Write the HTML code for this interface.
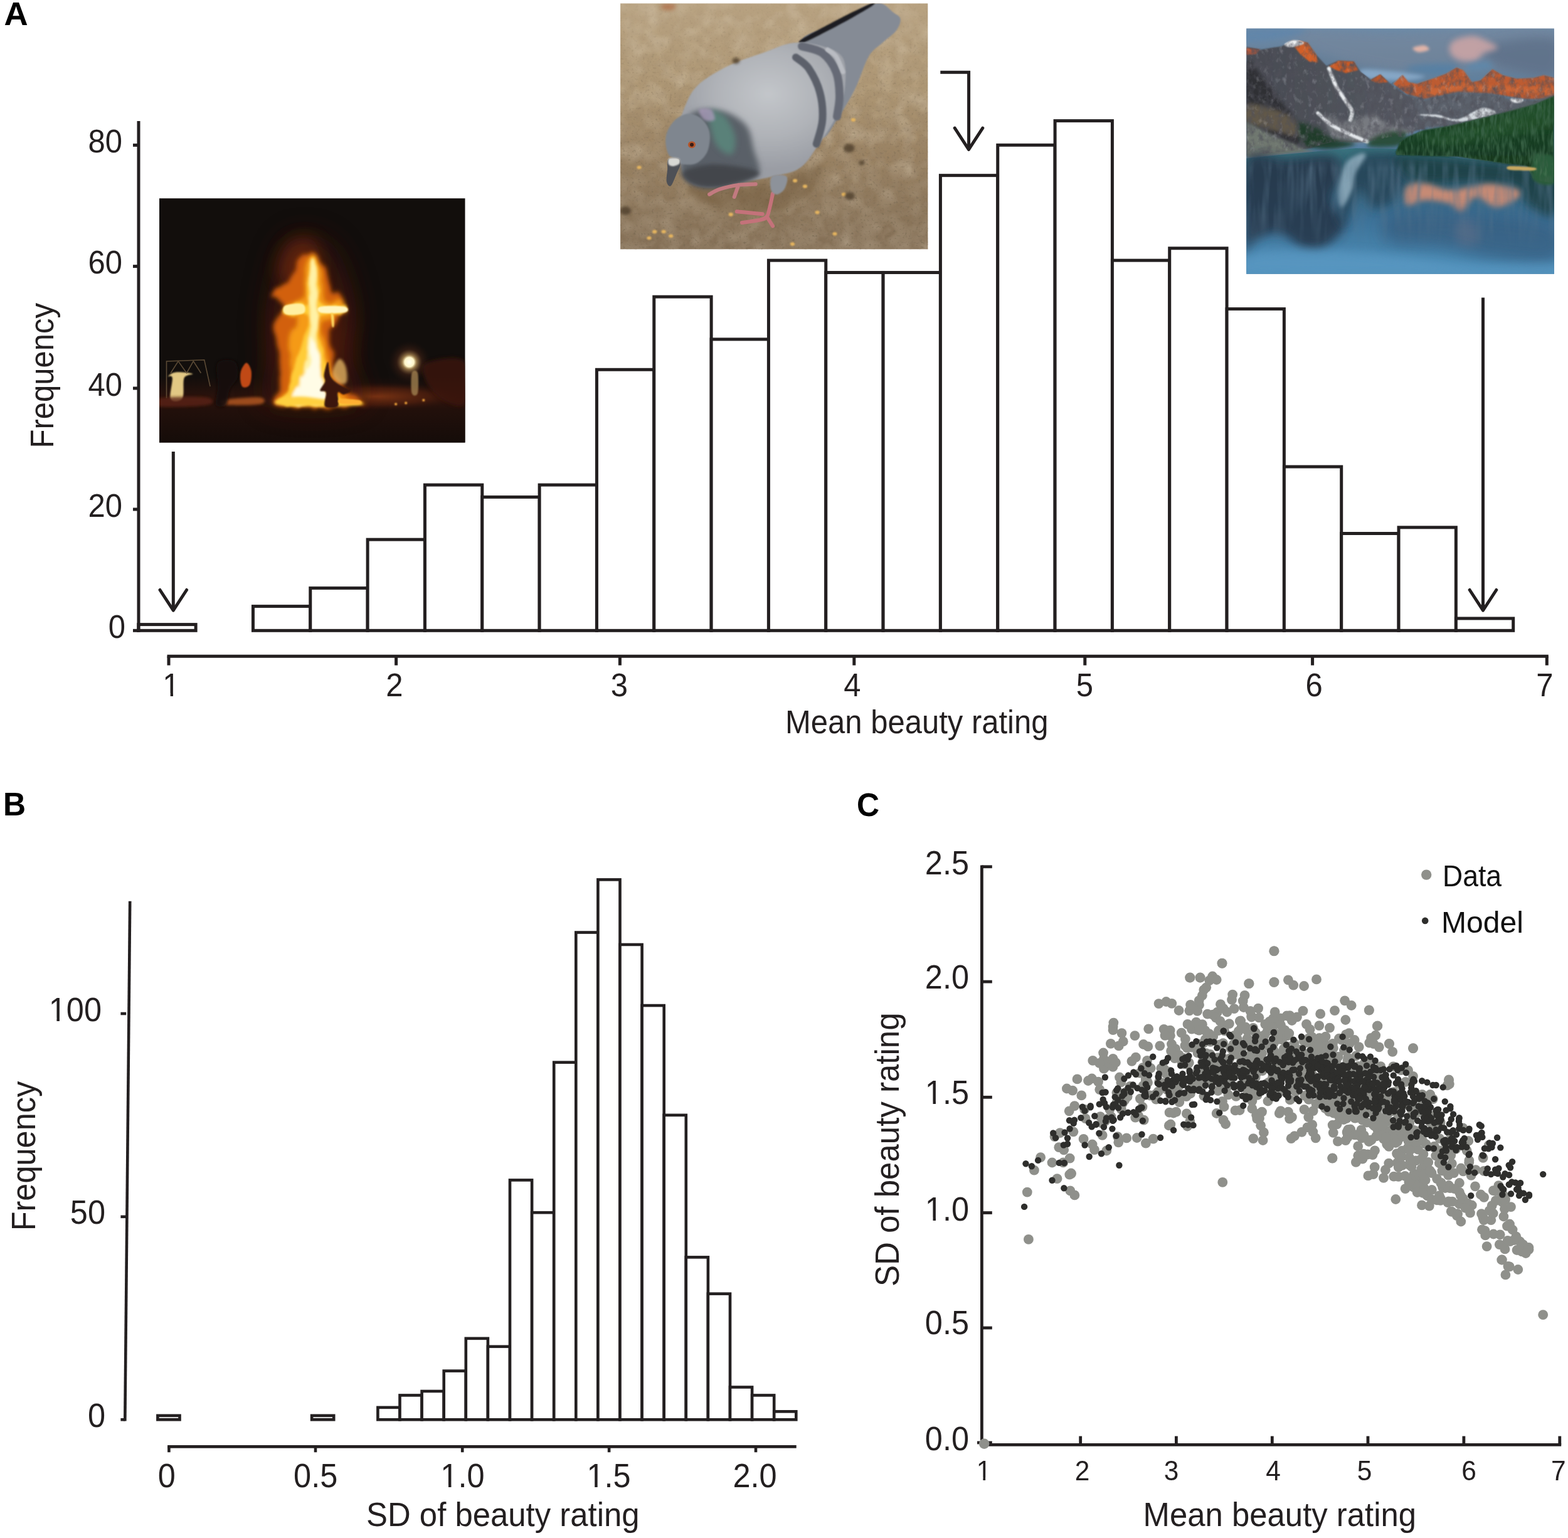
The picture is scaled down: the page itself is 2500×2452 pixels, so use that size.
<!DOCTYPE html>
<html lang="en"><head><meta charset="utf-8"><title>Figure</title>
<style>html,body{margin:0;padding:0;background:#fff}svg{display:block}</style></head><body>
<svg width="2500" height="2452" viewBox="0 0 2500 2452" role="img" aria-label="Distributions of mean beauty ratings and their standard deviations">
<rect width="2500" height="2452" fill="#fff"/>
<g id="panelA">
<text font-size="50" font-family='"Liberation Sans", Arial, Helvetica, sans-serif' fill="#000" font-weight="bold" transform="translate(6.6 40) scale(1 1.045)" textLength="38.2" lengthAdjust="spacingAndGlyphs">A</text>
<rect x="220.80" y="995.62" width="91.33" height="9.68" fill="#fff" stroke="#231f20" stroke-width="5"/>
<rect x="403.46" y="966.60" width="91.33" height="38.70" fill="#fff" stroke="#231f20" stroke-width="5"/>
<rect x="494.79" y="937.57" width="91.33" height="67.73" fill="#fff" stroke="#231f20" stroke-width="5"/>
<rect x="586.12" y="860.17" width="91.33" height="145.12" fill="#fff" stroke="#231f20" stroke-width="5"/>
<rect x="677.45" y="773.10" width="91.33" height="232.20" fill="#fff" stroke="#231f20" stroke-width="5"/>
<rect x="768.78" y="792.45" width="91.33" height="212.85" fill="#fff" stroke="#231f20" stroke-width="5"/>
<rect x="860.11" y="773.10" width="91.33" height="232.20" fill="#fff" stroke="#231f20" stroke-width="5"/>
<rect x="951.44" y="589.27" width="91.33" height="416.03" fill="#fff" stroke="#231f20" stroke-width="5"/>
<rect x="1042.77" y="473.17" width="91.33" height="532.12" fill="#fff" stroke="#231f20" stroke-width="5"/>
<rect x="1134.10" y="540.90" width="91.33" height="464.40" fill="#fff" stroke="#231f20" stroke-width="5"/>
<rect x="1225.43" y="415.12" width="91.33" height="590.18" fill="#fff" stroke="#231f20" stroke-width="5"/>
<rect x="1316.76" y="434.47" width="91.33" height="570.83" fill="#fff" stroke="#231f20" stroke-width="5"/>
<rect x="1408.09" y="434.47" width="91.33" height="570.83" fill="#fff" stroke="#231f20" stroke-width="5"/>
<rect x="1499.42" y="279.67" width="91.33" height="725.62" fill="#fff" stroke="#231f20" stroke-width="5"/>
<rect x="1590.75" y="231.30" width="91.33" height="774.00" fill="#fff" stroke="#231f20" stroke-width="5"/>
<rect x="1682.08" y="192.60" width="91.33" height="812.70" fill="#fff" stroke="#231f20" stroke-width="5"/>
<rect x="1773.41" y="415.12" width="91.33" height="590.18" fill="#fff" stroke="#231f20" stroke-width="5"/>
<rect x="1864.74" y="395.77" width="91.33" height="609.53" fill="#fff" stroke="#231f20" stroke-width="5"/>
<rect x="1956.07" y="492.52" width="91.33" height="512.78" fill="#fff" stroke="#231f20" stroke-width="5"/>
<rect x="2047.40" y="744.07" width="91.33" height="261.23" fill="#fff" stroke="#231f20" stroke-width="5"/>
<rect x="2138.73" y="850.50" width="91.33" height="154.80" fill="#fff" stroke="#231f20" stroke-width="5"/>
<rect x="2230.06" y="840.82" width="91.33" height="164.48" fill="#fff" stroke="#231f20" stroke-width="5"/>
<rect x="2321.39" y="985.95" width="91.33" height="19.35" fill="#fff" stroke="#231f20" stroke-width="5"/>
<line x1="221.0" y1="193" x2="221.0" y2="1007.8" stroke="#231f20" stroke-width="5" stroke-linecap="butt"/>
<line x1="212" y1="231.4" x2="221.0" y2="231.4" stroke="#231f20" stroke-width="5" stroke-linecap="butt"/>
<text font-size="49" font-family='"Liberation Sans", Arial, Helvetica, sans-serif' fill="#231f20" text-anchor="end" transform="translate(195 243.0) scale(1 1.045)">80</text>
<line x1="212" y1="424.6" x2="221.0" y2="424.6" stroke="#231f20" stroke-width="5" stroke-linecap="butt"/>
<text font-size="49" font-family='"Liberation Sans", Arial, Helvetica, sans-serif' fill="#231f20" text-anchor="end" transform="translate(195 436.20000000000005) scale(1 1.045)">60</text>
<line x1="212" y1="619" x2="221.0" y2="619" stroke="#231f20" stroke-width="5" stroke-linecap="butt"/>
<text font-size="49" font-family='"Liberation Sans", Arial, Helvetica, sans-serif' fill="#231f20" text-anchor="end" transform="translate(195 630.6) scale(1 1.045)">40</text>
<line x1="212" y1="812" x2="221.0" y2="812" stroke="#231f20" stroke-width="5" stroke-linecap="butt"/>
<text font-size="49" font-family='"Liberation Sans", Arial, Helvetica, sans-serif' fill="#231f20" text-anchor="end" transform="translate(195 823.6) scale(1 1.045)">20</text>
<line x1="212" y1="1005.3" x2="221.0" y2="1005.3" stroke="#231f20" stroke-width="5" stroke-linecap="butt"/>
<text font-size="49" font-family='"Liberation Sans", Arial, Helvetica, sans-serif' fill="#231f20" text-anchor="end" transform="translate(200 1016.9) scale(1 1.045)">0</text>
<text font-size="49" font-family='"Liberation Sans", Arial, Helvetica, sans-serif' fill="#231f20" transform="translate(84.8 714.5) rotate(-90) scale(1 1.045)">Frequency</text>
<line x1="266.5" y1="1046.3" x2="2468.8" y2="1046.3" stroke="#231f20" stroke-width="5" stroke-linecap="butt"/>
<line x1="269" y1="1046.3" x2="269" y2="1060.7" stroke="#231f20" stroke-width="5" stroke-linecap="butt"/>
<clipPath id="one1"><path d="M-33.63 -58.80H33.63V19.60H-33.63Z M-11.23 -4.06H-1.30V3H-11.23Z M3.03 -4.06H12.69V3H3.03Z" clip-rule="evenodd"/></clipPath>
<text font-size="49" font-family='"Liberation Sans", Arial, Helvetica, sans-serif' fill="#231f20" text-anchor="middle" transform="translate(273 1109.6) scale(1 1.045)" clip-path="url(#one1)">1</text>
<line x1="631.6" y1="1046.3" x2="631.6" y2="1060.7" stroke="#231f20" stroke-width="5" stroke-linecap="butt"/>
<text font-size="49" font-family='"Liberation Sans", Arial, Helvetica, sans-serif' fill="#231f20" text-anchor="middle" transform="translate(628.9 1109.6) scale(1 1.045)">2</text>
<line x1="988.4" y1="1046.3" x2="988.4" y2="1060.7" stroke="#231f20" stroke-width="5" stroke-linecap="butt"/>
<text font-size="49" font-family='"Liberation Sans", Arial, Helvetica, sans-serif' fill="#231f20" text-anchor="middle" transform="translate(987.5 1109.6) scale(1 1.045)">3</text>
<line x1="1361.8" y1="1046.3" x2="1361.8" y2="1060.7" stroke="#231f20" stroke-width="5" stroke-linecap="butt"/>
<text font-size="49" font-family='"Liberation Sans", Arial, Helvetica, sans-serif' fill="#231f20" text-anchor="middle" transform="translate(1359 1109.6) scale(1 1.045)">4</text>
<line x1="1729.8" y1="1046.3" x2="1729.8" y2="1060.7" stroke="#231f20" stroke-width="5" stroke-linecap="butt"/>
<text font-size="49" font-family='"Liberation Sans", Arial, Helvetica, sans-serif' fill="#231f20" text-anchor="middle" transform="translate(1729.4 1109.6) scale(1 1.045)">5</text>
<line x1="2092.6" y1="1046.3" x2="2092.6" y2="1060.7" stroke="#231f20" stroke-width="5" stroke-linecap="butt"/>
<text font-size="49" font-family='"Liberation Sans", Arial, Helvetica, sans-serif' fill="#231f20" text-anchor="middle" transform="translate(2095.2 1109.6) scale(1 1.045)">6</text>
<line x1="2466.3" y1="1046.3" x2="2466.3" y2="1060.7" stroke="#231f20" stroke-width="5" stroke-linecap="butt"/>
<text font-size="49" font-family='"Liberation Sans", Arial, Helvetica, sans-serif' fill="#231f20" text-anchor="middle" transform="translate(2462.9 1109.6) scale(1 1.045)">7</text>
<text font-size="49" font-family='"Liberation Sans", Arial, Helvetica, sans-serif' fill="#231f20" transform="translate(1252 1168.7) scale(1 1.045)">Mean beauty rating</text>
<path d="M276.3 720 L276.3 972.7" fill="none" stroke="#231f20" stroke-width="5" stroke-linecap="butt" stroke-linejoin="miter"/>
<path d="M255.0 940.5 L276.3 973.1 L297.6 940.5" fill="none" stroke="#231f20" stroke-width="5" stroke-linecap="round" stroke-linejoin="round"/>
<path d="M2364.5 474.6 L2364.5 972.7" fill="none" stroke="#231f20" stroke-width="5" stroke-linecap="butt" stroke-linejoin="miter"/>
<path d="M2343.2 940.5 L2364.5 973.1 L2385.8 940.5" fill="none" stroke="#231f20" stroke-width="5" stroke-linecap="round" stroke-linejoin="round"/>
<path d="M1499.3 115.3 L1544.6 115.3 L1544.6 237" fill="none" stroke="#231f20" stroke-width="5" stroke-linecap="butt" stroke-linejoin="miter"/>
<path d="M1522.2 204.1 L1544.5 238.3 L1566.8 204.1" fill="none" stroke="#231f20" stroke-width="5" stroke-linecap="round" stroke-linejoin="round"/>
</g>
<defs>
<clipPath id="cp1"><rect x="254" y="316.2" width="487.5" height="389.2"/></clipPath>
<clipPath id="cp2"><rect x="989.1" y="5.5" width="490.2" height="391.8"/></clipPath>
<clipPath id="cp3"><rect x="1987.2" y="45.6" width="490.7" height="391.2"/></clipPath>
<filter id="b1" x="-50%" y="-50%" width="200%" height="200%"><feGaussianBlur stdDeviation="1"/></filter>
<filter id="b2" x="-50%" y="-50%" width="200%" height="200%"><feGaussianBlur stdDeviation="2"/></filter>
<filter id="b3" x="-50%" y="-50%" width="200%" height="200%"><feGaussianBlur stdDeviation="3"/></filter>
<filter id="b5" x="-50%" y="-50%" width="200%" height="200%"><feGaussianBlur stdDeviation="5"/></filter>
<filter id="b8" x="-50%" y="-50%" width="200%" height="200%"><feGaussianBlur stdDeviation="8"/></filter>
<filter id="b12" x="-50%" y="-50%" width="200%" height="200%"><feGaussianBlur stdDeviation="12"/></filter>
<filter id="b20" x="-50%" y="-50%" width="200%" height="200%"><feGaussianBlur stdDeviation="20"/></filter>
</defs>
<g id="photo-fire" clip-path="url(#cp1)">
<defs>
<radialGradient id="fg1" cx="497" cy="545" r="150" gradientUnits="userSpaceOnUse" gradientTransform="translate(497 545) scale(0.62 1) translate(-497 -545)"><stop offset="0" stop-color="#8a3208" stop-opacity="1"/><stop offset="0.45" stop-color="#5a1c08" stop-opacity=".85"/><stop offset="1" stop-color="#2a0e08" stop-opacity="0"/></radialGradient>
<radialGradient id="fg2" cx="652.6" cy="577.3" r="34" gradientUnits="userSpaceOnUse"><stop offset="0" stop-color="#fffff0"/><stop offset="0.22" stop-color="#fff6c8"/><stop offset="0.34" stop-color="#c8a060" stop-opacity=".7"/><stop offset="0.6" stop-color="#60301c" stop-opacity=".35"/><stop offset="1" stop-color="#30140c" stop-opacity="0"/></radialGradient>
<linearGradient id="fg3" x1="0" y1="600" x2="0" y2="705" gradientUnits="userSpaceOnUse"><stop offset="0" stop-color="#2a120c" stop-opacity="0"/><stop offset="0.35" stop-color="#2e130c"/><stop offset="0.5" stop-color="#22100b"/><stop offset="1" stop-color="#150c09"/></linearGradient>
<radialGradient id="fg4" cx="600" cy="632" r="140" gradientUnits="userSpaceOnUse" gradientTransform="translate(600 632) scale(1 0.16) translate(-600 -632)"><stop offset="0" stop-color="#7a3414"/><stop offset="0.6" stop-color="#4c1e0e" stop-opacity=".8"/><stop offset="1" stop-color="#2c120c" stop-opacity="0"/></radialGradient>
</defs>
<rect x="250" y="312" width="496" height="398" fill="#120e0c"/>
<rect x="250" y="312" width="496" height="398" fill="url(#fg1)"/>
<rect x="250" y="600" width="496" height="110" fill="url(#fg3)"/>
<rect x="250" y="600" width="496" height="70" fill="url(#fg4)"/>
<filter id="flm" x="-30%" y="-30%" width="160%" height="160%"><feTurbulence type="fractalNoise" baseFrequency="0.045 0.02" numOctaves="2" seed="3" result="n"/><feDisplacementMap in="SourceGraphic" in2="n" scale="26" xChannelSelector="R" yChannelSelector="G"/><feGaussianBlur stdDeviation="3.6"/></filter>
<filter id="flm2" x="-30%" y="-30%" width="160%" height="160%"><feTurbulence type="fractalNoise" baseFrequency="0.06 0.025" numOctaves="2" seed="8" result="n"/><feDisplacementMap in="SourceGraphic" in2="n" scale="16" xChannelSelector="R" yChannelSelector="G"/><feGaussianBlur stdDeviation="2.2"/></filter>
<path d="M481.1 372.3 C494.5 371.9 516.8 377.2 529.3 388.4 C541.8 399.6 549.4 420.1 556.1 439.3 C562.8 458.5 568.6 482.2 569.5 503.6 C570.4 525.0 560.6 544.7 561.5 567.9 C562.4 591.1 597.2 630.0 574.9 642.9 C552.6 655.9 452.5 658.1 427.5 645.6 C402.5 633.1 425.7 591.6 424.9 567.9 C424.0 544.2 420.8 525.0 422.2 503.6 C423.5 482.2 428.4 458.1 432.9 439.3 C437.4 420.6 440.9 402.2 449.0 391.1 C457.0 379.9 467.7 372.8 481.1 372.3Z" fill="#3c1208" opacity=".6" filter="url(#b20)"/>
<path d="M459.7 388.4 C468.2 379.5 486.0 377.2 494.5 380.4 C503.0 383.5 508.3 395.6 510.6 407.2 C512.8 418.8 514.6 441.1 507.9 450.0 C501.2 459.0 481.1 463.4 470.4 460.7 C459.7 458.1 445.4 446.0 443.6 434.0 C441.8 421.9 451.2 397.3 459.7 388.4Z" fill="#7a2a0c" opacity=".6" filter="url(#b12)"/>
<g filter="url(#flm)">
<path d="M497.2 403.1 C502.1 403.6 506.1 411.8 510.6 417.9 C515.0 423.9 520.0 431.3 524.0 439.3 C528.0 447.3 529.8 458.5 534.7 466.1 C539.6 473.7 550.5 479.0 553.4 484.9 C556.3 490.7 555.2 496.5 552.1 500.9 C549.0 505.4 538.9 504.9 534.7 511.6 C530.5 518.3 527.5 531.7 526.7 541.1 C525.8 550.5 528.0 559.0 529.3 567.9 C530.7 576.8 531.6 585.8 534.7 594.7 C537.8 603.6 541.8 613.9 548.1 621.5 C554.3 629.1 568.6 636.0 572.2 640.2 C575.8 644.5 591.0 645.8 569.5 646.9 C548.1 648.1 464.1 651.2 443.6 646.9 C423.1 642.7 445.4 630.2 446.3 621.5 C447.2 612.8 449.4 603.6 449.0 594.7 C448.5 585.8 444.9 576.8 443.6 567.9 C442.3 559.0 441.8 550.0 440.9 541.1 C440.0 532.2 436.5 521.5 438.2 514.3 C440.0 507.2 449.4 503.2 451.6 498.2 C453.9 493.3 454.3 490.2 451.6 484.9 C449.0 479.5 432.9 473.7 435.6 466.1 C438.2 458.5 460.1 447.8 467.7 439.3 C475.3 430.8 476.2 421.2 481.1 415.2 C486.0 409.2 492.3 402.7 497.2 403.1Z" fill="#d2600e" />
<path d="M497.7 407.2 C500.8 407.6 505.3 416.1 507.9 423.2 C510.5 430.4 511.5 441.5 513.3 450.0 C515.0 458.5 512.4 468.1 518.6 474.1 C524.9 480.2 545.4 482.0 550.8 486.2 C556.1 490.4 555.2 496.2 550.8 499.6 C546.3 502.9 529.8 500.3 524.0 506.3 C518.2 512.3 516.8 525.5 515.9 535.8 C515.0 546.0 517.3 558.1 518.6 567.9 C520.0 577.7 521.7 585.8 524.0 594.7 C526.2 603.6 528.0 613.4 532.0 621.5 C536.0 629.5 561.5 639.1 548.1 642.9 C534.7 646.7 466.4 647.8 451.6 644.3 C436.9 640.7 457.9 629.7 459.7 621.5 C461.5 613.2 462.4 603.6 462.4 594.7 C462.4 585.8 459.7 576.8 459.7 567.9 C459.7 559.0 460.6 550.5 462.4 541.1 C464.1 531.7 471.7 518.6 470.4 511.6 C469.1 504.7 457.0 503.8 454.3 499.6 C451.6 495.3 449.9 490.4 454.3 486.2 C458.8 482.0 475.8 481.1 481.1 474.1 C486.5 467.2 485.1 453.6 486.5 444.7 C487.8 435.7 487.3 426.8 489.1 420.6 C491.0 414.3 494.6 406.7 497.7 407.2Z" fill="#f59a16" />
</g>
<g filter="url(#flm2)">
<path d="M498.5 409.8 C501.0 409.8 504.8 420.1 506.6 428.6 C508.3 437.1 508.6 451.8 509.2 460.7 C509.9 469.7 503.9 477.7 510.6 482.2 C517.3 486.6 543.0 484.9 549.4 487.5 C555.9 490.2 555.7 495.6 549.4 498.2 C543.2 500.9 518.2 497.4 511.9 503.6 C505.7 509.9 511.0 525.0 511.9 535.8 C512.8 546.5 515.5 558.1 517.3 567.9 C519.1 577.7 520.6 585.8 522.6 594.7 C524.6 603.6 526.9 613.4 529.3 621.5 C531.8 629.5 550.3 639.1 537.4 642.9 C524.4 646.7 464.8 647.8 451.6 644.3 C438.5 640.7 456.1 629.7 458.3 621.5 C460.6 613.2 462.6 603.6 465.0 594.7 C467.5 585.8 469.9 577.7 473.1 567.9 C476.2 558.1 480.9 546.2 483.8 535.8 C486.7 525.3 495.2 511.0 490.5 504.9 C485.8 498.9 461.5 502.5 455.7 499.6 C449.9 496.7 450.1 490.4 455.7 487.5 C461.2 484.6 483.3 486.6 489.1 482.2 C495.0 477.7 490.0 469.7 490.5 460.7 C490.9 451.8 490.5 437.1 491.8 428.6 C493.2 420.1 496.1 409.8 498.5 409.8Z" fill="#ffcc38" />
<path d="M498.5 412.5 C500.1 412.5 502.8 424.1 503.9 434.0 C505.0 443.8 504.6 459.8 505.2 471.5 C505.9 483.1 507.7 492.0 507.9 503.6 C508.1 515.2 506.6 528.2 506.6 541.1 C506.6 554.1 507.2 570.1 507.9 581.3 C508.6 592.5 509.7 598.3 510.6 608.1 C511.5 617.9 520.0 634.7 513.3 640.2 C506.6 645.8 475.8 646.9 470.4 641.6 C465.0 636.2 478.0 618.1 481.1 608.1 C484.2 598.0 487.1 592.5 489.1 581.3 C491.2 570.1 492.3 554.1 493.2 541.1 C494.1 528.2 494.4 515.2 494.5 503.6 C494.6 492.0 494.0 483.1 494.0 471.5 C494.0 459.8 493.7 443.8 494.5 434.0 C495.3 424.1 497.0 412.5 498.5 412.5Z" fill="#fff2a6" />
<path d="M499.9 535.8 C502.5 535.8 505.7 569.2 507.9 581.3 C510.1 593.4 511.7 598.5 513.3 608.1 C514.8 617.7 524.9 633.5 517.3 638.9 C509.7 644.3 474.2 645.4 467.7 640.2 C461.2 635.1 474.4 617.9 478.4 608.1 C482.5 598.3 488.3 593.4 491.8 581.3 C495.4 569.2 497.2 535.8 499.9 535.8Z" fill="#fffce6" />
</g>
<path d="M454.3 487.5 C458.8 484.9 477.5 482.8 482.5 484.9 C487.4 486.9 488.3 496.9 483.8 499.6 C479.3 502.3 460.6 502.9 455.7 500.9 C450.8 498.9 449.9 490.2 454.3 487.5Z" fill="#fff0a0" filter="url(#b1)"/>
<path d="M510.6 488.9 C516.8 487.2 542.7 487.4 549.4 488.9 C556.1 490.3 557.0 496.1 550.8 497.7 C544.5 499.4 518.6 500.3 511.9 498.8 C505.2 497.3 504.3 490.5 510.6 488.9Z" fill="#fff6c0" filter="url(#b1)"/>
<path d="M528.0 499.6 C528.4 496.9 531.3 500.3 532.0 503.6 C532.8 507.0 533.0 517.0 532.5 519.7 C532.1 522.4 530.1 523.0 529.3 519.7 C528.6 516.3 527.5 502.3 528.0 499.6Z" fill="#ffd860" filter="url(#b1)"/>
<path d="M443.6 636.2 C449.6 634.0 467.7 632.0 481.1 632.2 C494.5 632.4 508.8 636.2 524.0 637.6 C539.2 638.9 564.2 638.8 572.2 640.2 C580.2 641.7 582.9 644.9 572.2 646.1 C561.5 647.4 529.1 647.8 507.9 647.7 C486.7 647.6 455.7 647.5 444.9 645.6 C434.2 643.7 437.6 638.5 443.6 636.2Z" fill="#ffd040" filter="url(#b2)"/>
<path d="M522.9 577.0 C524.7 577.5 524.5 594.5 527.6 600.6 C530.8 606.6 536.6 609.5 541.8 613.2 C547.1 616.9 558.1 620.0 559.1 622.6 C560.2 625.3 551.5 628.4 548.1 628.9 C544.7 629.5 540.2 622.6 538.7 625.8 C537.1 628.9 542.1 644.2 538.7 647.9 C535.2 651.5 521.3 651.5 518.2 647.9 C515.0 644.2 521.1 630.0 519.7 625.8 C518.4 621.6 510.6 625.5 510.3 622.6 C510.0 619.8 517.1 612.7 518.2 608.5 C519.2 604.3 515.8 602.7 516.6 597.4 C517.4 592.2 521.1 576.4 522.9 577.0Z" fill="#3a1408" filter="url(#b1)"/>
<path d="M541.8 572.2 C545.0 572.2 549.4 578.8 551.3 584.8 C553.1 590.9 554.4 604.0 552.8 608.5 C551.3 612.9 545.5 612.9 541.8 611.6 C538.1 610.3 532.4 605.1 530.8 600.6 C529.2 596.1 530.5 589.6 532.4 584.8 C534.2 580.1 538.7 572.2 541.8 572.2Z" fill="#e0b060" opacity=".8" filter="url(#b2)"/>
<circle cx="652.6" cy="577.3" r="34" fill="url(#fg2)"/>
<path d="M280.2 593.4 C286.7 592.7 304.7 594.5 307.0 596.0 C309.2 597.6 296.3 596.3 293.6 602.7 C290.9 609.2 294.5 629.3 290.9 634.9 C287.3 640.5 274.8 641.6 272.1 636.2 C269.5 630.9 275.5 608.8 274.8 602.7 C274.2 596.7 267.2 601.6 268.1 600.1 C269.0 598.5 273.7 594.0 280.2 593.4Z" fill="#e2c884" filter="url(#b1)"/>
<path d="M265.5 634.9 L265.5 575.9 L325.7 573.8 L335.1 616.1 M272.1 594.7 L284.2 575.9 L297.6 594.7 L308.3 575.9 L320.4 594.7" stroke="#6e5a40" stroke-width="1.6" fill="none" opacity=".8"/>
<path d="M392.7 578.6 C395.6 578.2 399.8 586.2 400.7 592.0 C401.6 597.8 400.5 609.4 398.1 613.4 C395.6 617.5 388.5 619.3 386.0 616.1 C383.6 613.0 382.2 600.9 383.3 594.7 C384.4 588.4 389.8 579.1 392.7 578.6Z" fill="#c04818" filter="url(#b1)"/>
<path d="M357.9 637.6 C367.0 635.5 404.5 632.4 414.1 633.5 C423.7 634.7 424.6 642.2 415.5 644.3 C406.3 646.3 368.8 646.7 359.2 645.6 C349.6 644.5 348.7 639.6 357.9 637.6Z" fill="#b85a20" opacity=".8" filter="url(#b2)"/>
<path d="M256.1 634.9 C268.1 632.4 315.9 631.8 328.4 633.5 C340.9 635.3 343.1 643.1 331.1 645.6 C319.0 648.1 268.6 650.1 256.1 648.3 C243.6 646.5 244.0 637.3 256.1 634.9Z" fill="#5a2414" opacity=".8" filter="url(#b2)"/>
<path d="M347.2 578.6 C351.6 571.9 368.6 572.4 374.0 575.9 C379.3 579.5 380.6 592.5 379.3 600.1 C378.0 607.6 369.0 613.9 365.9 621.5 C362.8 629.1 364.1 641.6 360.6 645.6 C357.0 649.6 346.7 650.5 344.5 645.6 C342.2 640.7 346.7 627.3 347.2 616.1 C347.6 605.0 342.7 585.3 347.2 578.6Z" fill="#160c09" opacity=".9" filter="url(#b2)"/>
<path d="M679.4 578.6 C689.6 573.3 730.7 565.2 741.0 575.9 C751.2 586.7 746.8 632.6 741.0 642.9 C735.2 653.2 716.4 643.4 706.2 637.6 C695.9 631.8 683.8 617.9 679.4 608.1 C674.9 598.3 669.1 584.0 679.4 578.6Z" fill="#3c1810" opacity=".8" filter="url(#b3)"/>
<path d="M656.6 594.7 C658.2 589.3 664.4 589.3 666.0 594.7 C667.5 600.1 667.5 621.5 666.0 626.8 C664.4 632.2 658.2 632.2 656.6 626.8 C655.0 621.5 655.0 600.1 656.6 594.7Z" fill="#a08050" opacity=".8" filter="url(#b1)"/>
<circle cx="631.1" cy="644.3" r="2" fill="#ffb040" filter="url(#b1)"/>
<circle cx="675.3" cy="638.1" r="2" fill="#ffb040" filter="url(#b1)"/>
<circle cx="647.2" cy="642.4" r="2" fill="#ffb040" filter="url(#b1)"/>
<circle cx="561.5" cy="640.2" r="2" fill="#ffb040" filter="url(#b1)"/>
<path d="M542.7 636.2 C547.6 635.3 567.1 636.8 572.2 638.1 C577.3 639.4 578.5 643.4 573.5 644.3 C568.6 645.1 547.9 644.8 542.7 643.5 C537.6 642.1 537.8 637.1 542.7 636.2Z" fill="#ffb030" filter="url(#b1)"/>
</g>
<g id="photo-pigeon" clip-path="url(#cp2)">
<defs>
<linearGradient id="pg1" x1="0" y1="5" x2="0" y2="398" gradientUnits="userSpaceOnUse"><stop offset="0" stop-color="#b9a382"/><stop offset="0.35" stop-color="#af9875"/><stop offset="0.62" stop-color="#9a8262"/><stop offset="0.82" stop-color="#8c765a"/><stop offset="1" stop-color="#846f56"/></linearGradient>
<filter id="soil" x="0" y="0" width="100%" height="100%"><feTurbulence type="fractalNoise" baseFrequency="0.09" numOctaves="3" seed="4"/><feColorMatrix type="matrix" values="0 0 0 0 0.30  0 0 0 0 0.22  0 0 0 0 0.14  0.9 0.9 0 0 -0.62"/></filter>
<filter id="soil2" x="0" y="0" width="100%" height="100%"><feTurbulence type="fractalNoise" baseFrequency="0.035" numOctaves="2" seed="9"/><feColorMatrix type="matrix" values="0 0 0 0 0.80  0 0 0 0 0.72  0 0 0 0 0.58  0.9 0.9 0 0 -0.75"/></filter>
<linearGradient id="pgm" x1="0" y1="5" x2="0" y2="398" gradientUnits="userSpaceOnUse"><stop offset="0" stop-color="#fff" stop-opacity="0.1"/><stop offset="0.5" stop-color="#fff" stop-opacity=".5"/><stop offset="1" stop-color="#fff" stop-opacity="1"/></linearGradient>
<mask id="pgmask"><rect x="985" y="0" width="500" height="400" fill="url(#pgm)"/></mask>
<radialGradient id="pg2" cx="1225" cy="150" r="150" gradientUnits="userSpaceOnUse" gradientTransform="translate(1225 150) scale(1 0.8) translate(-1225 -150)"><stop offset="0" stop-color="#c3c6ca"/><stop offset="0.55" stop-color="#b0b3b8"/><stop offset="1" stop-color="#9a9da4"/></radialGradient>
</defs>
<rect x="985" y="0" width="500" height="402" fill="url(#pg1)"/>
<rect x="985" y="0" width="500" height="402" filter="url(#soil2)" opacity=".5"/>
<g mask="url(#pgmask)"><rect x="985" y="0" width="500" height="402" filter="url(#soil)"/></g>
<filter id="speck" x="0" y="0" width="100%" height="100%"><feTurbulence type="fractalNoise" baseFrequency="0.28" numOctaves="2" seed="17"/><feColorMatrix type="matrix" values="0 0 0 0 0.20  0 0 0 0 0.15  0 0 0 0 0.09  2.6 2.0 0 0 -2.55"/></filter>
<g mask="url(#pgmask)"><rect x="985" y="0" width="500" height="402" filter="url(#speck)" opacity=".85"/></g>
<path d="M1092.9 294.9 C1102.0 289.9 1158.9 300.4 1188.4 297.6 C1218.0 294.9 1249.9 284.9 1270.4 278.5 C1290.8 272.1 1309.0 253.5 1311.3 259.4 C1313.6 265.3 1299.9 300.4 1284.0 314.0 C1268.1 327.7 1240.8 339.0 1215.7 341.3 C1190.7 343.6 1154.3 335.4 1133.8 327.7 C1113.4 319.9 1083.8 299.9 1092.9 294.9Z" fill="#6e5638" opacity=".45" filter="url(#b5)"/>
<path d="M1278.5 64.2 C1283.1 52.8 1306.8 50.3 1325.0 41.0 C1343.2 31.6 1374.1 14.0 1387.8 8.2 C1401.4 2.4 1401.0 4.2 1406.9 6.0 C1412.8 7.8 1418.5 15.1 1423.3 19.1 C1428.0 23.1 1434.6 25.0 1435.6 30.0 C1436.5 35.0 1433.5 42.8 1428.7 49.1 C1423.9 55.5 1414.2 61.4 1406.9 68.3 C1399.6 75.1 1392.3 77.8 1385.0 90.1 C1377.8 102.4 1371.4 125.6 1363.2 142.0 C1355.0 158.4 1344.5 175.7 1335.9 188.4 C1327.2 201.1 1317.7 222.5 1311.3 218.4 C1304.9 214.3 1299.9 182.0 1297.7 163.8 C1295.4 145.6 1300.8 125.8 1297.7 109.2 C1294.5 92.6 1274.0 75.5 1278.5 64.2Z" fill="#858b95" filter="url(#b1)"/>
<path d="M1277.2 63.3 C1284.5 58.2 1306.8 46.3 1325.0 36.9 C1343.2 27.4 1375.3 11.3 1386.4 6.6 C1397.6 1.8 1396.6 4.5 1391.9 8.2 C1387.1 11.9 1370.2 21.6 1357.7 28.7 C1345.2 35.7 1329.5 44.0 1316.8 50.5 C1304.0 57.0 1287.9 65.6 1281.3 67.7 C1274.7 69.9 1269.9 68.5 1277.2 63.3Z" fill="#1d1d22" filter="url(#b1)"/>
<path d="M1090.1 174.8 C1095.6 161.1 1100.2 148.1 1112.0 136.5 C1123.8 124.9 1143.8 113.8 1161.1 105.1 C1178.4 96.5 1198.5 90.8 1215.7 84.6 C1233.0 78.5 1249.0 70.1 1264.9 68.3 C1280.8 66.4 1298.1 69.6 1311.3 73.7 C1324.5 77.8 1338.2 81.5 1344.1 92.8 C1350.0 104.2 1348.6 126.5 1346.8 142.0 C1345.0 157.5 1340.0 171.1 1333.2 185.7 C1326.3 200.2 1315.4 215.7 1305.9 229.4 C1296.3 243.0 1288.1 258.9 1275.8 267.6 C1263.5 276.2 1246.7 277.6 1232.1 281.2 C1217.6 284.9 1204.8 286.5 1188.4 289.4 C1172.1 292.4 1148.8 299.0 1133.8 299.0 C1118.8 299.0 1106.5 296.0 1098.3 289.4 C1090.1 282.8 1087.9 271.2 1084.7 259.4 C1081.5 247.6 1078.3 232.5 1079.2 218.4 C1080.1 204.3 1084.7 188.4 1090.1 174.8Z" fill="url(#pg2)" filter="url(#b1)"/>
<path d="M1269.0 91.5 C1272.4 94.4 1283.1 99.9 1289.5 109.2 C1295.8 118.6 1303.6 133.8 1307.2 147.4 C1310.9 161.1 1312.2 177.5 1311.3 191.1 C1310.4 204.8 1303.4 223.0 1301.8 229.4" fill="none" stroke="#5b606b" stroke-width="12" stroke-linecap="round" filter="url(#b1)"/>
<path d="M1278.5 73.7 C1284.0 75.5 1302.2 77.8 1311.3 84.6 C1320.4 91.5 1328.6 103.3 1333.2 114.7 C1337.7 126.1 1338.4 141.1 1338.6 152.9 C1338.8 164.7 1335.2 180.2 1334.5 185.7" fill="none" stroke="#666b76" stroke-width="13" stroke-linecap="round" filter="url(#b1)"/>
<path d="M1319.5 79.2 C1321.8 81.0 1329.1 84.2 1333.2 90.1 C1337.3 96.0 1342.3 110.6 1344.1 114.7" fill="none" stroke="#b9bcc2" stroke-width="7" stroke-linecap="round" filter="url(#b1)"/>
<path d="M1098.3 185.7 C1098.3 180.2 1112.4 175.7 1122.9 174.8 C1133.4 173.8 1149.8 175.7 1161.1 180.2 C1172.5 184.8 1184.3 192.0 1191.2 202.1 C1198.0 212.1 1198.9 228.5 1202.1 240.3 C1205.3 252.1 1212.6 264.9 1210.3 273.1 C1208.0 281.2 1201.2 285.1 1188.4 289.4 C1175.7 293.8 1148.8 299.0 1133.8 299.0 C1118.8 299.0 1106.5 295.6 1098.3 289.4 C1090.1 283.3 1082.4 271.2 1084.7 262.1 C1087.0 253.0 1105.6 243.9 1112.0 234.8 C1118.4 225.7 1125.2 215.7 1122.9 207.5 C1120.6 199.3 1098.3 191.1 1098.3 185.7Z" fill="#5a6168" filter="url(#b5)"/>
<path d="M1090.1 273.1 C1096.5 268.5 1117.4 263.0 1133.8 262.1 C1150.2 261.2 1175.7 264.9 1188.4 267.6 C1201.2 270.3 1214.8 273.7 1210.3 278.5 C1205.7 283.3 1175.7 292.8 1161.1 296.3 C1146.6 299.7 1133.8 300.1 1122.9 299.0 C1112.0 297.9 1101.1 293.8 1095.6 289.4 C1090.1 285.1 1083.8 277.6 1090.1 273.1Z" fill="#3f4246" opacity=".85" filter="url(#b3)"/>
<path d="M1131.1 177.5 C1134.7 173.8 1148.8 178.8 1155.7 185.7 C1162.5 192.5 1170.2 208.4 1172.1 218.4 C1173.9 228.5 1171.1 243.0 1166.6 245.7 C1162.0 248.5 1150.2 241.2 1144.8 234.8 C1139.3 228.5 1136.1 217.1 1133.8 207.5 C1131.6 198.0 1127.5 181.1 1131.1 177.5Z" fill="#5a8a7e" opacity=".8" filter="url(#b5)"/>
<path d="M1114.7 174.8 C1116.5 172.0 1129.7 172.0 1133.8 174.8 C1137.9 177.5 1141.1 188.4 1139.3 191.1 C1137.5 193.9 1127.0 193.9 1122.9 191.1 C1118.8 188.4 1112.9 177.5 1114.7 174.8Z" fill="#a79ab8" opacity=".8" filter="url(#b2)"/>
<path d="M1061.5 218.4 C1062.8 209.8 1068.1 200.0 1073.8 193.9 C1079.4 187.7 1088.3 182.5 1095.6 181.6 C1102.9 180.7 1111.5 183.6 1117.4 188.4 C1123.4 193.2 1129.3 201.6 1131.1 210.3 C1132.9 218.9 1131.6 232.1 1128.4 240.3 C1125.2 248.5 1118.4 255.8 1112.0 259.4 C1105.6 263.0 1095.6 263.0 1090.1 262.1 C1084.7 261.2 1083.3 256.7 1079.2 253.9 C1075.1 251.2 1068.5 251.7 1065.6 245.7 C1062.6 239.8 1060.1 227.1 1061.5 218.4Z" fill="#7f868f" filter="url(#b1)"/>
<ellipse cx="1103.0" cy="230.7" rx="6" ry="5.5" fill="#b4552a"/><circle cx="1103.0" cy="230.7" r="3" fill="#3a1c14"/>
<path d="M1065.6 253.9 C1068.5 251.0 1078.8 251.2 1082.0 252.6 C1085.1 253.9 1085.1 258.3 1084.7 262.1 C1084.2 266.0 1081.7 270.1 1079.2 275.8 C1076.7 281.5 1072.4 294.0 1069.7 296.3 C1066.9 298.5 1063.7 293.8 1062.8 289.4 C1061.9 285.1 1063.7 276.2 1064.2 270.3 C1064.7 264.4 1062.6 256.9 1065.6 253.9Z" fill="#4e5056" />
<path d="M1066.9 252.6 C1069.6 251.0 1079.2 251.2 1082.0 252.6 C1084.7 253.9 1084.7 258.7 1083.3 260.8 C1082.0 262.8 1076.6 264.6 1073.8 264.9 C1070.9 265.1 1067.3 264.2 1066.1 262.1 C1065.0 260.1 1064.3 254.2 1066.9 252.6Z" fill="#d8d8d4" filter="url(#b1)"/>
<path d="M1232.1 308.5 C1231.4 311.7 1229.6 321.5 1228.0 327.7 C1226.4 333.8 1225.5 341.5 1222.6 345.4 C1219.6 349.3 1216.9 349.3 1210.3 350.9 C1203.7 352.5 1187.5 354.3 1183.0 355.0 M1222.6 345.4 L1232.1 360.4 M1215.7 341.3 L1174.8 337.2" fill="none" stroke="#c4727a" stroke-width="6" stroke-linecap="round" stroke-linejoin="round"/>
<path d="M1204.8 293.5 C1200.3 293.8 1187.1 293.5 1177.5 294.9 C1168.0 296.3 1155.2 299.2 1147.5 301.7 C1139.7 304.2 1133.8 308.5 1131.1 309.9 M1177.5 294.9 L1170.7 314.0" fill="none" stroke="#c27a80" stroke-width="6" stroke-linecap="round" stroke-linejoin="round"/>
<path d="M1230.8 281.2 C1234.9 277.6 1250.6 278.1 1254.0 281.2 C1257.4 284.4 1253.7 295.6 1251.2 300.4 C1248.7 305.1 1242.6 309.5 1239.0 309.9 C1235.3 310.4 1230.8 307.9 1229.4 303.1 C1228.0 298.3 1226.7 284.9 1230.8 281.2Z" fill="#8d929a" filter="url(#b1)"/>
<ellipse cx="1019.1" cy="267.0" rx="3.6" ry="2.8" fill="#e4b45e" filter="url(#b1)"/>
<ellipse cx="1043.7" cy="369.4" rx="3.6" ry="2.8" fill="#e4b45e" filter="url(#b1)"/>
<ellipse cx="1058.2" cy="369.2" rx="3.6" ry="2.8" fill="#e4b45e" filter="url(#b1)"/>
<ellipse cx="1069.7" cy="376.3" rx="3.6" ry="2.8" fill="#e4b45e" filter="url(#b1)"/>
<ellipse cx="1035.0" cy="379.5" rx="3.6" ry="2.8" fill="#e4b45e" filter="url(#b1)"/>
<ellipse cx="1283.5" cy="297.1" rx="3.6" ry="2.8" fill="#e4b45e" filter="url(#b1)"/>
<ellipse cx="1267.6" cy="288.1" rx="3.6" ry="2.8" fill="#e4b45e" filter="url(#b1)"/>
<ellipse cx="1303.1" cy="338.6" rx="3.6" ry="2.8" fill="#e4b45e" filter="url(#b1)"/>
<ellipse cx="1331.0" cy="372.7" rx="3.6" ry="2.8" fill="#e4b45e" filter="url(#b1)"/>
<ellipse cx="1263.5" cy="389.1" rx="3.6" ry="2.8" fill="#e4b45e" filter="url(#b1)"/>
<ellipse cx="1360.5" cy="191.1" rx="3.6" ry="2.8" fill="#e4b45e" filter="url(#b1)"/>
<ellipse cx="1165.2" cy="341.9" rx="3.6" ry="2.8" fill="#e4b45e" filter="url(#b1)"/>
<ellipse cx="1345.4" cy="309.9" rx="3.6" ry="2.8" fill="#e4b45e" filter="url(#b1)"/>
<ellipse cx="1353.6" cy="236.2" rx="9" ry="7.2" fill="#4e3e2a" opacity=".8" filter="url(#b2)"/>
<ellipse cx="1355.0" cy="312.6" rx="8" ry="6.4" fill="#4e3e2a" opacity=".8" filter="url(#b2)"/>
<ellipse cx="997.3" cy="335.9" rx="9" ry="7.2" fill="#4e3e2a" opacity=".8" filter="url(#b2)"/>
<ellipse cx="1173.4" cy="96.9" rx="6" ry="4.8" fill="#4e3e2a" opacity=".8" filter="url(#b2)"/>
<ellipse cx="1374.1" cy="259.4" rx="5" ry="4.0" fill="#4e3e2a" opacity=".8" filter="url(#b2)"/>
<ellipse cx="1065.6" cy="10.9" rx="12" ry="5" fill="#b0603a" opacity=".6" filter="url(#b3)"/>
</g>
<g id="photo-lake" clip-path="url(#cp3)">
<defs>
<linearGradient id="lk1" x1="0" y1="45" x2="0" y2="150" gradientUnits="userSpaceOnUse"><stop offset="0" stop-color="#6b8caa"/><stop offset="0.5" stop-color="#667f98"/><stop offset="1" stop-color="#5a82a4"/></linearGradient>
<linearGradient id="lk2" x1="0" y1="240" x2="0" y2="437" gradientUnits="userSpaceOnUse"><stop offset="0" stop-color="#3a727e"/><stop offset="0.2" stop-color="#315c70"/><stop offset="0.55" stop-color="#3d7298"/><stop offset="1" stop-color="#4f90ba"/></linearGradient>
<linearGradient id="lk3" x1="2000" y1="0" x2="2480" y2="0" gradientUnits="userSpaceOnUse"><stop offset="0" stop-color="#484b52"/><stop offset="0.5" stop-color="#555962"/><stop offset="1" stop-color="#5e656e"/></linearGradient>
<linearGradient id="lk4" x1="0" y1="150" x2="0" y2="280" gradientUnits="userSpaceOnUse"><stop offset="0" stop-color="#1f4a28"/><stop offset="1" stop-color="#13331d"/></linearGradient>
</defs>
<rect x="1983" y="41" width="500" height="400" fill="url(#lk1)"/>
<path d="M1987.2 45.6 C2007.1 41.3 2068.4 44.5 2106.5 45.6 C2144.6 46.6 2179.3 51.7 2215.7 51.8 C2252.2 52.0 2281.3 47.4 2325.0 46.4 C2368.7 45.3 2452.4 33.3 2477.9 45.6 C2503.4 57.9 2494.3 109.0 2477.9 120.1 C2461.5 131.2 2409.6 111.9 2379.6 111.9 C2349.5 111.9 2325.0 120.1 2297.7 120.1 C2270.4 120.1 2238.5 115.1 2215.7 111.9 C2193.0 108.7 2179.3 105.5 2161.1 101.0 C2142.9 96.4 2124.7 91.0 2106.5 84.6 C2088.3 78.2 2071.8 65.0 2051.9 62.8 C2032.0 60.5 1998.0 73.8 1987.2 71.0 C1976.4 68.1 1967.3 49.8 1987.2 45.6Z" fill="#76869c" opacity=".7" filter="url(#b8)"/>
<path d="M2379.6 71.0 C2396.9 65.5 2461.5 54.6 2477.9 62.8 C2494.3 71.0 2489.7 111.9 2477.9 120.1 C2466.0 128.3 2424.2 116.0 2406.9 111.9 C2389.6 107.8 2378.7 102.4 2374.1 95.5 C2369.6 88.7 2362.3 76.4 2379.6 71.0Z" fill="#5d6f88" opacity=".8" filter="url(#b8)"/>
<path d="M1986.4 46.4 C2001.9 42.7 2068.3 44.1 2079.2 46.4 C2090.1 48.7 2067.4 56.4 2051.9 60.0 C2036.4 63.7 1997.3 70.5 1986.4 68.2 C1975.5 66.0 1970.9 50.0 1986.4 46.4Z" fill="#5f86ac" opacity=".8" filter="url(#b5)"/>
<path d="M2169.3 111.9 C2173.4 109.6 2185.3 110.6 2202.1 111.9 C2218.9 113.3 2263.5 117.4 2270.4 120.1 C2277.2 122.8 2258.5 127.4 2243.1 128.3 C2227.6 129.2 2189.8 128.3 2177.5 125.6 C2165.2 122.8 2165.2 114.2 2169.3 111.9Z" fill="#8fb0d0" opacity=".8" filter="url(#b3)"/>
<path d="M2316.8 65.5 C2322.7 61.4 2337.7 57.3 2346.8 57.3 C2355.9 57.3 2364.6 62.3 2371.4 65.5 C2378.2 68.7 2388.7 73.2 2387.8 76.4 C2386.9 79.6 2371.8 81.2 2365.9 84.6 C2360.0 88.0 2359.1 95.1 2352.3 96.9 C2345.4 98.7 2331.8 98.0 2325.0 95.5 C2318.1 93.0 2312.7 86.9 2311.3 81.9 C2310.0 76.9 2310.9 69.6 2316.8 65.5Z" fill="#cfa6a6" opacity=".85" filter="url(#b5)"/>
<path d="M2243.1 111.9 C2249.9 114.6 2284.0 120.6 2297.7 120.1 C2311.3 119.7 2322.7 112.4 2325.0 109.2 C2327.2 106.0 2322.7 101.9 2311.3 101.0 C2299.9 100.1 2268.1 101.9 2256.7 103.7 C2245.3 105.5 2236.2 109.2 2243.1 111.9Z" fill="#4f7fa6" opacity=".7" filter="url(#b5)"/>
<path d="M2335.9 111.9 C2341.4 113.3 2373.7 111.5 2379.6 109.2 C2385.5 106.9 2376.8 99.6 2371.4 98.3 C2365.9 96.9 2352.7 98.7 2346.8 101.0 C2340.9 103.3 2330.4 110.6 2335.9 111.9Z" fill="#5a8ab0" opacity=".7" filter="url(#b5)"/>
<path d="M2252.6 76.4 C2254.0 74.6 2266.0 71.9 2270.4 72.3 C2274.7 72.8 2279.9 77.3 2278.5 79.1 C2277.2 81.0 2266.5 83.7 2262.2 83.2 C2257.8 82.8 2251.2 78.2 2252.6 76.4Z" fill="#e0b4a8" filter="url(#b2)"/>
<polygon points="2221.2,133.8 2236.2,119.6 2245.8,131.0 2259.4,133.8 2284.0,125.6 2305.9,117.4 2322.2,107.8 2333.2,111.9 2346.8,131.0 2360.5,128.3 2379.6,110.6 2396.0,120.1 2417.8,125.6 2445.1,124.2 2461.5,120.1 2477.9,124.2 2477.9,158.3 2434.2,158.3 2379.6,150.1 2325.0,147.4 2270.4,158.3 2243.1,150.1" fill="#bd5c30" filter="url(#b1)"/>
<path d="M2270.4 144.7 C2277.2 141.5 2306.8 135.1 2325.0 133.8 C2343.2 132.4 2354.1 135.6 2379.6 136.5 C2405.1 137.4 2461.5 136.9 2477.9 139.2 C2494.3 141.5 2494.3 149.2 2477.9 150.1 C2461.5 151.1 2405.1 145.6 2379.6 144.7 C2354.1 143.8 2340.9 143.3 2325.0 144.7 C2309.0 146.0 2293.1 152.9 2284.0 152.9 C2274.9 152.9 2263.5 147.9 2270.4 144.7Z" fill="#d8703a" opacity=".5" filter="url(#b2)"/>
<polygon points="2243.1,150.1 2270.4,158.3 2325.0,146.0 2379.6,148.8 2412.3,158.3 2450.6,158.3 2477.9,150.1 2477.9,199.3 2243.1,204.8" fill="#5b626c" filter="url(#b2)"/>
<path d="M2259.4 182.9 C2259.4 183.6 2281.3 185.2 2292.2 187.0 C2303.1 188.8 2314.0 193.6 2325.0 193.8 C2335.9 194.1 2347.7 190.6 2357.7 188.4 C2367.7 186.1 2384.1 182.9 2385.0 180.2 C2385.9 177.4 2373.2 170.4 2363.2 172.0 C2353.2 173.6 2336.8 187.9 2325.0 189.7 C2313.1 191.6 2303.1 184.0 2292.2 182.9 C2281.3 181.8 2259.4 182.2 2259.4 182.9Z" fill="#dfe5ea" opacity=".9" filter="url(#b1)"/>
<path d="M2409.6 157.0 C2412.6 156.3 2426.5 157.2 2428.7 158.3 C2431.0 159.5 2426.2 163.1 2423.3 163.8 C2420.3 164.5 2413.3 163.6 2411.0 162.4 C2408.7 161.3 2406.7 157.7 2409.6 157.0Z" fill="#e8ecee" filter="url(#b1)"/>
<polygon points="1987.2,75.1 2011.0,79.1 2043.7,73.7 2060.1,64.1 2084.7,68.2 2098.3,87.3 2114.7,105.1 2133.8,96.9 2158.4,98.3 2169.3,114.6 2185.7,126.9 2200.7,118.7 2217.1,133.8 2232.1,144.7 2254.0,158.3 2259.4,193.8 2273.1,204.8 2215.7,218.4 2177.5,226.6 2122.9,226.6 2084.7,237.5 1987.2,248.4" fill="url(#lk3)" filter="url(#b1)"/>
<path d="M1987.2 101.0 C1991.2 88.7 2002.4 111.0 2011.0 120.1 C2019.5 129.2 2030.1 145.1 2038.3 155.6 C2046.5 166.1 2054.2 172.0 2060.1 182.9 C2066.0 193.8 2073.8 212.9 2073.8 221.1 C2073.8 229.3 2068.3 232.1 2060.1 232.1 C2051.9 232.1 2036.8 227.5 2024.6 221.1 C2012.5 214.8 1993.4 213.9 1987.2 193.8 C1981.0 173.8 1983.2 113.3 1987.2 101.0Z" fill="#2a2c2e" opacity=".8" filter="url(#b3)"/>
<path d="M1987.2 166.5 C1993.4 162.9 2012.5 168.3 2024.6 172.0 C2036.8 175.6 2052.4 181.1 2060.1 188.4 C2067.8 195.7 2074.7 212.0 2071.0 215.7 C2067.4 219.3 2052.2 213.9 2038.3 210.2 C2024.3 206.6 1995.7 201.1 1987.2 193.8 C1978.7 186.6 1981.0 170.2 1987.2 166.5Z" fill="#8a7a5c" opacity=".55" filter="url(#b3)"/>
<polygon points="2064.2,75.1 2071.0,65.0 2084.7,68.2 2098.3,87.3 2101.1,99.6 2087.4,98.3 2073.8,87.3" fill="#d0612a" filter="url(#b1)"/>
<polygon points="2118.8,105.9 2133.8,96.9 2158.4,98.3 2165.2,111.9 2144.8,116.8 2131.1,111.9" fill="#c85a28" filter="url(#b1)"/>
<polygon points="2185.7,127.8 2200.7,118.7 2213.0,131.0 2196.6,132.4" fill="#c0582a" filter="url(#b1)"/>
<polygon points="1987.2,76.4 2008.2,79.1 2002.8,86.0 1987.2,87.3" fill="#b8583a" filter="url(#b1)"/>
<path d="M2047.8 71.0 C2048.7 69.1 2057.6 64.6 2062.8 64.1 C2068.1 63.7 2077.9 66.9 2079.2 68.2 C2080.6 69.6 2074.7 71.2 2071.0 72.3 C2067.4 73.5 2061.2 75.3 2057.4 75.1 C2053.5 74.8 2046.9 72.8 2047.8 71.0Z" fill="#eef0f2" filter="url(#b1)"/>
<path d="M2112.0 182.9 C2116.5 181.1 2132.0 193.8 2144.8 193.8 C2157.5 193.8 2176.6 182.0 2188.4 182.9 C2200.3 183.8 2204.4 194.7 2215.7 199.3 C2227.1 203.8 2258.5 207.0 2256.7 210.2 C2254.9 213.4 2218.0 215.7 2204.8 218.4 C2191.6 221.1 2189.4 225.7 2177.5 226.6 C2165.7 227.5 2143.8 227.5 2133.8 223.9 C2123.8 220.2 2121.1 211.6 2117.4 204.8 C2113.8 197.9 2107.4 184.7 2112.0 182.9Z" fill="#7e8186" opacity=".85" filter="url(#b3)"/>
<polygon points="1987.2,193.8 2024.6,212.9 2079.2,237.5 2098.3,241.6 2051.9,245.7 1987.2,252.5" fill="#6f7870" filter="url(#b2)"/>
<path d="M2118.8 109.2 C2120.9 114.2 2126.3 130.1 2131.1 139.2 C2135.9 148.3 2143.4 157.4 2147.5 163.8 C2151.6 170.2 2154.8 172.9 2155.7 177.4 C2156.6 182.0 2153.4 188.8 2152.9 191.1" fill="none" stroke="#e9edf0" stroke-width="6" stroke-linecap="round" filter="url(#b1)"/>
<path d="M2101.1 180.2 C2104.7 183.4 2114.7 193.8 2122.9 199.3 C2131.1 204.8 2140.7 208.5 2150.2 212.9 C2159.8 217.4 2175.2 223.9 2180.3 226.1" fill="none" stroke="#e4e8ec" stroke-width="5.5" stroke-linecap="round" filter="url(#b1)"/>
<path d="M2071.0 196.6 C2075.6 193.8 2092.4 200.7 2101.1 204.8 C2109.7 208.8 2112.9 217.0 2122.9 221.1 C2132.9 225.2 2161.1 226.6 2161.1 229.3 C2161.1 232.1 2135.7 236.8 2122.9 237.5 C2110.2 238.2 2092.9 236.2 2084.7 233.4 C2076.5 230.7 2076.0 227.3 2073.8 221.1 C2071.5 215.0 2066.5 199.3 2071.0 196.6Z" fill="#1e3a26" opacity=".9" filter="url(#b3)"/>
<path d="M2188.4 221.1 C2193.9 217.3 2206.6 211.6 2215.7 210.2 C2224.8 208.8 2240.8 209.3 2243.1 212.9 C2245.3 216.6 2239.4 228.6 2229.4 232.1 C2219.4 235.5 2189.8 235.2 2183.0 233.4 C2176.2 231.6 2183.0 225.0 2188.4 221.1Z" fill="#264a30" opacity=".9" filter="url(#b3)"/>
<polygon points="1987.2,252.5 2051.9,245.7 2098.3,241.6 2161.1,236.2 2226.7,237.5 2297.7,248.4 2406.9,262.1 2477.9,275.7 2477.9,436.8 1987.2,436.8" fill="url(#lk2)" />
<path d="M1987.2 256.6 C1998.0 231.1 2029.3 255.3 2051.9 253.9 C2074.5 252.5 2108.3 244.8 2122.9 248.4 C2137.5 252.1 2139.3 264.4 2139.3 275.7 C2139.3 287.1 2122.0 303.1 2122.9 316.7 C2123.8 330.4 2146.6 344.9 2144.8 357.7 C2142.9 370.4 2122.9 386.8 2112.0 393.2 C2101.1 399.5 2091.5 399.5 2079.2 395.9 C2066.9 392.2 2051.9 373.1 2038.3 371.3 C2024.6 369.5 2005.8 379.1 1997.3 385.0 C1988.8 390.9 1988.9 428.2 1987.2 406.8 C1985.5 385.4 1976.4 282.1 1987.2 256.6Z" fill="#26394c" opacity=".9" filter="url(#b8)"/>
<path d="M2161.1 248.4 C2173.9 243.4 2213.0 241.2 2226.7 245.7 C2240.3 250.3 2242.1 266.2 2243.1 275.7 C2244.0 285.3 2236.7 294.9 2232.1 303.1 C2227.6 311.2 2223.0 320.3 2215.7 324.9 C2208.5 329.4 2196.6 334.0 2188.4 330.4 C2180.3 326.7 2173.9 298.5 2166.6 303.1 C2159.3 307.6 2150.2 353.1 2144.8 357.7 C2139.3 362.2 2132.9 344.0 2133.8 330.4 C2134.7 316.7 2145.7 289.4 2150.2 275.7 C2154.8 262.1 2148.4 253.4 2161.1 248.4Z" fill="#284558" opacity=".85" filter="url(#b8)"/>
<path d="M2232.1 248.4 C2251.2 245.3 2311.3 252.1 2352.3 256.6 C2393.2 261.2 2456.9 261.2 2477.9 275.7 C2498.8 290.3 2485.2 335.8 2477.9 344.0 C2470.6 352.2 2443.7 332.6 2434.2 324.9 C2424.6 317.2 2434.2 303.5 2420.5 297.6 C2406.9 291.7 2377.3 290.3 2352.3 289.4 C2327.2 288.5 2289.5 294.4 2270.4 292.1 C2251.2 289.9 2244.0 283.0 2237.6 275.7 C2231.2 268.5 2213.0 251.6 2232.1 248.4Z" fill="#1a4044" opacity=".9" filter="url(#b8)"/>
<path d="M2243.1 297.6 C2247.6 291.7 2259.0 291.2 2270.4 292.1 C2281.7 293.0 2297.7 302.4 2311.3 303.1 C2325.0 303.7 2340.9 297.8 2352.3 296.2 C2363.7 294.6 2368.2 292.4 2379.6 293.5 C2391.0 294.6 2414.2 299.2 2420.5 303.1 C2426.9 306.9 2423.7 312.2 2417.8 316.7 C2411.9 321.3 2396.0 330.8 2385.0 330.4 C2374.1 329.9 2361.4 312.6 2352.3 314.0 C2343.2 315.3 2337.3 336.7 2330.4 338.5 C2323.6 340.4 2321.3 328.1 2311.3 324.9 C2301.3 321.7 2281.7 319.0 2270.4 319.4 C2259.0 319.9 2247.6 331.3 2243.1 327.6 C2238.5 324.0 2238.5 303.5 2243.1 297.6Z" fill="#d68f74" opacity=".9" filter="url(#b5)"/>
<path d="M2325.0 352.2 C2330.4 349.9 2346.8 352.2 2352.3 357.7 C2357.7 363.1 2361.4 380.0 2357.7 385.0 C2354.1 390.0 2336.8 390.0 2330.4 387.7 C2324.1 385.4 2320.4 377.2 2319.5 371.3 C2318.6 365.4 2319.5 354.5 2325.0 352.2Z" fill="#b09aa6" opacity=".7" filter="url(#b8)"/>
<path d="M2144.8 262.1 C2150.2 252.5 2161.1 248.0 2166.6 245.7 C2172.1 243.4 2178.4 243.4 2177.5 248.4 C2176.6 253.4 2164.8 266.6 2161.1 275.7 C2157.5 284.8 2159.3 294.0 2155.7 303.1 C2152.0 312.2 2142.9 330.4 2139.3 330.4 C2135.7 330.4 2132.9 314.4 2133.8 303.1 C2134.7 291.7 2139.3 271.7 2144.8 262.1Z" fill="#a8c4d4" opacity=".7" filter="url(#b3)"/>
<path d="M2215.7 344.0 C2234.0 336.3 2281.3 336.3 2325.0 338.5 C2368.7 340.8 2452.4 344.5 2477.9 357.7 C2503.4 370.9 2494.3 408.6 2477.9 417.7 C2461.5 426.8 2409.6 416.4 2379.6 412.3 C2349.5 408.2 2325.0 397.7 2297.7 393.2 C2270.4 388.6 2229.4 393.2 2215.7 385.0 C2202.1 376.8 2197.5 351.7 2215.7 344.0Z" fill="#345a7c" opacity=".7" filter="url(#b12)"/>
<path d="M1987.2 406.8 C2002.5 400.4 2041.1 398.6 2079.2 398.6 C2117.3 398.6 2170.2 402.7 2215.7 406.8 C2261.3 410.9 2308.6 420.5 2352.3 423.2 C2396.0 425.9 2456.9 420.9 2477.9 423.2 C2498.8 425.5 2559.7 434.6 2477.9 436.8 C2396.1 439.1 2069.0 441.9 1987.2 436.8 C1905.4 431.8 1971.9 413.2 1987.2 406.8Z" fill="#5a98c2" opacity=".8" filter="url(#b8)"/>
<filter id="rock" x="0" y="0" width="100%" height="100%"><feTurbulence type="fractalNoise" baseFrequency="0.11 0.08" numOctaves="3" seed="12"/><feColorMatrix type="matrix" values="0 0 0 0 0.08  0 0 0 0 0.08  0 0 0 0 0.10  1.6 1.2 0 0 -1.15"/></filter>
<filter id="rockl" x="0" y="0" width="100%" height="100%"><feTurbulence type="fractalNoise" baseFrequency="0.13 0.09" numOctaves="3" seed="21"/><feColorMatrix type="matrix" values="0 0 0 0 0.72  0 0 0 0 0.74  0 0 0 0 0.80  1.5 1.3 0 0 -1.5"/></filter>
<filter id="rip" x="0" y="0" width="100%" height="100%"><feTurbulence type="fractalNoise" baseFrequency="0.09 0.012" numOctaves="2" seed="5"/><feColorMatrix type="matrix" values="0 0 0 0 0.10  0 0 0 0 0.18  0 0 0 0 0.26  1.5 1.0 0 0 -1.05"/></filter>
<clipPath id="cpm"><polygon points="1987.2,75.1 2011.0,79.1 2043.7,73.7 2060.1,64.1 2084.7,68.2 2098.3,87.3 2114.7,105.1 2133.8,96.9 2158.4,98.3 2169.3,114.6 2185.7,126.9 2200.7,118.7 2217.1,133.8 2236.2,119.6 2245.8,131.0 2259.4,133.8 2284.0,125.6 2305.9,117.4 2322.2,107.8 2333.2,111.9 2346.8,131.0 2360.5,128.3 2379.6,110.6 2396.0,120.1 2417.8,125.6 2445.1,124.2 2461.5,120.1 2477.9,124.2 2477.9,152.9 2406.9,177.4 2311.3,200.7 2243.1,218.4 2215.7,218.4 2177.5,226.6 2122.9,226.6 2084.7,237.5 1987.2,248.4"/></clipPath>
<g clip-path="url(#cpm)"><rect x="1983" y="41" width="500" height="220" filter="url(#rock)" opacity=".8"/><rect x="1983" y="41" width="500" height="220" filter="url(#rockl)" opacity=".3"/></g>
<linearGradient id="ripg" x1="0" y1="250" x2="0" y2="400" gradientUnits="userSpaceOnUse"><stop offset="0" stop-color="#fff" stop-opacity="0"/><stop offset="0.12" stop-color="#fff" stop-opacity="1"/><stop offset="0.55" stop-color="#fff" stop-opacity=".8"/><stop offset="1" stop-color="#fff" stop-opacity="0"/></linearGradient>
<mask id="ripm"><rect x="1983" y="240" width="500" height="200" fill="url(#ripg)"/></mask>
<g mask="url(#ripm)"><rect x="1983" y="240" width="500" height="200" filter="url(#rip)" opacity=".75"/></g>
<polygon points="2225.3,243.0 2232.1,226.6 2243.1,218.4 2270.4,207.5 2311.3,200.7 2352.3,191.1 2406.9,177.4 2447.8,166.5 2477.9,152.9 2477.9,277.1 2445.1,277.1 2434.2,264.8 2406.9,262.1 2325.0,249.8 2270.4,248.4 2226.7,247.1" fill="url(#lk4)" filter="url(#b1)"/>
<path d="M2270.4 215.7 C2279.5 210.2 2317.7 208.4 2352.3 199.3 C2386.9 190.2 2456.9 161.1 2477.9 161.1 C2498.8 161.1 2494.3 189.3 2477.9 199.3 C2461.5 209.3 2409.6 215.7 2379.6 221.1 C2349.5 226.6 2315.9 233.0 2297.7 232.1 C2279.5 231.1 2261.3 221.1 2270.4 215.7Z" fill="#27552f" opacity=".6" filter="url(#b5)"/>
<path d="M2445.1 248.4 C2447.4 241.6 2453.3 245.3 2458.8 245.7 C2464.2 246.2 2474.7 243.4 2477.9 251.2 C2481.1 258.9 2483.3 286.2 2477.9 292.1 C2472.4 298.0 2450.6 294.0 2445.1 286.7 C2439.7 279.4 2442.8 255.3 2445.1 248.4Z" fill="#2c5c3a" filter="url(#b2)"/>
<filter id="trees" x="0" y="0" width="100%" height="100%"><feTurbulence type="fractalNoise" baseFrequency="0.22 0.05" numOctaves="2" seed="31"/><feColorMatrix type="matrix" values="0 0 0 0 0.04  0 0 0 0 0.12  0 0 0 0 0.06  2.2 1.4 0 0 -1.5"/></filter>
<filter id="treesl" x="0" y="0" width="100%" height="100%"><feTurbulence type="fractalNoise" baseFrequency="0.24 0.06" numOctaves="2" seed="44"/><feColorMatrix type="matrix" values="0 0 0 0 0.30  0 0 0 0 0.50  0 0 0 0 0.28  2.0 1.5 0 0 -1.95"/></filter>
<clipPath id="cpf"><polygon points="2225.3,243.0 2232.1,226.6 2243.1,218.4 2270.4,207.5 2311.3,200.7 2352.3,191.1 2406.9,177.4 2447.8,166.5 2477.9,152.9 2477.9,292.1 2445.1,286.7 2434.2,264.8 2406.9,262.1 2325.0,249.8 2270.4,248.4 2226.7,247.1"/></clipPath>
<g clip-path="url(#cpf)"><rect x="2220" y="150" width="262" height="150" filter="url(#trees)" opacity=".9"/><rect x="2220" y="150" width="262" height="150" filter="url(#treesl)" opacity=".22"/></g>
<path d="M2406.9 264.8 C2413.3 264.2 2438.7 265.9 2445.1 267.0 C2451.5 268.1 2451.5 271.0 2445.1 271.7 C2438.7 272.3 2413.3 272.0 2406.9 270.8 C2400.5 269.7 2400.5 265.5 2406.9 264.8Z" fill="#c8a860" filter="url(#b1)"/>
</g>
<g id="panelB">
<text font-size="50" font-family='"Liberation Sans", Arial, Helvetica, sans-serif' fill="#000" font-weight="bold" transform="translate(5 1299.6) scale(1 1.045)">B</text>
<rect x="251.40" y="2256.83" width="35.10" height="6.47" fill="#e6e6e6" stroke="#231f20" stroke-width="4.6"/>
<rect x="497.10" y="2256.83" width="35.10" height="6.47" fill="#e6e6e6" stroke="#231f20" stroke-width="4.6"/>
<rect x="602.40" y="2243.88" width="35.10" height="19.42" fill="#fff" stroke="#231f20" stroke-width="4.6"/>
<rect x="637.50" y="2224.46" width="35.10" height="38.84" fill="#fff" stroke="#231f20" stroke-width="4.6"/>
<rect x="672.60" y="2217.99" width="35.10" height="45.31" fill="#fff" stroke="#231f20" stroke-width="4.6"/>
<rect x="707.70" y="2185.62" width="35.10" height="77.68" fill="#fff" stroke="#231f20" stroke-width="4.6"/>
<rect x="742.80" y="2133.84" width="35.10" height="129.46" fill="#fff" stroke="#231f20" stroke-width="4.6"/>
<rect x="777.90" y="2146.79" width="35.10" height="116.51" fill="#fff" stroke="#231f20" stroke-width="4.6"/>
<rect x="813.00" y="1881.39" width="35.10" height="381.91" fill="#fff" stroke="#231f20" stroke-width="4.6"/>
<rect x="848.10" y="1933.18" width="35.10" height="330.12" fill="#fff" stroke="#231f20" stroke-width="4.6"/>
<rect x="883.20" y="1693.68" width="35.10" height="569.62" fill="#fff" stroke="#231f20" stroke-width="4.6"/>
<rect x="918.30" y="1486.54" width="35.10" height="776.76" fill="#fff" stroke="#231f20" stroke-width="4.6"/>
<rect x="953.40" y="1402.39" width="35.10" height="860.91" fill="#fff" stroke="#231f20" stroke-width="4.6"/>
<rect x="988.50" y="1505.96" width="35.10" height="757.34" fill="#fff" stroke="#231f20" stroke-width="4.6"/>
<rect x="1023.60" y="1603.05" width="35.10" height="660.25" fill="#fff" stroke="#231f20" stroke-width="4.6"/>
<rect x="1058.70" y="1777.83" width="35.10" height="485.47" fill="#fff" stroke="#231f20" stroke-width="4.6"/>
<rect x="1093.80" y="2004.38" width="35.10" height="258.92" fill="#fff" stroke="#231f20" stroke-width="4.6"/>
<rect x="1128.90" y="2062.64" width="35.10" height="200.66" fill="#fff" stroke="#231f20" stroke-width="4.6"/>
<rect x="1164.00" y="2211.52" width="35.10" height="51.78" fill="#fff" stroke="#231f20" stroke-width="4.6"/>
<rect x="1199.10" y="2224.46" width="35.10" height="38.84" fill="#fff" stroke="#231f20" stroke-width="4.6"/>
<rect x="1234.20" y="2250.35" width="35.10" height="12.95" fill="#fff" stroke="#231f20" stroke-width="4.6"/>
<path d="M207.2 1436.7 L199.3 2265.5" fill="none" stroke="#231f20" stroke-width="4.6" stroke-linecap="butt" stroke-linejoin="miter"/>
<line x1="192.4" y1="1616" x2="201.2" y2="1616" stroke="#231f20" stroke-width="4.6" stroke-linecap="butt"/>
<clipPath id="one2"><path d="M-104.26 -60.60H20.00V20.20H-104.26Z M-81.79 -4.17H-71.56V3H-81.79Z M-67.09 -4.17H-57.13V3H-67.09Z" clip-rule="evenodd"/></clipPath>
<text font-size="50.5" font-family='"Liberation Sans", Arial, Helvetica, sans-serif' fill="#231f20" text-anchor="end" transform="translate(162 1627.6) scale(1 1.045)" clip-path="url(#one2)">100</text>
<line x1="192.4" y1="1939.8" x2="201.2" y2="1939.8" stroke="#231f20" stroke-width="4.6" stroke-linecap="butt"/>
<text font-size="50.5" font-family='"Liberation Sans", Arial, Helvetica, sans-serif' fill="#231f20" text-anchor="end" transform="translate(168 1951.3999999999999) scale(1 1.045)">50</text>
<line x1="192.4" y1="2263.3" x2="199.3" y2="2263.3" stroke="#231f20" stroke-width="4.6" stroke-linecap="butt"/>
<text font-size="50.5" font-family='"Liberation Sans", Arial, Helvetica, sans-serif' fill="#231f20" text-anchor="end" transform="translate(168 2274.9) scale(1 1.045)">0</text>
<text font-size="50.5" font-family='"Liberation Sans", Arial, Helvetica, sans-serif' fill="#231f20" transform="translate(55.7 1962.3) rotate(-90) scale(1 1.045)">Frequency</text>
<line x1="267.09999999999997" y1="2306.4" x2="1269.7" y2="2306.4" stroke="#231f20" stroke-width="4.6" stroke-linecap="butt"/>
<line x1="269.4" y1="2306.4" x2="269.4" y2="2315.3" stroke="#231f20" stroke-width="4.6" stroke-linecap="butt"/>
<text font-size="50.5" font-family='"Liberation Sans", Arial, Helvetica, sans-serif' fill="#231f20" text-anchor="middle" transform="translate(265.8 2371.2) scale(1 1.045)">0</text>
<line x1="503" y1="2306.4" x2="503" y2="2315.3" stroke="#231f20" stroke-width="4.6" stroke-linecap="butt"/>
<text font-size="50.5" font-family='"Liberation Sans", Arial, Helvetica, sans-serif' fill="#231f20" text-anchor="middle" transform="translate(503.2 2371.2) scale(1 1.045)">0.5</text>
<line x1="737.2" y1="2306.4" x2="737.2" y2="2315.3" stroke="#231f20" stroke-width="4.6" stroke-linecap="butt"/>
<clipPath id="one3"><path d="M-55.10 -60.60H55.10V20.20H-55.10Z M-32.64 -4.17H-22.40V3H-32.64Z M-17.94 -4.17H-7.98V3H-17.94Z" clip-rule="evenodd"/></clipPath>
<text font-size="50.5" font-family='"Liberation Sans", Arial, Helvetica, sans-serif' fill="#231f20" text-anchor="middle" transform="translate(737.4 2371.2) scale(1 1.045)" clip-path="url(#one3)">1.0</text>
<line x1="971.1" y1="2306.4" x2="971.1" y2="2315.3" stroke="#231f20" stroke-width="4.6" stroke-linecap="butt"/>
<clipPath id="one4"><path d="M-55.10 -60.60H55.10V20.20H-55.10Z M-32.64 -4.17H-22.40V3H-32.64Z M-17.94 -4.17H-7.98V3H-17.94Z" clip-rule="evenodd"/></clipPath>
<text font-size="50.5" font-family='"Liberation Sans", Arial, Helvetica, sans-serif' fill="#231f20" text-anchor="middle" transform="translate(970.6 2371.2) scale(1 1.045)" clip-path="url(#one4)">1.5</text>
<line x1="1205" y1="2306.4" x2="1205" y2="2315.3" stroke="#231f20" stroke-width="4.6" stroke-linecap="butt"/>
<text font-size="50.5" font-family='"Liberation Sans", Arial, Helvetica, sans-serif' fill="#231f20" text-anchor="middle" transform="translate(1203.5 2371.2) scale(1 1.045)">2.0</text>
<text font-size="50.9" font-family='"Liberation Sans", Arial, Helvetica, sans-serif' fill="#231f20" transform="translate(584 2433.3) scale(1 1.045)">SD of beauty rating</text>
</g>
<g id="panelC">
<text font-size="50" font-family='"Liberation Sans", Arial, Helvetica, sans-serif' fill="#000" font-weight="bold" transform="translate(1366 1300.5) scale(1 1.045)">C</text>
<line x1="1565.4" y1="1379.5" x2="1565.4" y2="2305.7000000000003" stroke="#231f20" stroke-width="4.8" stroke-linecap="butt"/>
<line x1="1563.0" y1="2303.3" x2="2489.2" y2="2303.3" stroke="#231f20" stroke-width="4.8" stroke-linecap="butt"/>
<line x1="1565.4" y1="1381.8" x2="1581.8" y2="1381.8" stroke="#231f20" stroke-width="4.8" stroke-linecap="butt"/>
<text font-size="50.5" font-family='"Liberation Sans", Arial, Helvetica, sans-serif' fill="#231f20" text-anchor="end" transform="translate(1545 1394.1) scale(1 1.045)">2.5</text>
<line x1="1565.4" y1="1565.1" x2="1581.8" y2="1565.1" stroke="#231f20" stroke-width="4.8" stroke-linecap="butt"/>
<text font-size="50.5" font-family='"Liberation Sans", Arial, Helvetica, sans-serif' fill="#231f20" text-anchor="end" transform="translate(1545 1576.3) scale(1 1.045)">2.0</text>
<line x1="1565.4" y1="1749.3" x2="1581.8" y2="1749.3" stroke="#231f20" stroke-width="4.8" stroke-linecap="butt"/>
<clipPath id="one5"><path d="M-90.20 -60.60H20.00V20.20H-90.20Z M-67.74 -4.17H-57.50V3H-67.74Z M-53.04 -4.17H-43.08V3H-53.04Z" clip-rule="evenodd"/></clipPath>
<text font-size="50.5" font-family='"Liberation Sans", Arial, Helvetica, sans-serif' fill="#231f20" text-anchor="end" transform="translate(1545 1760.3) scale(1 1.045)" clip-path="url(#one5)">1.5</text>
<line x1="1565.4" y1="1933.5" x2="1581.8" y2="1933.5" stroke="#231f20" stroke-width="4.8" stroke-linecap="butt"/>
<clipPath id="one6"><path d="M-90.20 -60.60H20.00V20.20H-90.20Z M-67.74 -4.17H-57.50V3H-67.74Z M-53.04 -4.17H-43.08V3H-53.04Z" clip-rule="evenodd"/></clipPath>
<text font-size="50.5" font-family='"Liberation Sans", Arial, Helvetica, sans-serif' fill="#231f20" text-anchor="end" transform="translate(1545 1945.9) scale(1 1.045)" clip-path="url(#one6)">1.0</text>
<line x1="1565.4" y1="2117.0" x2="1581.8" y2="2117.0" stroke="#231f20" stroke-width="4.8" stroke-linecap="butt"/>
<text font-size="50.5" font-family='"Liberation Sans", Arial, Helvetica, sans-serif' fill="#231f20" text-anchor="end" transform="translate(1545 2126.8) scale(1 1.045)">0.5</text>
<line x1="1558" y1="2300.0" x2="1581.8" y2="2300.0" stroke="#231f20" stroke-width="4.8" stroke-linecap="butt"/>
<text font-size="50.5" font-family='"Liberation Sans", Arial, Helvetica, sans-serif' fill="#231f20" text-anchor="end" transform="translate(1545 2312.0) scale(1 1.045)">0.0</text>
<clipPath id="one7"><path d="M-31.82 -51.00H31.82V17.00H-31.82Z M-9.74 -3.58H-1.13V3H-9.74Z M2.63 -3.58H11.01V3H2.63Z" clip-rule="evenodd"/></clipPath>
<text font-size="42.5" font-family='"Liberation Sans", Arial, Helvetica, sans-serif' fill="#231f20" text-anchor="middle" transform="translate(1568.5 2359.6) scale(1 1.045)" clip-path="url(#one7)">1</text>
<line x1="1722.7" y1="2289.6" x2="1722.7" y2="2303.3" stroke="#231f20" stroke-width="4.8" stroke-linecap="butt"/>
<text font-size="42.5" font-family='"Liberation Sans", Arial, Helvetica, sans-serif' fill="#231f20" text-anchor="middle" transform="translate(1725.5 2359.6) scale(1 1.045)">2</text>
<line x1="1875.4" y1="2289.6" x2="1875.4" y2="2303.3" stroke="#231f20" stroke-width="4.8" stroke-linecap="butt"/>
<text font-size="42.5" font-family='"Liberation Sans", Arial, Helvetica, sans-serif' fill="#231f20" text-anchor="middle" transform="translate(1867.5 2359.6) scale(1 1.045)">3</text>
<line x1="2028.3" y1="2289.6" x2="2028.3" y2="2303.3" stroke="#231f20" stroke-width="4.8" stroke-linecap="butt"/>
<text font-size="42.5" font-family='"Liberation Sans", Arial, Helvetica, sans-serif' fill="#231f20" text-anchor="middle" transform="translate(2030 2359.6) scale(1 1.045)">4</text>
<line x1="2181" y1="2289.6" x2="2181" y2="2303.3" stroke="#231f20" stroke-width="4.8" stroke-linecap="butt"/>
<text font-size="42.5" font-family='"Liberation Sans", Arial, Helvetica, sans-serif' fill="#231f20" text-anchor="middle" transform="translate(2175.5 2359.6) scale(1 1.045)">5</text>
<line x1="2333.9" y1="2289.6" x2="2333.9" y2="2303.3" stroke="#231f20" stroke-width="4.8" stroke-linecap="butt"/>
<text font-size="42.5" font-family='"Liberation Sans", Arial, Helvetica, sans-serif' fill="#231f20" text-anchor="middle" transform="translate(2342.1 2359.6) scale(1 1.045)">6</text>
<line x1="2486.8" y1="2289.6" x2="2486.8" y2="2303.3" stroke="#231f20" stroke-width="4.8" stroke-linecap="butt"/>
<text font-size="42.5" font-family='"Liberation Sans", Arial, Helvetica, sans-serif' fill="#231f20" text-anchor="middle" transform="translate(2484.9 2359.6) scale(1 1.045)">7</text>
<text font-size="51" font-family='"Liberation Sans", Arial, Helvetica, sans-serif' fill="#231f20" transform="translate(1432.5 2051) rotate(-90) scale(1 1.045)">SD of beauty rating</text>
<text font-size="50.9" font-family='"Liberation Sans", Arial, Helvetica, sans-serif' fill="#231f20" transform="translate(1822.5 2433.3) scale(1 1.045)">Mean beauty rating</text>
<g fill="#8f908b"><circle cx="1569.2" cy="2301.7" r="8.2"/><circle cx="1688.3" cy="1829.2" r="7.9"/><circle cx="1685.5" cy="1879.2" r="7.9"/><circle cx="1690.0" cy="1806.1" r="7.9"/><circle cx="1696.2" cy="1833.3" r="7.9"/><circle cx="1677.5" cy="1853.5" r="7.9"/><circle cx="1707.6" cy="1870.5" r="7.9"/><circle cx="1735.0" cy="1723.0" r="7.9"/><circle cx="1730.6" cy="1783.2" r="7.9"/><circle cx="1705.7" cy="1846.6" r="7.9"/><circle cx="1741.6" cy="1824.5" r="7.9"/><circle cx="1740.9" cy="1719.5" r="7.9"/><circle cx="1729.1" cy="1768.6" r="7.9"/><circle cx="1727.6" cy="1815.9" r="7.9"/><circle cx="1710.1" cy="1738.6" r="7.9"/><circle cx="1704.7" cy="1771.3" r="7.9"/><circle cx="1724.3" cy="1746.4" r="7.9"/><circle cx="1706.4" cy="1898.4" r="7.9"/><circle cx="1711.4" cy="1804.3" r="7.9"/><circle cx="1713.3" cy="1763.2" r="7.9"/><circle cx="1705.3" cy="1872.7" r="7.9"/><circle cx="1760.0" cy="1703.7" r="7.9"/><circle cx="1759.1" cy="1678.5" r="7.9"/><circle cx="1774.5" cy="1687.9" r="7.9"/><circle cx="1762.1" cy="1787.3" r="7.9"/><circle cx="1766.7" cy="1783.2" r="7.9"/><circle cx="1761.4" cy="1702.1" r="7.9"/><circle cx="1767.6" cy="1694.9" r="7.9"/><circle cx="1759.8" cy="1688.4" r="7.9"/><circle cx="1752.9" cy="1694.9" r="7.9"/><circle cx="1780.4" cy="1742.0" r="7.9"/><circle cx="1780.3" cy="1758.0" r="7.9"/><circle cx="1774.4" cy="1700.8" r="7.9"/><circle cx="1769.3" cy="1768.7" r="7.9"/><circle cx="1754.3" cy="1780.2" r="7.9"/><circle cx="1751.1" cy="1724.6" r="7.9"/><circle cx="1753.3" cy="1737.2" r="7.9"/><circle cx="1745.0" cy="1833.1" r="7.9"/><circle cx="1771.5" cy="1780.1" r="7.9"/><circle cx="1757.6" cy="1809.9" r="7.9"/><circle cx="1774.6" cy="1636.9" r="7.9"/><circle cx="1757.0" cy="1790.7" r="7.9"/><circle cx="1778.9" cy="1694.0" r="7.9"/><circle cx="1774.6" cy="1642.2" r="7.9"/><circle cx="1742.3" cy="1690.9" r="7.9"/><circle cx="1788.5" cy="1647.1" r="7.9"/><circle cx="1815.2" cy="1779.1" r="7.9"/><circle cx="1798.4" cy="1741.6" r="7.9"/><circle cx="1817.9" cy="1751.7" r="7.9"/><circle cx="1795.6" cy="1740.8" r="7.9"/><circle cx="1783.3" cy="1821.3" r="7.9"/><circle cx="1804.5" cy="1691.9" r="7.9"/><circle cx="1810.2" cy="1781.6" r="7.9"/><circle cx="1790.8" cy="1660.4" r="7.9"/><circle cx="1783.8" cy="1667.4" r="7.9"/><circle cx="1793.2" cy="1754.0" r="7.9"/><circle cx="1817.3" cy="1710.6" r="7.9"/><circle cx="1809.4" cy="1651.1" r="7.9"/><circle cx="1785.0" cy="1717.5" r="7.9"/><circle cx="1789.9" cy="1758.9" r="7.9"/><circle cx="1784.3" cy="1753.6" r="7.9"/><circle cx="1782.8" cy="1741.2" r="7.9"/><circle cx="1810.9" cy="1685.7" r="7.9"/><circle cx="1787.3" cy="1725.4" r="7.9"/><circle cx="1801.8" cy="1731.9" r="7.9"/><circle cx="1797.6" cy="1748.5" r="7.9"/><circle cx="1787.8" cy="1768.6" r="7.9"/><circle cx="1846.6" cy="1740.4" r="7.9"/><circle cx="1823.7" cy="1785.6" r="7.9"/><circle cx="1843.2" cy="1752.7" r="7.9"/><circle cx="1823.1" cy="1665.0" r="7.9"/><circle cx="1834.7" cy="1703.0" r="7.9"/><circle cx="1826.8" cy="1718.7" r="7.9"/><circle cx="1829.0" cy="1690.8" r="7.9"/><circle cx="1855.7" cy="1640.9" r="7.9"/><circle cx="1849.3" cy="1667.3" r="7.9"/><circle cx="1830.3" cy="1668.4" r="7.9"/><circle cx="1852.4" cy="1726.4" r="7.9"/><circle cx="1826.7" cy="1723.4" r="7.9"/><circle cx="1833.7" cy="1746.5" r="7.9"/><circle cx="1851.3" cy="1703.1" r="7.9"/><circle cx="1843.2" cy="1744.1" r="7.9"/><circle cx="1822.5" cy="1731.1" r="7.9"/><circle cx="1856.4" cy="1704.6" r="7.9"/><circle cx="1826.8" cy="1721.0" r="7.9"/><circle cx="1828.5" cy="1722.8" r="7.9"/><circle cx="1848.2" cy="1724.9" r="7.9"/><circle cx="1831.2" cy="1640.3" r="7.9"/><circle cx="1830.0" cy="1726.0" r="7.9"/><circle cx="1821.5" cy="1764.6" r="7.9"/><circle cx="1822.1" cy="1702.2" r="7.9"/><circle cx="1879.1" cy="1742.3" r="7.9"/><circle cx="1866.1" cy="1746.2" r="7.9"/><circle cx="1879.8" cy="1681.9" r="7.9"/><circle cx="1871.0" cy="1774.5" r="7.9"/><circle cx="1874.1" cy="1672.2" r="7.9"/><circle cx="1893.5" cy="1632.9" r="7.9"/><circle cx="1875.3" cy="1772.6" r="7.9"/><circle cx="1878.8" cy="1732.4" r="7.9"/><circle cx="1889.9" cy="1656.5" r="7.9"/><circle cx="1863.8" cy="1794.4" r="7.9"/><circle cx="1862.7" cy="1737.6" r="7.9"/><circle cx="1891.5" cy="1748.2" r="7.9"/><circle cx="1888.1" cy="1696.4" r="7.9"/><circle cx="1866.4" cy="1792.5" r="7.9"/><circle cx="1864.1" cy="1645.8" r="7.9"/><circle cx="1885.1" cy="1693.6" r="7.9"/><circle cx="1892.7" cy="1670.6" r="7.9"/><circle cx="1864.3" cy="1708.7" r="7.9"/><circle cx="1893.1" cy="1795.5" r="7.9"/><circle cx="1890.5" cy="1694.0" r="7.9"/><circle cx="1879.9" cy="1755.3" r="7.9"/><circle cx="1872.9" cy="1687.1" r="7.9"/><circle cx="1860.8" cy="1737.4" r="7.9"/><circle cx="1858.3" cy="1711.0" r="7.9"/><circle cx="1893.6" cy="1697.1" r="7.9"/><circle cx="1865.9" cy="1651.2" r="7.9"/><circle cx="1883.7" cy="1646.7" r="7.9"/><circle cx="1866.7" cy="1742.5" r="7.9"/><circle cx="1888.3" cy="1687.1" r="7.9"/><circle cx="1879.6" cy="1611.0" r="7.9"/><circle cx="1868.0" cy="1664.5" r="7.9"/><circle cx="1863.5" cy="1729.8" r="7.9"/><circle cx="1884.3" cy="1692.4" r="7.9"/><circle cx="1859.5" cy="1712.0" r="7.9"/><circle cx="1865.6" cy="1642.7" r="7.9"/><circle cx="1878.2" cy="1684.5" r="7.9"/><circle cx="1889.4" cy="1666.9" r="7.9"/><circle cx="1880.3" cy="1757.2" r="7.9"/><circle cx="1867.5" cy="1742.5" r="7.9"/><circle cx="1891.9" cy="1775.4" r="7.9"/><circle cx="1864.6" cy="1773.7" r="7.9"/><circle cx="1857.5" cy="1650.9" r="7.9"/><circle cx="1867.1" cy="1675.4" r="7.9"/><circle cx="1912.0" cy="1602.2" r="7.9"/><circle cx="1897.3" cy="1787.9" r="7.9"/><circle cx="1901.8" cy="1731.6" r="7.9"/><circle cx="1909.1" cy="1611.8" r="7.9"/><circle cx="1916.9" cy="1633.2" r="7.9"/><circle cx="1900.0" cy="1640.6" r="7.9"/><circle cx="1908.9" cy="1641.3" r="7.9"/><circle cx="1929.0" cy="1684.5" r="7.9"/><circle cx="1932.5" cy="1686.7" r="7.9"/><circle cx="1920.1" cy="1684.5" r="7.9"/><circle cx="1921.4" cy="1642.8" r="7.9"/><circle cx="1917.3" cy="1694.6" r="7.9"/><circle cx="1900.4" cy="1669.7" r="7.9"/><circle cx="1896.4" cy="1611.3" r="7.9"/><circle cx="1895.7" cy="1744.2" r="7.9"/><circle cx="1929.8" cy="1724.8" r="7.9"/><circle cx="1921.8" cy="1657.1" r="7.9"/><circle cx="1931.8" cy="1699.8" r="7.9"/><circle cx="1895.8" cy="1694.3" r="7.9"/><circle cx="1919.3" cy="1578.1" r="7.9"/><circle cx="1913.4" cy="1664.8" r="7.9"/><circle cx="1922.9" cy="1707.7" r="7.9"/><circle cx="1907.2" cy="1629.6" r="7.9"/><circle cx="1933.2" cy="1556.5" r="7.9"/><circle cx="1897.9" cy="1743.4" r="7.9"/><circle cx="1915.9" cy="1720.7" r="7.9"/><circle cx="1923.2" cy="1680.2" r="7.9"/><circle cx="1929.4" cy="1719.0" r="7.9"/><circle cx="1923.2" cy="1574.3" r="7.9"/><circle cx="1921.9" cy="1659.1" r="7.9"/><circle cx="1925.3" cy="1706.7" r="7.9"/><circle cx="1930.0" cy="1660.9" r="7.9"/><circle cx="1908.5" cy="1727.2" r="7.9"/><circle cx="1921.2" cy="1717.4" r="7.9"/><circle cx="1929.4" cy="1680.8" r="7.9"/><circle cx="1928.3" cy="1563.2" r="7.9"/><circle cx="1911.0" cy="1664.6" r="7.9"/><circle cx="1925.2" cy="1616.6" r="7.9"/><circle cx="1928.0" cy="1648.1" r="7.9"/><circle cx="1916.9" cy="1587.1" r="7.9"/><circle cx="1918.9" cy="1663.0" r="7.9"/><circle cx="1909.6" cy="1678.7" r="7.9"/><circle cx="1917.3" cy="1693.0" r="7.9"/><circle cx="1918.3" cy="1730.3" r="7.9"/><circle cx="1898.1" cy="1601.9" r="7.9"/><circle cx="1919.4" cy="1747.2" r="7.9"/><circle cx="1933.0" cy="1692.6" r="7.9"/><circle cx="1928.6" cy="1713.2" r="7.9"/><circle cx="1922.8" cy="1726.7" r="7.9"/><circle cx="1909.9" cy="1705.9" r="7.9"/><circle cx="1923.1" cy="1679.1" r="7.9"/><circle cx="1917.2" cy="1678.8" r="7.9"/><circle cx="1911.8" cy="1642.7" r="7.9"/><circle cx="1927.0" cy="1694.6" r="7.9"/><circle cx="1898.2" cy="1719.2" r="7.9"/><circle cx="1961.9" cy="1670.8" r="7.9"/><circle cx="1934.3" cy="1651.9" r="7.9"/><circle cx="1956.2" cy="1733.0" r="7.9"/><circle cx="1951.6" cy="1764.5" r="7.9"/><circle cx="1942.0" cy="1739.0" r="7.9"/><circle cx="1959.9" cy="1632.1" r="7.9"/><circle cx="1952.2" cy="1634.8" r="7.9"/><circle cx="1956.7" cy="1732.1" r="7.9"/><circle cx="1968.4" cy="1681.2" r="7.9"/><circle cx="1943.0" cy="1643.0" r="7.9"/><circle cx="1933.6" cy="1617.7" r="7.9"/><circle cx="1944.7" cy="1720.1" r="7.9"/><circle cx="1959.1" cy="1698.9" r="7.9"/><circle cx="1940.9" cy="1613.6" r="7.9"/><circle cx="1939.7" cy="1562.0" r="7.9"/><circle cx="1967.8" cy="1608.1" r="7.9"/><circle cx="1958.4" cy="1745.3" r="7.9"/><circle cx="1950.1" cy="1663.1" r="7.9"/><circle cx="1967.3" cy="1702.3" r="7.9"/><circle cx="1945.7" cy="1689.2" r="7.9"/><circle cx="1958.6" cy="1720.7" r="7.9"/><circle cx="1940.8" cy="1710.9" r="7.9"/><circle cx="1949.7" cy="1686.7" r="7.9"/><circle cx="1964.0" cy="1593.9" r="7.9"/><circle cx="1968.1" cy="1650.9" r="7.9"/><circle cx="1966.8" cy="1664.9" r="7.9"/><circle cx="1947.9" cy="1684.8" r="7.9"/><circle cx="1955.5" cy="1725.0" r="7.9"/><circle cx="1945.3" cy="1698.0" r="7.9"/><circle cx="1938.4" cy="1622.3" r="7.9"/><circle cx="1952.2" cy="1643.4" r="7.9"/><circle cx="1965.2" cy="1585.6" r="7.9"/><circle cx="1965.6" cy="1673.4" r="7.9"/><circle cx="1960.4" cy="1687.6" r="7.9"/><circle cx="1969.5" cy="1770.4" r="7.9"/><circle cx="1943.8" cy="1665.7" r="7.9"/><circle cx="1939.7" cy="1775.0" r="7.9"/><circle cx="1950.4" cy="1607.6" r="7.9"/><circle cx="1943.7" cy="1718.6" r="7.9"/><circle cx="1941.4" cy="1686.2" r="7.9"/><circle cx="1949.0" cy="1755.8" r="7.9"/><circle cx="1957.1" cy="1712.0" r="7.9"/><circle cx="1952.1" cy="1734.2" r="7.9"/><circle cx="1945.3" cy="1627.9" r="7.9"/><circle cx="1965.2" cy="1674.0" r="7.9"/><circle cx="1970.7" cy="1747.9" r="7.9"/><circle cx="1950.5" cy="1785.7" r="7.9"/><circle cx="1936.1" cy="1689.7" r="7.9"/><circle cx="1972.6" cy="1712.3" r="7.9"/><circle cx="2004.7" cy="1745.9" r="7.9"/><circle cx="1973.0" cy="1656.8" r="7.9"/><circle cx="1998.5" cy="1698.0" r="7.9"/><circle cx="1993.2" cy="1682.4" r="7.9"/><circle cx="1983.2" cy="1718.1" r="7.9"/><circle cx="2001.6" cy="1717.9" r="7.9"/><circle cx="1972.1" cy="1710.9" r="7.9"/><circle cx="1976.6" cy="1770.0" r="7.9"/><circle cx="1988.8" cy="1655.5" r="7.9"/><circle cx="1972.3" cy="1666.4" r="7.9"/><circle cx="2003.1" cy="1777.4" r="7.9"/><circle cx="1980.5" cy="1682.3" r="7.9"/><circle cx="1976.8" cy="1627.9" r="7.9"/><circle cx="1973.2" cy="1675.0" r="7.9"/><circle cx="1995.4" cy="1621.5" r="7.9"/><circle cx="1988.4" cy="1701.8" r="7.9"/><circle cx="1995.4" cy="1688.2" r="7.9"/><circle cx="1996.4" cy="1755.3" r="7.9"/><circle cx="2002.2" cy="1735.2" r="7.9"/><circle cx="2008.0" cy="1782.8" r="7.9"/><circle cx="1997.5" cy="1734.5" r="7.9"/><circle cx="1979.0" cy="1674.9" r="7.9"/><circle cx="1989.5" cy="1661.2" r="7.9"/><circle cx="1978.2" cy="1627.5" r="7.9"/><circle cx="1971.8" cy="1680.4" r="7.9"/><circle cx="1989.4" cy="1739.0" r="7.9"/><circle cx="1998.7" cy="1666.2" r="7.9"/><circle cx="1978.2" cy="1694.9" r="7.9"/><circle cx="1981.8" cy="1595.7" r="7.9"/><circle cx="1984.6" cy="1586.8" r="7.9"/><circle cx="1998.0" cy="1638.9" r="7.9"/><circle cx="1991.3" cy="1746.6" r="7.9"/><circle cx="1994.9" cy="1715.3" r="7.9"/><circle cx="2000.3" cy="1678.7" r="7.9"/><circle cx="1986.4" cy="1724.5" r="7.9"/><circle cx="2001.6" cy="1661.6" r="7.9"/><circle cx="2006.0" cy="1653.4" r="7.9"/><circle cx="1974.7" cy="1644.1" r="7.9"/><circle cx="2007.0" cy="1677.1" r="7.9"/><circle cx="1999.0" cy="1734.0" r="7.9"/><circle cx="1976.4" cy="1730.8" r="7.9"/><circle cx="1988.7" cy="1694.3" r="7.9"/><circle cx="1995.3" cy="1619.9" r="7.9"/><circle cx="2006.1" cy="1607.7" r="7.9"/><circle cx="1985.8" cy="1637.4" r="7.9"/><circle cx="1993.1" cy="1669.5" r="7.9"/><circle cx="2005.0" cy="1653.9" r="7.9"/><circle cx="2001.8" cy="1646.2" r="7.9"/><circle cx="2007.4" cy="1622.3" r="7.9"/><circle cx="1989.1" cy="1643.9" r="7.9"/><circle cx="1996.3" cy="1767.4" r="7.9"/><circle cx="1979.2" cy="1638.4" r="7.9"/><circle cx="1999.0" cy="1668.6" r="7.9"/><circle cx="2002.6" cy="1712.3" r="7.9"/><circle cx="1995.9" cy="1661.2" r="7.9"/><circle cx="1998.8" cy="1673.6" r="7.9"/><circle cx="1979.5" cy="1690.3" r="7.9"/><circle cx="2005.8" cy="1775.8" r="7.9"/><circle cx="2008.8" cy="1683.2" r="7.9"/><circle cx="2008.7" cy="1660.2" r="7.9"/><circle cx="2030.1" cy="1692.8" r="7.9"/><circle cx="2039.8" cy="1774.9" r="7.9"/><circle cx="2021.8" cy="1666.0" r="7.9"/><circle cx="2044.3" cy="1657.3" r="7.9"/><circle cx="2042.3" cy="1684.5" r="7.9"/><circle cx="2022.9" cy="1667.7" r="7.9"/><circle cx="2012.7" cy="1707.2" r="7.9"/><circle cx="2026.4" cy="1723.7" r="7.9"/><circle cx="2030.6" cy="1663.4" r="7.9"/><circle cx="2038.9" cy="1711.1" r="7.9"/><circle cx="2028.2" cy="1680.5" r="7.9"/><circle cx="2010.7" cy="1652.3" r="7.9"/><circle cx="2040.5" cy="1686.3" r="7.9"/><circle cx="2012.0" cy="1772.6" r="7.9"/><circle cx="2040.1" cy="1688.2" r="7.9"/><circle cx="2016.2" cy="1650.2" r="7.9"/><circle cx="2022.4" cy="1725.9" r="7.9"/><circle cx="2039.7" cy="1705.3" r="7.9"/><circle cx="2014.9" cy="1805.4" r="7.9"/><circle cx="2015.3" cy="1660.6" r="7.9"/><circle cx="2029.3" cy="1720.7" r="7.9"/><circle cx="2037.2" cy="1657.1" r="7.9"/><circle cx="2041.6" cy="1623.3" r="7.9"/><circle cx="2035.9" cy="1700.3" r="7.9"/><circle cx="2045.7" cy="1644.1" r="7.9"/><circle cx="2028.4" cy="1677.0" r="7.9"/><circle cx="2045.8" cy="1705.4" r="7.9"/><circle cx="2012.9" cy="1703.6" r="7.9"/><circle cx="2018.0" cy="1733.2" r="7.9"/><circle cx="2029.7" cy="1624.0" r="7.9"/><circle cx="2020.7" cy="1644.1" r="7.9"/><circle cx="2037.4" cy="1744.2" r="7.9"/><circle cx="2034.0" cy="1648.0" r="7.9"/><circle cx="2029.5" cy="1727.7" r="7.9"/><circle cx="2041.8" cy="1771.2" r="7.9"/><circle cx="2031.0" cy="1628.8" r="7.9"/><circle cx="2021.5" cy="1755.5" r="7.9"/><circle cx="2024.1" cy="1628.6" r="7.9"/><circle cx="2041.9" cy="1683.4" r="7.9"/><circle cx="2044.0" cy="1647.8" r="7.9"/><circle cx="2017.5" cy="1663.0" r="7.9"/><circle cx="2042.1" cy="1634.3" r="7.9"/><circle cx="2046.6" cy="1677.1" r="7.9"/><circle cx="2029.6" cy="1660.3" r="7.9"/><circle cx="2031.5" cy="1677.9" r="7.9"/><circle cx="2017.3" cy="1632.9" r="7.9"/><circle cx="2030.0" cy="1710.4" r="7.9"/><circle cx="2028.8" cy="1637.6" r="7.9"/><circle cx="2032.7" cy="1613.4" r="7.9"/><circle cx="2010.6" cy="1692.3" r="7.9"/><circle cx="2046.6" cy="1672.4" r="7.9"/><circle cx="2029.3" cy="1716.5" r="7.9"/><circle cx="2024.9" cy="1704.6" r="7.9"/><circle cx="2040.2" cy="1679.8" r="7.9"/><circle cx="2031.1" cy="1708.2" r="7.9"/><circle cx="2028.3" cy="1735.5" r="7.9"/><circle cx="2036.0" cy="1693.5" r="7.9"/><circle cx="2012.1" cy="1679.2" r="7.9"/><circle cx="2030.1" cy="1673.7" r="7.9"/><circle cx="2063.6" cy="1663.4" r="7.9"/><circle cx="2084.3" cy="1797.4" r="7.9"/><circle cx="2083.0" cy="1632.8" r="7.9"/><circle cx="2058.0" cy="1707.2" r="7.9"/><circle cx="2065.8" cy="1740.4" r="7.9"/><circle cx="2052.6" cy="1715.9" r="7.9"/><circle cx="2064.3" cy="1677.4" r="7.9"/><circle cx="2078.9" cy="1659.6" r="7.9"/><circle cx="2082.1" cy="1724.2" r="7.9"/><circle cx="2066.0" cy="1692.5" r="7.9"/><circle cx="2059.9" cy="1781.1" r="7.9"/><circle cx="2055.1" cy="1688.8" r="7.9"/><circle cx="2071.4" cy="1708.0" r="7.9"/><circle cx="2083.1" cy="1727.8" r="7.9"/><circle cx="2052.7" cy="1651.2" r="7.9"/><circle cx="2077.5" cy="1611.6" r="7.9"/><circle cx="2048.6" cy="1642.4" r="7.9"/><circle cx="2055.2" cy="1737.8" r="7.9"/><circle cx="2056.4" cy="1619.2" r="7.9"/><circle cx="2074.0" cy="1720.2" r="7.9"/><circle cx="2060.1" cy="1701.1" r="7.9"/><circle cx="2061.3" cy="1729.2" r="7.9"/><circle cx="2071.4" cy="1678.7" r="7.9"/><circle cx="2051.8" cy="1668.1" r="7.9"/><circle cx="2075.7" cy="1696.0" r="7.9"/><circle cx="2052.4" cy="1707.6" r="7.9"/><circle cx="2067.3" cy="1708.4" r="7.9"/><circle cx="2057.3" cy="1718.8" r="7.9"/><circle cx="2055.3" cy="1647.5" r="7.9"/><circle cx="2068.0" cy="1728.1" r="7.9"/><circle cx="2064.4" cy="1707.8" r="7.9"/><circle cx="2062.1" cy="1710.3" r="7.9"/><circle cx="2063.5" cy="1738.5" r="7.9"/><circle cx="2068.0" cy="1713.0" r="7.9"/><circle cx="2053.9" cy="1772.6" r="7.9"/><circle cx="2055.6" cy="1676.7" r="7.9"/><circle cx="2071.9" cy="1674.5" r="7.9"/><circle cx="2072.1" cy="1717.9" r="7.9"/><circle cx="2068.0" cy="1621.3" r="7.9"/><circle cx="2080.3" cy="1747.0" r="7.9"/><circle cx="2071.1" cy="1673.6" r="7.9"/><circle cx="2080.5" cy="1680.3" r="7.9"/><circle cx="2056.6" cy="1725.5" r="7.9"/><circle cx="2076.0" cy="1716.0" r="7.9"/><circle cx="2078.7" cy="1658.6" r="7.9"/><circle cx="2082.2" cy="1702.2" r="7.9"/><circle cx="2059.8" cy="1684.4" r="7.9"/><circle cx="2059.8" cy="1627.0" r="7.9"/><circle cx="2083.0" cy="1694.4" r="7.9"/><circle cx="2056.1" cy="1783.6" r="7.9"/><circle cx="2085.9" cy="1744.2" r="7.9"/><circle cx="2081.7" cy="1662.4" r="7.9"/><circle cx="2052.9" cy="1703.5" r="7.9"/><circle cx="2056.9" cy="1753.4" r="7.9"/><circle cx="2075.5" cy="1804.8" r="7.9"/><circle cx="2057.7" cy="1681.7" r="7.9"/><circle cx="2051.5" cy="1619.5" r="7.9"/><circle cx="2079.5" cy="1768.8" r="7.9"/><circle cx="2063.9" cy="1811.2" r="7.9"/><circle cx="2116.1" cy="1693.4" r="7.9"/><circle cx="2090.8" cy="1735.6" r="7.9"/><circle cx="2101.3" cy="1725.9" r="7.9"/><circle cx="2112.1" cy="1732.9" r="7.9"/><circle cx="2086.6" cy="1752.9" r="7.9"/><circle cx="2093.6" cy="1686.1" r="7.9"/><circle cx="2112.0" cy="1669.2" r="7.9"/><circle cx="2120.7" cy="1703.1" r="7.9"/><circle cx="2122.9" cy="1751.7" r="7.9"/><circle cx="2090.4" cy="1654.4" r="7.9"/><circle cx="2105.3" cy="1717.7" r="7.9"/><circle cx="2114.9" cy="1688.4" r="7.9"/><circle cx="2105.1" cy="1759.9" r="7.9"/><circle cx="2112.1" cy="1682.7" r="7.9"/><circle cx="2093.2" cy="1670.4" r="7.9"/><circle cx="2088.6" cy="1641.2" r="7.9"/><circle cx="2090.0" cy="1706.2" r="7.9"/><circle cx="2087.4" cy="1684.1" r="7.9"/><circle cx="2107.0" cy="1742.6" r="7.9"/><circle cx="2105.6" cy="1667.1" r="7.9"/><circle cx="2107.7" cy="1673.8" r="7.9"/><circle cx="2091.5" cy="1652.8" r="7.9"/><circle cx="2093.0" cy="1728.2" r="7.9"/><circle cx="2093.7" cy="1771.1" r="7.9"/><circle cx="2118.0" cy="1723.5" r="7.9"/><circle cx="2123.8" cy="1734.3" r="7.9"/><circle cx="2121.3" cy="1760.2" r="7.9"/><circle cx="2089.6" cy="1676.6" r="7.9"/><circle cx="2088.3" cy="1658.7" r="7.9"/><circle cx="2122.3" cy="1702.6" r="7.9"/><circle cx="2103.6" cy="1654.8" r="7.9"/><circle cx="2115.1" cy="1698.0" r="7.9"/><circle cx="2098.4" cy="1759.8" r="7.9"/><circle cx="2103.8" cy="1741.4" r="7.9"/><circle cx="2105.6" cy="1730.3" r="7.9"/><circle cx="2102.4" cy="1676.2" r="7.9"/><circle cx="2108.9" cy="1667.3" r="7.9"/><circle cx="2086.5" cy="1699.6" r="7.9"/><circle cx="2112.7" cy="1665.0" r="7.9"/><circle cx="2118.2" cy="1762.0" r="7.9"/><circle cx="2092.9" cy="1714.2" r="7.9"/><circle cx="2103.3" cy="1635.1" r="7.9"/><circle cx="2114.2" cy="1695.0" r="7.9"/><circle cx="2101.4" cy="1657.5" r="7.9"/><circle cx="2093.4" cy="1804.6" r="7.9"/><circle cx="2092.2" cy="1793.2" r="7.9"/><circle cx="2105.5" cy="1756.1" r="7.9"/><circle cx="2086.5" cy="1655.3" r="7.9"/><circle cx="2120.0" cy="1638.6" r="7.9"/><circle cx="2116.6" cy="1750.5" r="7.9"/><circle cx="2112.9" cy="1766.8" r="7.9"/><circle cx="2118.8" cy="1772.1" r="7.9"/><circle cx="2110.0" cy="1760.3" r="7.9"/><circle cx="2101.4" cy="1682.6" r="7.9"/><circle cx="2108.8" cy="1730.2" r="7.9"/><circle cx="2105.2" cy="1616.4" r="7.9"/><circle cx="2123.5" cy="1686.7" r="7.9"/><circle cx="2116.7" cy="1753.9" r="7.9"/><circle cx="2095.8" cy="1697.2" r="7.9"/><circle cx="2120.7" cy="1729.5" r="7.9"/><circle cx="2114.4" cy="1677.5" r="7.9"/><circle cx="2115.7" cy="1672.4" r="7.9"/><circle cx="2117.1" cy="1737.0" r="7.9"/><circle cx="2101.4" cy="1665.5" r="7.9"/><circle cx="2120.2" cy="1692.4" r="7.9"/><circle cx="2119.5" cy="1725.3" r="7.9"/><circle cx="2112.5" cy="1703.5" r="7.9"/><circle cx="2115.2" cy="1683.6" r="7.9"/><circle cx="2115.2" cy="1734.3" r="7.9"/><circle cx="2101.4" cy="1745.0" r="7.9"/><circle cx="2113.5" cy="1652.7" r="7.9"/><circle cx="2088.6" cy="1706.8" r="7.9"/><circle cx="2099.0" cy="1740.2" r="7.9"/><circle cx="2103.8" cy="1688.1" r="7.9"/><circle cx="2086.3" cy="1781.2" r="7.9"/><circle cx="2137.7" cy="1729.4" r="7.9"/><circle cx="2148.5" cy="1808.0" r="7.9"/><circle cx="2148.0" cy="1760.3" r="7.9"/><circle cx="2133.0" cy="1819.7" r="7.9"/><circle cx="2160.2" cy="1782.7" r="7.9"/><circle cx="2149.6" cy="1694.3" r="7.9"/><circle cx="2137.0" cy="1741.0" r="7.9"/><circle cx="2149.3" cy="1801.0" r="7.9"/><circle cx="2145.9" cy="1649.3" r="7.9"/><circle cx="2144.5" cy="1768.4" r="7.9"/><circle cx="2139.0" cy="1657.9" r="7.9"/><circle cx="2162.3" cy="1774.2" r="7.9"/><circle cx="2148.7" cy="1813.2" r="7.9"/><circle cx="2150.9" cy="1647.1" r="7.9"/><circle cx="2153.2" cy="1763.8" r="7.9"/><circle cx="2161.6" cy="1708.7" r="7.9"/><circle cx="2125.0" cy="1663.9" r="7.9"/><circle cx="2147.6" cy="1804.9" r="7.9"/><circle cx="2152.3" cy="1737.7" r="7.9"/><circle cx="2133.9" cy="1758.9" r="7.9"/><circle cx="2139.5" cy="1702.6" r="7.9"/><circle cx="2126.1" cy="1725.5" r="7.9"/><circle cx="2131.6" cy="1792.3" r="7.9"/><circle cx="2138.5" cy="1729.7" r="7.9"/><circle cx="2127.9" cy="1687.4" r="7.9"/><circle cx="2133.7" cy="1744.6" r="7.9"/><circle cx="2158.7" cy="1716.9" r="7.9"/><circle cx="2145.1" cy="1763.7" r="7.9"/><circle cx="2143.5" cy="1738.4" r="7.9"/><circle cx="2161.1" cy="1729.1" r="7.9"/><circle cx="2145.8" cy="1730.0" r="7.9"/><circle cx="2162.1" cy="1683.3" r="7.9"/><circle cx="2148.5" cy="1691.0" r="7.9"/><circle cx="2155.0" cy="1700.4" r="7.9"/><circle cx="2127.0" cy="1689.0" r="7.9"/><circle cx="2146.9" cy="1730.0" r="7.9"/><circle cx="2153.1" cy="1800.5" r="7.9"/><circle cx="2125.9" cy="1671.0" r="7.9"/><circle cx="2159.6" cy="1658.0" r="7.9"/><circle cx="2130.2" cy="1716.1" r="7.9"/><circle cx="2142.1" cy="1747.7" r="7.9"/><circle cx="2130.6" cy="1729.5" r="7.9"/><circle cx="2143.0" cy="1674.5" r="7.9"/><circle cx="2147.5" cy="1723.7" r="7.9"/><circle cx="2126.4" cy="1774.6" r="7.9"/><circle cx="2160.2" cy="1754.9" r="7.9"/><circle cx="2140.2" cy="1772.3" r="7.9"/><circle cx="2144.2" cy="1746.3" r="7.9"/><circle cx="2147.0" cy="1783.0" r="7.9"/><circle cx="2138.1" cy="1776.4" r="7.9"/><circle cx="2135.0" cy="1655.6" r="7.9"/><circle cx="2149.1" cy="1686.4" r="7.9"/><circle cx="2145.5" cy="1818.1" r="7.9"/><circle cx="2135.0" cy="1779.8" r="7.9"/><circle cx="2151.5" cy="1763.2" r="7.9"/><circle cx="2135.4" cy="1750.2" r="7.9"/><circle cx="2124.7" cy="1793.6" r="7.9"/><circle cx="2133.5" cy="1684.7" r="7.9"/><circle cx="2125.8" cy="1805.8" r="7.9"/><circle cx="2130.1" cy="1692.3" r="7.9"/><circle cx="2152.9" cy="1706.5" r="7.9"/><circle cx="2139.0" cy="1751.4" r="7.9"/><circle cx="2158.4" cy="1778.1" r="7.9"/><circle cx="2152.7" cy="1738.4" r="7.9"/><circle cx="2126.0" cy="1717.3" r="7.9"/><circle cx="2161.9" cy="1852.9" r="7.9"/><circle cx="2160.2" cy="1809.3" r="7.9"/><circle cx="2126.9" cy="1698.5" r="7.9"/><circle cx="2158.7" cy="1750.7" r="7.9"/><circle cx="2140.5" cy="1754.7" r="7.9"/><circle cx="2142.4" cy="1785.0" r="7.9"/><circle cx="2161.3" cy="1782.3" r="7.9"/><circle cx="2133.4" cy="1767.8" r="7.9"/><circle cx="2144.1" cy="1595.3" r="7.9"/><circle cx="2159.9" cy="1809.1" r="7.9"/><circle cx="2151.7" cy="1663.6" r="7.9"/><circle cx="2142.0" cy="1710.6" r="7.9"/><circle cx="2161.5" cy="1736.2" r="7.9"/><circle cx="2155.3" cy="1733.2" r="7.9"/><circle cx="2147.2" cy="1757.1" r="7.9"/><circle cx="2166.7" cy="1669.2" r="7.9"/><circle cx="2186.1" cy="1738.1" r="7.9"/><circle cx="2179.7" cy="1759.8" r="7.9"/><circle cx="2170.1" cy="1758.5" r="7.9"/><circle cx="2164.3" cy="1738.6" r="7.9"/><circle cx="2182.5" cy="1817.9" r="7.9"/><circle cx="2167.1" cy="1766.5" r="7.9"/><circle cx="2179.2" cy="1789.5" r="7.9"/><circle cx="2187.8" cy="1734.0" r="7.9"/><circle cx="2179.7" cy="1728.0" r="7.9"/><circle cx="2172.3" cy="1847.6" r="7.9"/><circle cx="2184.5" cy="1773.5" r="7.9"/><circle cx="2178.3" cy="1707.7" r="7.9"/><circle cx="2192.0" cy="1834.3" r="7.9"/><circle cx="2182.6" cy="1820.0" r="7.9"/><circle cx="2200.4" cy="1726.4" r="7.9"/><circle cx="2198.7" cy="1781.7" r="7.9"/><circle cx="2190.4" cy="1790.3" r="7.9"/><circle cx="2171.4" cy="1814.3" r="7.9"/><circle cx="2166.7" cy="1741.6" r="7.9"/><circle cx="2196.4" cy="1801.1" r="7.9"/><circle cx="2192.3" cy="1758.6" r="7.9"/><circle cx="2186.2" cy="1742.3" r="7.9"/><circle cx="2176.0" cy="1720.6" r="7.9"/><circle cx="2172.7" cy="1770.2" r="7.9"/><circle cx="2188.5" cy="1792.3" r="7.9"/><circle cx="2183.9" cy="1760.2" r="7.9"/><circle cx="2184.9" cy="1767.5" r="7.9"/><circle cx="2186.5" cy="1755.4" r="7.9"/><circle cx="2191.1" cy="1794.9" r="7.9"/><circle cx="2169.6" cy="1763.9" r="7.9"/><circle cx="2171.8" cy="1782.9" r="7.9"/><circle cx="2199.7" cy="1805.8" r="7.9"/><circle cx="2197.3" cy="1766.0" r="7.9"/><circle cx="2195.9" cy="1714.5" r="7.9"/><circle cx="2163.8" cy="1775.4" r="7.9"/><circle cx="2164.6" cy="1719.5" r="7.9"/><circle cx="2172.7" cy="1736.5" r="7.9"/><circle cx="2178.5" cy="1752.1" r="7.9"/><circle cx="2186.1" cy="1729.5" r="7.9"/><circle cx="2166.2" cy="1778.0" r="7.9"/><circle cx="2183.0" cy="1732.4" r="7.9"/><circle cx="2165.1" cy="1734.1" r="7.9"/><circle cx="2165.6" cy="1731.6" r="7.9"/><circle cx="2188.1" cy="1735.3" r="7.9"/><circle cx="2183.3" cy="1662.7" r="7.9"/><circle cx="2186.4" cy="1817.4" r="7.9"/><circle cx="2176.6" cy="1751.5" r="7.9"/><circle cx="2180.6" cy="1741.2" r="7.9"/><circle cx="2170.4" cy="1801.3" r="7.9"/><circle cx="2175.4" cy="1695.1" r="7.9"/><circle cx="2190.8" cy="1745.3" r="7.9"/><circle cx="2194.3" cy="1811.4" r="7.9"/><circle cx="2165.2" cy="1809.6" r="7.9"/><circle cx="2166.9" cy="1771.4" r="7.9"/><circle cx="2193.2" cy="1650.6" r="7.9"/><circle cx="2186.1" cy="1654.9" r="7.9"/><circle cx="2191.7" cy="1860.7" r="7.9"/><circle cx="2170.5" cy="1718.8" r="7.9"/><circle cx="2178.5" cy="1763.0" r="7.9"/><circle cx="2172.2" cy="1785.7" r="7.9"/><circle cx="2193.2" cy="1739.7" r="7.9"/><circle cx="2176.4" cy="1751.4" r="7.9"/><circle cx="2187.3" cy="1750.3" r="7.9"/><circle cx="2200.1" cy="1763.1" r="7.9"/><circle cx="2174.7" cy="1810.2" r="7.9"/><circle cx="2183.3" cy="1694.7" r="7.9"/><circle cx="2190.8" cy="1791.2" r="7.9"/><circle cx="2197.5" cy="1717.0" r="7.9"/><circle cx="2178.6" cy="1722.8" r="7.9"/><circle cx="2176.4" cy="1754.4" r="7.9"/><circle cx="2166.0" cy="1742.7" r="7.9"/><circle cx="2195.7" cy="1774.9" r="7.9"/><circle cx="2165.3" cy="1842.3" r="7.9"/><circle cx="2165.5" cy="1765.8" r="7.9"/><circle cx="2183.9" cy="1740.0" r="7.9"/><circle cx="2180.8" cy="1840.5" r="7.9"/><circle cx="2188.5" cy="1841.2" r="7.9"/><circle cx="2173.7" cy="1700.1" r="7.9"/><circle cx="2191.9" cy="1728.2" r="7.9"/><circle cx="2165.2" cy="1827.4" r="7.9"/><circle cx="2170.5" cy="1729.3" r="7.9"/><circle cx="2187.6" cy="1767.6" r="7.9"/><circle cx="2165.4" cy="1700.0" r="7.9"/><circle cx="2212.1" cy="1803.9" r="7.9"/><circle cx="2228.2" cy="1813.5" r="7.9"/><circle cx="2227.0" cy="1839.1" r="7.9"/><circle cx="2211.3" cy="1777.7" r="7.9"/><circle cx="2206.0" cy="1788.3" r="7.9"/><circle cx="2214.2" cy="1822.6" r="7.9"/><circle cx="2228.2" cy="1819.8" r="7.9"/><circle cx="2214.5" cy="1827.9" r="7.9"/><circle cx="2205.0" cy="1749.5" r="7.9"/><circle cx="2227.6" cy="1854.0" r="7.9"/><circle cx="2222.2" cy="1875.6" r="7.9"/><circle cx="2235.6" cy="1857.9" r="7.9"/><circle cx="2236.4" cy="1755.0" r="7.9"/><circle cx="2235.4" cy="1834.6" r="7.9"/><circle cx="2217.2" cy="1759.5" r="7.9"/><circle cx="2231.2" cy="1767.8" r="7.9"/><circle cx="2212.1" cy="1813.4" r="7.9"/><circle cx="2212.6" cy="1749.8" r="7.9"/><circle cx="2215.8" cy="1765.3" r="7.9"/><circle cx="2236.2" cy="1811.8" r="7.9"/><circle cx="2234.7" cy="1844.0" r="7.9"/><circle cx="2210.0" cy="1788.7" r="7.9"/><circle cx="2214.3" cy="1854.6" r="7.9"/><circle cx="2214.5" cy="1803.7" r="7.9"/><circle cx="2214.4" cy="1819.1" r="7.9"/><circle cx="2215.6" cy="1768.6" r="7.9"/><circle cx="2215.3" cy="1773.2" r="7.9"/><circle cx="2207.9" cy="1816.3" r="7.9"/><circle cx="2222.0" cy="1752.8" r="7.9"/><circle cx="2230.9" cy="1744.4" r="7.9"/><circle cx="2221.1" cy="1792.6" r="7.9"/><circle cx="2232.4" cy="1843.8" r="7.9"/><circle cx="2222.0" cy="1771.1" r="7.9"/><circle cx="2207.2" cy="1812.9" r="7.9"/><circle cx="2229.5" cy="1774.0" r="7.9"/><circle cx="2234.1" cy="1706.2" r="7.9"/><circle cx="2211.2" cy="1824.3" r="7.9"/><circle cx="2201.3" cy="1700.2" r="7.9"/><circle cx="2220.2" cy="1676.8" r="7.9"/><circle cx="2221.3" cy="1700.3" r="7.9"/><circle cx="2222.2" cy="1741.0" r="7.9"/><circle cx="2237.4" cy="1801.1" r="7.9"/><circle cx="2225.4" cy="1748.2" r="7.9"/><circle cx="2231.2" cy="1814.2" r="7.9"/><circle cx="2202.9" cy="1810.5" r="7.9"/><circle cx="2221.4" cy="1807.7" r="7.9"/><circle cx="2230.6" cy="1728.2" r="7.9"/><circle cx="2203.7" cy="1737.2" r="7.9"/><circle cx="2203.6" cy="1794.8" r="7.9"/><circle cx="2228.6" cy="1783.4" r="7.9"/><circle cx="2234.8" cy="1764.5" r="7.9"/><circle cx="2203.7" cy="1751.1" r="7.9"/><circle cx="2224.7" cy="1801.4" r="7.9"/><circle cx="2206.0" cy="1815.6" r="7.9"/><circle cx="2229.0" cy="1841.0" r="7.9"/><circle cx="2225.3" cy="1822.0" r="7.9"/><circle cx="2209.9" cy="1813.8" r="7.9"/><circle cx="2208.9" cy="1865.2" r="7.9"/><circle cx="2229.7" cy="1875.9" r="7.9"/><circle cx="2220.4" cy="1750.6" r="7.9"/><circle cx="2229.7" cy="1860.9" r="7.9"/><circle cx="2253.7" cy="1892.7" r="7.9"/><circle cx="2251.6" cy="1826.1" r="7.9"/><circle cx="2275.7" cy="1769.5" r="7.9"/><circle cx="2264.4" cy="1770.3" r="7.9"/><circle cx="2257.5" cy="1850.4" r="7.9"/><circle cx="2259.2" cy="1883.5" r="7.9"/><circle cx="2266.2" cy="1863.5" r="7.9"/><circle cx="2265.7" cy="1882.2" r="7.9"/><circle cx="2273.6" cy="1869.8" r="7.9"/><circle cx="2254.4" cy="1801.9" r="7.9"/><circle cx="2270.2" cy="1893.5" r="7.9"/><circle cx="2264.1" cy="1874.4" r="7.9"/><circle cx="2271.3" cy="1853.3" r="7.9"/><circle cx="2269.5" cy="1840.0" r="7.9"/><circle cx="2270.5" cy="1878.6" r="7.9"/><circle cx="2272.6" cy="1881.4" r="7.9"/><circle cx="2275.3" cy="1900.9" r="7.9"/><circle cx="2263.1" cy="1872.2" r="7.9"/><circle cx="2258.7" cy="1803.5" r="7.9"/><circle cx="2265.8" cy="1848.2" r="7.9"/><circle cx="2269.3" cy="1807.0" r="7.9"/><circle cx="2254.8" cy="1830.4" r="7.9"/><circle cx="2254.7" cy="1871.5" r="7.9"/><circle cx="2244.3" cy="1830.3" r="7.9"/><circle cx="2267.0" cy="1921.4" r="7.9"/><circle cx="2276.5" cy="1784.4" r="7.9"/><circle cx="2253.0" cy="1715.9" r="7.9"/><circle cx="2245.1" cy="1706.3" r="7.9"/><circle cx="2246.5" cy="1857.0" r="7.9"/><circle cx="2254.9" cy="1825.0" r="7.9"/><circle cx="2249.8" cy="1782.4" r="7.9"/><circle cx="2275.7" cy="1906.5" r="7.9"/><circle cx="2240.9" cy="1724.8" r="7.9"/><circle cx="2250.5" cy="1860.0" r="7.9"/><circle cx="2243.1" cy="1798.1" r="7.9"/><circle cx="2263.4" cy="1893.0" r="7.9"/><circle cx="2268.3" cy="1819.0" r="7.9"/><circle cx="2245.5" cy="1819.3" r="7.9"/><circle cx="2241.1" cy="1758.8" r="7.9"/><circle cx="2256.2" cy="1887.5" r="7.9"/><circle cx="2261.0" cy="1832.6" r="7.9"/><circle cx="2273.4" cy="1748.3" r="7.9"/><circle cx="2240.1" cy="1874.8" r="7.9"/><circle cx="2242.8" cy="1797.9" r="7.9"/><circle cx="2245.7" cy="1796.1" r="7.9"/><circle cx="2247.0" cy="1845.3" r="7.9"/><circle cx="2247.7" cy="1834.2" r="7.9"/><circle cx="2266.1" cy="1763.4" r="7.9"/><circle cx="2261.4" cy="1773.8" r="7.9"/><circle cx="2247.2" cy="1790.8" r="7.9"/><circle cx="2245.7" cy="1804.9" r="7.9"/><circle cx="2249.4" cy="1880.3" r="7.9"/><circle cx="2245.3" cy="1813.5" r="7.9"/><circle cx="2267.6" cy="1745.0" r="7.9"/><circle cx="2250.6" cy="1768.9" r="7.9"/><circle cx="2259.6" cy="1901.0" r="7.9"/><circle cx="2269.9" cy="1873.2" r="7.9"/><circle cx="2257.0" cy="1820.5" r="7.9"/><circle cx="2248.6" cy="1849.7" r="7.9"/><circle cx="2272.6" cy="1856.9" r="7.9"/><circle cx="2273.6" cy="1824.2" r="7.9"/><circle cx="2251.7" cy="1778.0" r="7.9"/><circle cx="2259.6" cy="1820.2" r="7.9"/><circle cx="2313.4" cy="1808.1" r="7.9"/><circle cx="2295.3" cy="1834.5" r="7.9"/><circle cx="2285.3" cy="1829.0" r="7.9"/><circle cx="2278.8" cy="1922.6" r="7.9"/><circle cx="2313.0" cy="1807.8" r="7.9"/><circle cx="2307.5" cy="1730.4" r="7.9"/><circle cx="2291.6" cy="1789.0" r="7.9"/><circle cx="2297.0" cy="1840.5" r="7.9"/><circle cx="2296.6" cy="1789.7" r="7.9"/><circle cx="2287.3" cy="1793.2" r="7.9"/><circle cx="2314.7" cy="1931.8" r="7.9"/><circle cx="2302.0" cy="1838.8" r="7.9"/><circle cx="2285.9" cy="1779.1" r="7.9"/><circle cx="2277.3" cy="1853.0" r="7.9"/><circle cx="2294.9" cy="1854.5" r="7.9"/><circle cx="2291.1" cy="1879.3" r="7.9"/><circle cx="2307.3" cy="1830.0" r="7.9"/><circle cx="2304.1" cy="1894.0" r="7.9"/><circle cx="2300.0" cy="1892.6" r="7.9"/><circle cx="2282.9" cy="1912.4" r="7.9"/><circle cx="2282.9" cy="1897.0" r="7.9"/><circle cx="2289.2" cy="1842.5" r="7.9"/><circle cx="2286.8" cy="1827.6" r="7.9"/><circle cx="2310.1" cy="1890.0" r="7.9"/><circle cx="2296.6" cy="1913.8" r="7.9"/><circle cx="2301.2" cy="1845.6" r="7.9"/><circle cx="2314.8" cy="1855.1" r="7.9"/><circle cx="2287.0" cy="1786.4" r="7.9"/><circle cx="2297.3" cy="1885.8" r="7.9"/><circle cx="2282.6" cy="1870.2" r="7.9"/><circle cx="2306.3" cy="1840.6" r="7.9"/><circle cx="2276.9" cy="1765.5" r="7.9"/><circle cx="2308.2" cy="1871.2" r="7.9"/><circle cx="2309.2" cy="1873.6" r="7.9"/><circle cx="2308.3" cy="1917.2" r="7.9"/><circle cx="2280.0" cy="1866.4" r="7.9"/><circle cx="2287.2" cy="1803.4" r="7.9"/><circle cx="2304.2" cy="1821.4" r="7.9"/><circle cx="2280.6" cy="1789.5" r="7.9"/><circle cx="2295.2" cy="1815.1" r="7.9"/><circle cx="2294.8" cy="1906.1" r="7.9"/><circle cx="2313.3" cy="1841.8" r="7.9"/><circle cx="2299.3" cy="1866.7" r="7.9"/><circle cx="2309.6" cy="1915.4" r="7.9"/><circle cx="2288.5" cy="1787.3" r="7.9"/><circle cx="2307.0" cy="1861.3" r="7.9"/><circle cx="2292.8" cy="1789.2" r="7.9"/><circle cx="2311.9" cy="1894.2" r="7.9"/><circle cx="2280.3" cy="1745.0" r="7.9"/><circle cx="2308.4" cy="1891.8" r="7.9"/><circle cx="2284.8" cy="1752.1" r="7.9"/><circle cx="2297.6" cy="1885.7" r="7.9"/><circle cx="2296.9" cy="1910.8" r="7.9"/><circle cx="2321.1" cy="1831.9" r="7.9"/><circle cx="2346.8" cy="1921.5" r="7.9"/><circle cx="2326.9" cy="1886.0" r="7.9"/><circle cx="2326.9" cy="1900.8" r="7.9"/><circle cx="2318.0" cy="1870.2" r="7.9"/><circle cx="2326.7" cy="1919.5" r="7.9"/><circle cx="2332.9" cy="1867.3" r="7.9"/><circle cx="2342.4" cy="1850.1" r="7.9"/><circle cx="2328.8" cy="1905.7" r="7.9"/><circle cx="2341.3" cy="1819.0" r="7.9"/><circle cx="2319.1" cy="1895.2" r="7.9"/><circle cx="2330.1" cy="1919.6" r="7.9"/><circle cx="2332.7" cy="1910.8" r="7.9"/><circle cx="2352.0" cy="1891.3" r="7.9"/><circle cx="2346.7" cy="1869.7" r="7.9"/><circle cx="2340.0" cy="1918.3" r="7.9"/><circle cx="2315.5" cy="1915.6" r="7.9"/><circle cx="2329.4" cy="1862.5" r="7.9"/><circle cx="2342.2" cy="1853.3" r="7.9"/><circle cx="2324.1" cy="1935.4" r="7.9"/><circle cx="2336.6" cy="1925.9" r="7.9"/><circle cx="2332.5" cy="1798.4" r="7.9"/><circle cx="2315.4" cy="1810.0" r="7.9"/><circle cx="2352.9" cy="1865.1" r="7.9"/><circle cx="2345.6" cy="1873.8" r="7.9"/><circle cx="2322.9" cy="1938.2" r="7.9"/><circle cx="2338.6" cy="1834.3" r="7.9"/><circle cx="2364.3" cy="1940.7" r="7.9"/><circle cx="2367.6" cy="1962.2" r="7.9"/><circle cx="2373.8" cy="1825.9" r="7.9"/><circle cx="2364.6" cy="1845.8" r="7.9"/><circle cx="2366.1" cy="1908.8" r="7.9"/><circle cx="2368.2" cy="1969.4" r="7.9"/><circle cx="2378.7" cy="1922.2" r="7.9"/><circle cx="2363.0" cy="1960.3" r="7.9"/><circle cx="2360.9" cy="1904.5" r="7.9"/><circle cx="2381.2" cy="1967.5" r="7.9"/><circle cx="2365.8" cy="1945.2" r="7.9"/><circle cx="2389.3" cy="1890.2" r="7.9"/><circle cx="2374.7" cy="1930.1" r="7.9"/><circle cx="2380.9" cy="1898.2" r="7.9"/><circle cx="2365.9" cy="1866.8" r="7.9"/><circle cx="2384.8" cy="1914.1" r="7.9"/><circle cx="2394.9" cy="2008.5" r="7.9"/><circle cx="2396.8" cy="1905.3" r="7.9"/><circle cx="2395.0" cy="1916.2" r="7.9"/><circle cx="2417.3" cy="1971.3" r="7.9"/><circle cx="2418.5" cy="1993.0" r="7.9"/><circle cx="2398.3" cy="1913.2" r="7.9"/><circle cx="2406.8" cy="2019.4" r="7.9"/><circle cx="2423.4" cy="1979.3" r="7.9"/><circle cx="2414.0" cy="1977.1" r="7.9"/><circle cx="2394.9" cy="1904.8" r="7.9"/><circle cx="2400.1" cy="1912.6" r="7.9"/><circle cx="2397.4" cy="1939.5" r="7.9"/><circle cx="2396.2" cy="1985.8" r="7.9"/><circle cx="2407.0" cy="1951.5" r="7.9"/><circle cx="2394.2" cy="2008.5" r="7.9"/><circle cx="2426.6" cy="1995.3" r="7.9"/><circle cx="2407.7" cy="1979.1" r="7.9"/><circle cx="2437.5" cy="1992.2" r="7.9"/><circle cx="2437.5" cy="1989.0" r="7.9"/><circle cx="2031.6" cy="1516.2" r="7.9"/><circle cx="1948.6" cy="1535.8" r="7.9"/><circle cx="1897.1" cy="1558.7" r="7.9"/><circle cx="1913.6" cy="1558.7" r="7.9"/><circle cx="1991.6" cy="1568.2" r="7.9"/><circle cx="2031.6" cy="1565.6" r="7.9"/><circle cx="1911.7" cy="1595.1" r="7.9"/><circle cx="1847.5" cy="1600.1" r="7.9"/><circle cx="1859.3" cy="1597.0" r="7.9"/><circle cx="1868.3" cy="1599.8" r="7.9"/><circle cx="1946.0" cy="1601.2" r="7.9"/><circle cx="1956.4" cy="1613.5" r="7.9"/><circle cx="1982.9" cy="1606.0" r="7.9"/><circle cx="1993.5" cy="1611.9" r="7.9"/><circle cx="1775.4" cy="1630.6" r="7.9"/><circle cx="1770.9" cy="1663.9" r="7.9"/><circle cx="1717.5" cy="1720.4" r="7.9"/><circle cx="1700.9" cy="1735.5" r="7.9"/><circle cx="1681.5" cy="1812.1" r="7.9"/><circle cx="1659.1" cy="1845.2" r="7.9"/><circle cx="1648.9" cy="1865.7" r="7.9"/><circle cx="1695.2" cy="1853.4" r="7.9"/><circle cx="1708.0" cy="1871.2" r="7.9"/><circle cx="1637.8" cy="1900.7" r="7.9"/><circle cx="1713.4" cy="1905.4" r="7.9"/><circle cx="1949.3" cy="1884.9" r="7.9"/><circle cx="1998.3" cy="1815.1" r="7.9"/><circle cx="2013.6" cy="1818.0" r="7.9"/><circle cx="1954.1" cy="1792.0" r="7.9"/><circle cx="2004.2" cy="1783.7" r="7.9"/><circle cx="2010.1" cy="1794.3" r="7.9"/><circle cx="1826.9" cy="1822.7" r="7.9"/><circle cx="1838.7" cy="1815.6" r="7.9"/><circle cx="1812.7" cy="1814.0" r="7.9"/><circle cx="1796.2" cy="1814.4" r="7.9"/><circle cx="1782.0" cy="1812.1" r="7.9"/><circle cx="1764.3" cy="1834.5" r="7.9"/><circle cx="2031.2" cy="1516.3" r="7.9"/><circle cx="1948.4" cy="1535.7" r="7.9"/><circle cx="1897.5" cy="1558.5" r="7.9"/><circle cx="1913.5" cy="1558.5" r="7.9"/><circle cx="1991.0" cy="1568.1" r="7.9"/><circle cx="2031.2" cy="1566.2" r="7.9"/><circle cx="2053.9" cy="1562.3" r="7.9"/><circle cx="2062.2" cy="1570.6" r="7.9"/><circle cx="2079.1" cy="1572.0" r="7.9"/><circle cx="2099.0" cy="1561.4" r="7.9"/><circle cx="1639.9" cy="1975.9" r="7.9"/><circle cx="2182.8" cy="1610.3" r="7.9"/><circle cx="2154.7" cy="1603.0" r="7.9"/><circle cx="2128.0" cy="1611.2" r="7.9"/><circle cx="2195.8" cy="1635.9" r="7.9"/><circle cx="2214.7" cy="1664.0" r="7.9"/><circle cx="2253.0" cy="1671.3" r="7.9"/><circle cx="2310.1" cy="1722.1" r="7.9"/><circle cx="2124.2" cy="1846.6" r="7.9"/><circle cx="2460.2" cy="2096.2" r="7.9"/><circle cx="2400.4" cy="2032.4" r="7.9"/><circle cx="2420.3" cy="2024.0" r="7.9"/><circle cx="2404.4" cy="2018.8" r="7.9"/><circle cx="2370.6" cy="1987.1" r="7.9"/><circle cx="2391.7" cy="1968.3" r="7.9"/><circle cx="2403.8" cy="1977.8" r="7.9"/><circle cx="2390.8" cy="1984.2" r="7.9"/><circle cx="2399.5" cy="1991.4" r="7.9"/><circle cx="2428.4" cy="1984.2" r="7.9"/><circle cx="2424.1" cy="1993.7" r="7.9"/><circle cx="2432.7" cy="1998.0" r="7.9"/><circle cx="2403.0" cy="1954.7" r="7.9"/><circle cx="2411.6" cy="1960.5" r="7.9"/><circle cx="2313.7" cy="1931.3" r="7.9"/><circle cx="2323.8" cy="1935.1" r="7.9"/><circle cx="2329.3" cy="1947.5" r="7.9"/><circle cx="2344.0" cy="1933.6" r="7.9"/><circle cx="2362.0" cy="1935.1" r="7.9"/><circle cx="2377.3" cy="1945.2" r="7.9"/><circle cx="2380.7" cy="1934.5" r="7.9"/><circle cx="2398.9" cy="1927.3" r="7.9"/><circle cx="2409.0" cy="1924.1" r="7.9"/><circle cx="2385.1" cy="1899.0" r="7.9"/><circle cx="2397.5" cy="1909.1" r="7.9"/><circle cx="2225.3" cy="1912.0" r="7.9"/><circle cx="2291.2" cy="1913.4" r="7.9"/><circle cx="2268.7" cy="1901.8" r="7.9"/><circle cx="2240.6" cy="1895.2" r="7.9"/><circle cx="2246.4" cy="1884.5" r="7.9"/><circle cx="2181.4" cy="1874.4" r="7.9"/><circle cx="2189.5" cy="1872.1" r="7.9"/><circle cx="2206.0" cy="1877.9" r="7.9"/><circle cx="2124.5" cy="1846.4" r="7.9"/><circle cx="2172.8" cy="1846.4" r="7.9"/><circle cx="2174.2" cy="1839.7" r="7.9"/><circle cx="2058.7" cy="1815.2" r="7.9"/><circle cx="2097.7" cy="1814.3" r="7.9"/><circle cx="2253.1" cy="1671.1" r="7.9"/><circle cx="2215.2" cy="1664.1" r="7.9"/><circle cx="2190.1" cy="1664.1" r="7.9"/><circle cx="2198.8" cy="1669.3" r="7.9"/><circle cx="2196.4" cy="1635.5" r="7.9"/><circle cx="2182.9" cy="1610.7" r="7.9"/><circle cx="2145.3" cy="1626.0" r="7.9"/><circle cx="2310.0" cy="1721.3" r="7.9"/><circle cx="2310.8" cy="1728.5" r="7.9"/></g>
<g fill="#2e2e2c"><circle cx="1688.7" cy="1853.9" r="5.2"/><circle cx="1696.8" cy="1854.0" r="5.2"/><circle cx="1683.0" cy="1814.1" r="5.2"/><circle cx="1697.6" cy="1805.5" r="5.2"/><circle cx="1679.2" cy="1806.5" r="5.2"/><circle cx="1705.0" cy="1786.3" r="5.2"/><circle cx="1729.6" cy="1825.5" r="5.2"/><circle cx="1736.2" cy="1790.0" r="5.2"/><circle cx="1695.8" cy="1825.5" r="5.2"/><circle cx="1738.6" cy="1765.2" r="5.2"/><circle cx="1740.7" cy="1796.4" r="5.2"/><circle cx="1725.8" cy="1764.8" r="5.2"/><circle cx="1723.3" cy="1782.1" r="5.2"/><circle cx="1705.6" cy="1799.5" r="5.2"/><circle cx="1713.0" cy="1785.8" r="5.2"/><circle cx="1729.5" cy="1770.9" r="5.2"/><circle cx="1702.0" cy="1823.7" r="5.2"/><circle cx="1711.7" cy="1790.9" r="5.2"/><circle cx="1710.6" cy="1788.1" r="5.2"/><circle cx="1702.0" cy="1814.5" r="5.2"/><circle cx="1760.0" cy="1796.8" r="5.2"/><circle cx="1763.8" cy="1764.6" r="5.2"/><circle cx="1775.0" cy="1761.2" r="5.2"/><circle cx="1752.4" cy="1806.8" r="5.2"/><circle cx="1762.6" cy="1741.3" r="5.2"/><circle cx="1758.7" cy="1752.9" r="5.2"/><circle cx="1762.9" cy="1787.6" r="5.2"/><circle cx="1757.6" cy="1742.0" r="5.2"/><circle cx="1745.3" cy="1779.2" r="5.2"/><circle cx="1782.3" cy="1753.5" r="5.2"/><circle cx="1780.3" cy="1738.2" r="5.2"/><circle cx="1775.7" cy="1785.5" r="5.2"/><circle cx="1772.3" cy="1781.5" r="5.2"/><circle cx="1752.8" cy="1760.4" r="5.2"/><circle cx="1747.5" cy="1792.9" r="5.2"/><circle cx="1761.1" cy="1758.8" r="5.2"/><circle cx="1738.6" cy="1763.3" r="5.2"/><circle cx="1777.7" cy="1748.9" r="5.2"/><circle cx="1747.6" cy="1792.2" r="5.2"/><circle cx="1774.0" cy="1765.2" r="5.2"/><circle cx="1764.1" cy="1782.7" r="5.2"/><circle cx="1778.4" cy="1760.2" r="5.2"/><circle cx="1774.3" cy="1786.9" r="5.2"/><circle cx="1736.7" cy="1844.0" r="5.2"/><circle cx="1790.0" cy="1758.3" r="5.2"/><circle cx="1816.2" cy="1768.8" r="5.2"/><circle cx="1798.5" cy="1773.7" r="5.2"/><circle cx="1813.3" cy="1734.8" r="5.2"/><circle cx="1798.6" cy="1734.4" r="5.2"/><circle cx="1783.1" cy="1766.3" r="5.2"/><circle cx="1811.0" cy="1712.8" r="5.2"/><circle cx="1807.3" cy="1773.1" r="5.2"/><circle cx="1792.5" cy="1744.0" r="5.2"/><circle cx="1779.6" cy="1810.9" r="5.2"/><circle cx="1789.3" cy="1747.4" r="5.2"/><circle cx="1821.9" cy="1786.8" r="5.2"/><circle cx="1807.4" cy="1709.4" r="5.2"/><circle cx="1791.5" cy="1758.9" r="5.2"/><circle cx="1790.1" cy="1775.5" r="5.2"/><circle cx="1786.2" cy="1781.5" r="5.2"/><circle cx="1773.4" cy="1799.6" r="5.2"/><circle cx="1811.2" cy="1777.4" r="5.2"/><circle cx="1792.4" cy="1719.7" r="5.2"/><circle cx="1806.5" cy="1729.5" r="5.2"/><circle cx="1802.8" cy="1740.7" r="5.2"/><circle cx="1791.8" cy="1740.5" r="5.2"/><circle cx="1850.2" cy="1754.7" r="5.2"/><circle cx="1820.6" cy="1765.6" r="5.2"/><circle cx="1847.1" cy="1717.5" r="5.2"/><circle cx="1819.5" cy="1765.8" r="5.2"/><circle cx="1832.1" cy="1714.1" r="5.2"/><circle cx="1826.3" cy="1744.4" r="5.2"/><circle cx="1825.8" cy="1741.5" r="5.2"/><circle cx="1863.1" cy="1741.4" r="5.2"/><circle cx="1847.7" cy="1711.9" r="5.2"/><circle cx="1825.0" cy="1711.3" r="5.2"/><circle cx="1846.6" cy="1716.4" r="5.2"/><circle cx="1815.1" cy="1767.7" r="5.2"/><circle cx="1838.0" cy="1748.8" r="5.2"/><circle cx="1848.0" cy="1728.6" r="5.2"/><circle cx="1843.2" cy="1743.6" r="5.2"/><circle cx="1819.4" cy="1703.3" r="5.2"/><circle cx="1858.0" cy="1755.1" r="5.2"/><circle cx="1824.4" cy="1746.3" r="5.2"/><circle cx="1830.8" cy="1696.2" r="5.2"/><circle cx="1845.8" cy="1727.0" r="5.2"/><circle cx="1829.3" cy="1733.6" r="5.2"/><circle cx="1826.8" cy="1728.5" r="5.2"/><circle cx="1826.8" cy="1748.0" r="5.2"/><circle cx="1820.6" cy="1737.6" r="5.2"/><circle cx="1873.1" cy="1754.0" r="5.2"/><circle cx="1864.5" cy="1745.8" r="5.2"/><circle cx="1886.8" cy="1729.8" r="5.2"/><circle cx="1868.7" cy="1724.9" r="5.2"/><circle cx="1870.6" cy="1721.4" r="5.2"/><circle cx="1894.4" cy="1735.3" r="5.2"/><circle cx="1874.5" cy="1725.0" r="5.2"/><circle cx="1882.2" cy="1698.9" r="5.2"/><circle cx="1893.8" cy="1719.6" r="5.2"/><circle cx="1867.5" cy="1727.7" r="5.2"/><circle cx="1868.1" cy="1712.0" r="5.2"/><circle cx="1889.6" cy="1686.1" r="5.2"/><circle cx="1881.1" cy="1742.8" r="5.2"/><circle cx="1862.7" cy="1727.5" r="5.2"/><circle cx="1858.4" cy="1756.2" r="5.2"/><circle cx="1876.4" cy="1716.2" r="5.2"/><circle cx="1889.2" cy="1697.7" r="5.2"/><circle cx="1859.1" cy="1692.4" r="5.2"/><circle cx="1893.6" cy="1689.4" r="5.2"/><circle cx="1885.4" cy="1688.5" r="5.2"/><circle cx="1885.0" cy="1728.3" r="5.2"/><circle cx="1869.0" cy="1731.3" r="5.2"/><circle cx="1862.1" cy="1686.7" r="5.2"/><circle cx="1857.3" cy="1734.6" r="5.2"/><circle cx="1895.3" cy="1723.2" r="5.2"/><circle cx="1863.8" cy="1729.0" r="5.2"/><circle cx="1887.7" cy="1719.1" r="5.2"/><circle cx="1867.8" cy="1728.9" r="5.2"/><circle cx="1887.4" cy="1725.8" r="5.2"/><circle cx="1885.5" cy="1711.9" r="5.2"/><circle cx="1875.0" cy="1723.8" r="5.2"/><circle cx="1868.5" cy="1756.8" r="5.2"/><circle cx="1882.5" cy="1719.7" r="5.2"/><circle cx="1856.6" cy="1729.5" r="5.2"/><circle cx="1861.3" cy="1728.9" r="5.2"/><circle cx="1875.2" cy="1719.5" r="5.2"/><circle cx="1888.1" cy="1742.5" r="5.2"/><circle cx="1878.4" cy="1718.1" r="5.2"/><circle cx="1861.7" cy="1722.2" r="5.2"/><circle cx="1897.7" cy="1721.7" r="5.2"/><circle cx="1867.2" cy="1706.8" r="5.2"/><circle cx="1853.8" cy="1694.4" r="5.2"/><circle cx="1878.7" cy="1744.5" r="5.2"/><circle cx="1922.0" cy="1730.3" r="5.2"/><circle cx="1904.1" cy="1760.7" r="5.2"/><circle cx="1907.0" cy="1711.2" r="5.2"/><circle cx="1903.2" cy="1735.9" r="5.2"/><circle cx="1912.1" cy="1736.5" r="5.2"/><circle cx="1901.8" cy="1719.9" r="5.2"/><circle cx="1897.3" cy="1723.9" r="5.2"/><circle cx="1931.2" cy="1708.9" r="5.2"/><circle cx="1940.3" cy="1756.1" r="5.2"/><circle cx="1921.3" cy="1711.8" r="5.2"/><circle cx="1924.8" cy="1745.8" r="5.2"/><circle cx="1911.4" cy="1718.3" r="5.2"/><circle cx="1900.8" cy="1761.1" r="5.2"/><circle cx="1898.1" cy="1716.1" r="5.2"/><circle cx="1899.1" cy="1781.5" r="5.2"/><circle cx="1932.1" cy="1733.4" r="5.2"/><circle cx="1919.6" cy="1693.2" r="5.2"/><circle cx="1939.6" cy="1706.1" r="5.2"/><circle cx="1895.4" cy="1683.4" r="5.2"/><circle cx="1915.2" cy="1717.3" r="5.2"/><circle cx="1911.1" cy="1738.8" r="5.2"/><circle cx="1923.8" cy="1660.9" r="5.2"/><circle cx="1908.4" cy="1701.9" r="5.2"/><circle cx="1933.1" cy="1682.5" r="5.2"/><circle cx="1898.8" cy="1738.0" r="5.2"/><circle cx="1916.4" cy="1677.1" r="5.2"/><circle cx="1922.8" cy="1682.2" r="5.2"/><circle cx="1929.1" cy="1660.4" r="5.2"/><circle cx="1924.5" cy="1695.6" r="5.2"/><circle cx="1920.6" cy="1691.6" r="5.2"/><circle cx="1924.3" cy="1749.4" r="5.2"/><circle cx="1931.4" cy="1741.5" r="5.2"/><circle cx="1915.3" cy="1693.5" r="5.2"/><circle cx="1921.3" cy="1695.2" r="5.2"/><circle cx="1917.5" cy="1674.5" r="5.2"/><circle cx="1925.3" cy="1695.1" r="5.2"/><circle cx="1922.8" cy="1753.0" r="5.2"/><circle cx="1923.3" cy="1703.7" r="5.2"/><circle cx="1930.0" cy="1753.9" r="5.2"/><circle cx="1912.6" cy="1676.4" r="5.2"/><circle cx="1916.1" cy="1699.4" r="5.2"/><circle cx="1903.3" cy="1738.1" r="5.2"/><circle cx="1908.9" cy="1707.6" r="5.2"/><circle cx="1923.6" cy="1709.9" r="5.2"/><circle cx="1896.9" cy="1710.0" r="5.2"/><circle cx="1921.6" cy="1719.8" r="5.2"/><circle cx="1935.5" cy="1661.3" r="5.2"/><circle cx="1938.9" cy="1724.5" r="5.2"/><circle cx="1917.0" cy="1664.9" r="5.2"/><circle cx="1914.4" cy="1682.9" r="5.2"/><circle cx="1925.9" cy="1717.6" r="5.2"/><circle cx="1921.7" cy="1684.3" r="5.2"/><circle cx="1917.3" cy="1740.5" r="5.2"/><circle cx="1931.8" cy="1719.9" r="5.2"/><circle cx="1896.6" cy="1707.2" r="5.2"/><circle cx="1960.3" cy="1649.7" r="5.2"/><circle cx="1937.0" cy="1703.5" r="5.2"/><circle cx="1955.3" cy="1701.8" r="5.2"/><circle cx="1950.6" cy="1693.6" r="5.2"/><circle cx="1946.0" cy="1687.8" r="5.2"/><circle cx="1954.1" cy="1716.4" r="5.2"/><circle cx="1952.6" cy="1738.8" r="5.2"/><circle cx="1958.5" cy="1711.6" r="5.2"/><circle cx="1968.7" cy="1698.4" r="5.2"/><circle cx="1940.2" cy="1670.6" r="5.2"/><circle cx="1938.5" cy="1723.9" r="5.2"/><circle cx="1946.9" cy="1690.1" r="5.2"/><circle cx="1955.6" cy="1717.0" r="5.2"/><circle cx="1944.2" cy="1774.2" r="5.2"/><circle cx="1933.7" cy="1702.5" r="5.2"/><circle cx="1970.7" cy="1731.3" r="5.2"/><circle cx="1962.4" cy="1652.3" r="5.2"/><circle cx="1951.1" cy="1709.2" r="5.2"/><circle cx="1967.6" cy="1733.5" r="5.2"/><circle cx="1948.3" cy="1704.1" r="5.2"/><circle cx="1962.1" cy="1672.1" r="5.2"/><circle cx="1941.0" cy="1705.1" r="5.2"/><circle cx="1951.2" cy="1664.4" r="5.2"/><circle cx="1957.3" cy="1708.1" r="5.2"/><circle cx="1965.3" cy="1704.8" r="5.2"/><circle cx="1970.7" cy="1706.3" r="5.2"/><circle cx="1951.3" cy="1703.4" r="5.2"/><circle cx="1952.2" cy="1724.6" r="5.2"/><circle cx="1939.0" cy="1704.3" r="5.2"/><circle cx="1936.6" cy="1689.1" r="5.2"/><circle cx="1956.7" cy="1730.3" r="5.2"/><circle cx="1960.2" cy="1692.7" r="5.2"/><circle cx="1961.6" cy="1702.7" r="5.2"/><circle cx="1963.2" cy="1717.7" r="5.2"/><circle cx="1977.7" cy="1727.5" r="5.2"/><circle cx="1945.8" cy="1719.3" r="5.2"/><circle cx="1926.5" cy="1716.0" r="5.2"/><circle cx="1949.7" cy="1693.8" r="5.2"/><circle cx="1943.2" cy="1727.7" r="5.2"/><circle cx="1939.1" cy="1717.5" r="5.2"/><circle cx="1952.6" cy="1714.9" r="5.2"/><circle cx="1962.8" cy="1686.4" r="5.2"/><circle cx="1948.7" cy="1682.5" r="5.2"/><circle cx="1934.9" cy="1709.8" r="5.2"/><circle cx="1960.8" cy="1710.5" r="5.2"/><circle cx="1976.1" cy="1708.0" r="5.2"/><circle cx="1949.8" cy="1676.2" r="5.2"/><circle cx="1932.6" cy="1731.7" r="5.2"/><circle cx="1977.1" cy="1692.6" r="5.2"/><circle cx="1998.2" cy="1704.2" r="5.2"/><circle cx="1976.6" cy="1712.1" r="5.2"/><circle cx="1996.6" cy="1704.6" r="5.2"/><circle cx="1994.2" cy="1725.7" r="5.2"/><circle cx="1987.1" cy="1747.6" r="5.2"/><circle cx="2001.3" cy="1654.3" r="5.2"/><circle cx="1967.3" cy="1708.9" r="5.2"/><circle cx="1966.2" cy="1728.8" r="5.2"/><circle cx="1983.5" cy="1706.5" r="5.2"/><circle cx="1970.1" cy="1661.8" r="5.2"/><circle cx="1998.9" cy="1708.7" r="5.2"/><circle cx="1981.5" cy="1691.8" r="5.2"/><circle cx="1980.9" cy="1747.3" r="5.2"/><circle cx="1983.3" cy="1715.7" r="5.2"/><circle cx="1992.2" cy="1749.3" r="5.2"/><circle cx="1986.4" cy="1752.5" r="5.2"/><circle cx="1996.4" cy="1723.1" r="5.2"/><circle cx="1997.9" cy="1727.8" r="5.2"/><circle cx="2002.6" cy="1652.1" r="5.2"/><circle cx="2013.4" cy="1704.0" r="5.2"/><circle cx="1993.0" cy="1671.3" r="5.2"/><circle cx="1971.3" cy="1743.5" r="5.2"/><circle cx="1995.5" cy="1723.1" r="5.2"/><circle cx="1984.5" cy="1693.6" r="5.2"/><circle cx="1981.9" cy="1663.2" r="5.2"/><circle cx="1992.2" cy="1723.9" r="5.2"/><circle cx="2001.4" cy="1672.8" r="5.2"/><circle cx="1978.9" cy="1717.6" r="5.2"/><circle cx="1980.1" cy="1709.5" r="5.2"/><circle cx="1983.0" cy="1679.4" r="5.2"/><circle cx="1992.2" cy="1697.1" r="5.2"/><circle cx="1982.2" cy="1762.7" r="5.2"/><circle cx="1990.2" cy="1727.0" r="5.2"/><circle cx="1996.2" cy="1725.8" r="5.2"/><circle cx="1989.3" cy="1693.6" r="5.2"/><circle cx="2002.0" cy="1703.2" r="5.2"/><circle cx="2002.8" cy="1732.9" r="5.2"/><circle cx="1968.2" cy="1718.6" r="5.2"/><circle cx="2001.8" cy="1716.3" r="5.2"/><circle cx="2002.3" cy="1694.4" r="5.2"/><circle cx="1982.5" cy="1731.6" r="5.2"/><circle cx="1978.6" cy="1736.1" r="5.2"/><circle cx="2004.4" cy="1690.7" r="5.2"/><circle cx="2004.1" cy="1675.1" r="5.2"/><circle cx="1983.9" cy="1666.3" r="5.2"/><circle cx="1991.3" cy="1718.4" r="5.2"/><circle cx="2008.2" cy="1736.9" r="5.2"/><circle cx="2001.1" cy="1659.7" r="5.2"/><circle cx="2009.5" cy="1735.9" r="5.2"/><circle cx="1988.0" cy="1708.9" r="5.2"/><circle cx="1992.8" cy="1697.9" r="5.2"/><circle cx="1985.0" cy="1707.1" r="5.2"/><circle cx="2003.0" cy="1700.9" r="5.2"/><circle cx="2003.3" cy="1727.1" r="5.2"/><circle cx="2000.3" cy="1674.4" r="5.2"/><circle cx="1996.7" cy="1730.2" r="5.2"/><circle cx="1981.9" cy="1705.7" r="5.2"/><circle cx="2010.9" cy="1695.9" r="5.2"/><circle cx="2008.2" cy="1743.0" r="5.2"/><circle cx="2011.6" cy="1705.8" r="5.2"/><circle cx="2024.3" cy="1745.6" r="5.2"/><circle cx="2031.4" cy="1692.8" r="5.2"/><circle cx="2019.8" cy="1730.3" r="5.2"/><circle cx="2041.4" cy="1711.7" r="5.2"/><circle cx="2042.4" cy="1717.5" r="5.2"/><circle cx="2026.3" cy="1682.6" r="5.2"/><circle cx="2011.7" cy="1668.8" r="5.2"/><circle cx="2025.8" cy="1730.0" r="5.2"/><circle cx="2031.3" cy="1744.4" r="5.2"/><circle cx="2037.5" cy="1735.3" r="5.2"/><circle cx="2026.2" cy="1703.4" r="5.2"/><circle cx="1999.4" cy="1698.5" r="5.2"/><circle cx="2041.7" cy="1714.4" r="5.2"/><circle cx="2015.3" cy="1699.7" r="5.2"/><circle cx="2038.4" cy="1734.0" r="5.2"/><circle cx="2019.5" cy="1689.3" r="5.2"/><circle cx="2015.6" cy="1726.6" r="5.2"/><circle cx="2034.2" cy="1687.8" r="5.2"/><circle cx="2012.3" cy="1739.7" r="5.2"/><circle cx="2022.2" cy="1697.0" r="5.2"/><circle cx="2030.4" cy="1702.3" r="5.2"/><circle cx="2036.4" cy="1707.9" r="5.2"/><circle cx="2045.7" cy="1698.1" r="5.2"/><circle cx="2033.8" cy="1706.2" r="5.2"/><circle cx="2054.3" cy="1723.5" r="5.2"/><circle cx="2022.3" cy="1705.5" r="5.2"/><circle cx="2040.6" cy="1693.3" r="5.2"/><circle cx="2015.5" cy="1699.2" r="5.2"/><circle cx="2027.1" cy="1734.0" r="5.2"/><circle cx="2029.4" cy="1750.4" r="5.2"/><circle cx="2026.3" cy="1710.3" r="5.2"/><circle cx="2045.5" cy="1716.2" r="5.2"/><circle cx="2029.1" cy="1726.1" r="5.2"/><circle cx="2033.2" cy="1729.3" r="5.2"/><circle cx="2042.9" cy="1727.3" r="5.2"/><circle cx="2027.6" cy="1722.5" r="5.2"/><circle cx="2028.9" cy="1735.5" r="5.2"/><circle cx="2025.6" cy="1688.2" r="5.2"/><circle cx="2038.4" cy="1746.8" r="5.2"/><circle cx="2050.8" cy="1665.9" r="5.2"/><circle cx="2016.3" cy="1738.7" r="5.2"/><circle cx="2046.0" cy="1710.3" r="5.2"/><circle cx="2042.7" cy="1718.9" r="5.2"/><circle cx="2018.5" cy="1729.0" r="5.2"/><circle cx="2025.8" cy="1741.7" r="5.2"/><circle cx="2019.9" cy="1701.8" r="5.2"/><circle cx="2037.8" cy="1725.8" r="5.2"/><circle cx="2024.9" cy="1675.2" r="5.2"/><circle cx="2037.4" cy="1706.0" r="5.2"/><circle cx="2011.0" cy="1727.6" r="5.2"/><circle cx="2044.1" cy="1720.6" r="5.2"/><circle cx="2017.6" cy="1660.8" r="5.2"/><circle cx="2028.2" cy="1656.1" r="5.2"/><circle cx="2045.8" cy="1697.0" r="5.2"/><circle cx="2034.9" cy="1751.6" r="5.2"/><circle cx="2023.6" cy="1687.2" r="5.2"/><circle cx="2034.1" cy="1749.7" r="5.2"/><circle cx="2012.0" cy="1741.2" r="5.2"/><circle cx="2030.1" cy="1669.2" r="5.2"/><circle cx="2058.2" cy="1721.5" r="5.2"/><circle cx="2086.8" cy="1712.2" r="5.2"/><circle cx="2083.8" cy="1732.7" r="5.2"/><circle cx="2056.4" cy="1714.6" r="5.2"/><circle cx="2071.7" cy="1739.2" r="5.2"/><circle cx="2051.7" cy="1691.9" r="5.2"/><circle cx="2069.9" cy="1681.3" r="5.2"/><circle cx="2074.7" cy="1721.5" r="5.2"/><circle cx="2090.2" cy="1723.5" r="5.2"/><circle cx="2067.2" cy="1732.0" r="5.2"/><circle cx="2056.7" cy="1724.0" r="5.2"/><circle cx="2044.8" cy="1735.3" r="5.2"/><circle cx="2066.7" cy="1676.4" r="5.2"/><circle cx="2086.5" cy="1701.4" r="5.2"/><circle cx="2050.2" cy="1745.1" r="5.2"/><circle cx="2079.6" cy="1732.3" r="5.2"/><circle cx="2048.0" cy="1685.9" r="5.2"/><circle cx="2054.2" cy="1710.8" r="5.2"/><circle cx="2051.7" cy="1683.4" r="5.2"/><circle cx="2076.3" cy="1693.2" r="5.2"/><circle cx="2067.5" cy="1752.0" r="5.2"/><circle cx="2061.3" cy="1694.2" r="5.2"/><circle cx="2072.9" cy="1703.3" r="5.2"/><circle cx="2053.8" cy="1749.0" r="5.2"/><circle cx="2075.2" cy="1681.6" r="5.2"/><circle cx="2052.1" cy="1715.0" r="5.2"/><circle cx="2071.1" cy="1755.3" r="5.2"/><circle cx="2059.0" cy="1671.9" r="5.2"/><circle cx="2054.0" cy="1731.1" r="5.2"/><circle cx="2070.3" cy="1722.4" r="5.2"/><circle cx="2060.5" cy="1706.3" r="5.2"/><circle cx="2054.3" cy="1693.2" r="5.2"/><circle cx="2057.9" cy="1724.3" r="5.2"/><circle cx="2071.2" cy="1711.8" r="5.2"/><circle cx="2054.9" cy="1675.3" r="5.2"/><circle cx="2062.5" cy="1657.6" r="5.2"/><circle cx="2069.2" cy="1687.6" r="5.2"/><circle cx="2064.3" cy="1690.3" r="5.2"/><circle cx="2073.9" cy="1729.5" r="5.2"/><circle cx="2082.3" cy="1690.2" r="5.2"/><circle cx="2070.3" cy="1727.1" r="5.2"/><circle cx="2087.4" cy="1745.2" r="5.2"/><circle cx="2057.3" cy="1686.1" r="5.2"/><circle cx="2077.0" cy="1671.1" r="5.2"/><circle cx="2085.5" cy="1699.8" r="5.2"/><circle cx="2090.3" cy="1692.8" r="5.2"/><circle cx="2054.0" cy="1718.4" r="5.2"/><circle cx="2060.9" cy="1705.6" r="5.2"/><circle cx="2075.0" cy="1652.8" r="5.2"/><circle cx="2048.7" cy="1738.6" r="5.2"/><circle cx="2087.8" cy="1706.7" r="5.2"/><circle cx="2088.7" cy="1706.1" r="5.2"/><circle cx="2054.5" cy="1691.7" r="5.2"/><circle cx="2053.4" cy="1742.9" r="5.2"/><circle cx="2073.2" cy="1685.2" r="5.2"/><circle cx="2056.2" cy="1678.4" r="5.2"/><circle cx="2048.8" cy="1690.6" r="5.2"/><circle cx="2079.6" cy="1689.9" r="5.2"/><circle cx="2063.8" cy="1705.5" r="5.2"/><circle cx="2113.8" cy="1683.4" r="5.2"/><circle cx="2090.5" cy="1699.1" r="5.2"/><circle cx="2104.2" cy="1735.1" r="5.2"/><circle cx="2108.2" cy="1714.5" r="5.2"/><circle cx="2092.4" cy="1738.7" r="5.2"/><circle cx="2088.8" cy="1736.8" r="5.2"/><circle cx="2110.1" cy="1741.0" r="5.2"/><circle cx="2116.8" cy="1702.5" r="5.2"/><circle cx="2117.8" cy="1716.4" r="5.2"/><circle cx="2084.8" cy="1716.6" r="5.2"/><circle cx="2107.6" cy="1764.0" r="5.2"/><circle cx="2115.1" cy="1709.6" r="5.2"/><circle cx="2104.8" cy="1705.9" r="5.2"/><circle cx="2114.0" cy="1747.9" r="5.2"/><circle cx="2092.5" cy="1695.5" r="5.2"/><circle cx="2094.5" cy="1746.4" r="5.2"/><circle cx="2087.2" cy="1746.2" r="5.2"/><circle cx="2087.2" cy="1738.6" r="5.2"/><circle cx="2102.4" cy="1692.8" r="5.2"/><circle cx="2115.9" cy="1767.8" r="5.2"/><circle cx="2115.2" cy="1738.6" r="5.2"/><circle cx="2094.6" cy="1703.0" r="5.2"/><circle cx="2098.6" cy="1717.3" r="5.2"/><circle cx="2089.8" cy="1713.2" r="5.2"/><circle cx="2121.6" cy="1739.8" r="5.2"/><circle cx="2125.6" cy="1718.5" r="5.2"/><circle cx="2122.1" cy="1717.1" r="5.2"/><circle cx="2092.3" cy="1691.4" r="5.2"/><circle cx="2086.9" cy="1720.4" r="5.2"/><circle cx="2112.3" cy="1736.7" r="5.2"/><circle cx="2096.4" cy="1694.8" r="5.2"/><circle cx="2110.1" cy="1731.5" r="5.2"/><circle cx="2100.8" cy="1687.0" r="5.2"/><circle cx="2109.3" cy="1735.2" r="5.2"/><circle cx="2106.7" cy="1685.8" r="5.2"/><circle cx="2098.4" cy="1717.8" r="5.2"/><circle cx="2103.2" cy="1728.5" r="5.2"/><circle cx="2089.7" cy="1709.2" r="5.2"/><circle cx="2111.0" cy="1728.2" r="5.2"/><circle cx="2125.1" cy="1699.1" r="5.2"/><circle cx="2087.1" cy="1656.7" r="5.2"/><circle cx="2101.3" cy="1716.0" r="5.2"/><circle cx="2111.8" cy="1728.7" r="5.2"/><circle cx="2104.3" cy="1748.8" r="5.2"/><circle cx="2093.5" cy="1720.0" r="5.2"/><circle cx="2100.3" cy="1702.2" r="5.2"/><circle cx="2107.5" cy="1699.7" r="5.2"/><circle cx="2089.2" cy="1708.4" r="5.2"/><circle cx="2108.7" cy="1702.6" r="5.2"/><circle cx="2115.0" cy="1697.4" r="5.2"/><circle cx="2114.2" cy="1728.7" r="5.2"/><circle cx="2114.6" cy="1740.7" r="5.2"/><circle cx="2111.2" cy="1716.7" r="5.2"/><circle cx="2097.2" cy="1721.1" r="5.2"/><circle cx="2110.4" cy="1730.6" r="5.2"/><circle cx="2104.6" cy="1727.6" r="5.2"/><circle cx="2111.4" cy="1711.8" r="5.2"/><circle cx="2116.9" cy="1695.2" r="5.2"/><circle cx="2101.8" cy="1730.4" r="5.2"/><circle cx="2123.4" cy="1710.8" r="5.2"/><circle cx="2114.7" cy="1694.1" r="5.2"/><circle cx="2119.6" cy="1748.4" r="5.2"/><circle cx="2123.8" cy="1722.1" r="5.2"/><circle cx="2098.3" cy="1729.3" r="5.2"/><circle cx="2119.1" cy="1744.6" r="5.2"/><circle cx="2124.5" cy="1707.1" r="5.2"/><circle cx="2108.3" cy="1692.4" r="5.2"/><circle cx="2116.3" cy="1713.4" r="5.2"/><circle cx="2119.6" cy="1718.7" r="5.2"/><circle cx="2100.2" cy="1699.3" r="5.2"/><circle cx="2105.0" cy="1742.4" r="5.2"/><circle cx="2090.9" cy="1684.6" r="5.2"/><circle cx="2091.2" cy="1711.2" r="5.2"/><circle cx="2100.7" cy="1719.1" r="5.2"/><circle cx="2089.1" cy="1673.9" r="5.2"/><circle cx="2145.8" cy="1700.2" r="5.2"/><circle cx="2151.4" cy="1722.0" r="5.2"/><circle cx="2139.3" cy="1712.2" r="5.2"/><circle cx="2127.5" cy="1746.7" r="5.2"/><circle cx="2160.7" cy="1768.0" r="5.2"/><circle cx="2157.7" cy="1712.3" r="5.2"/><circle cx="2138.7" cy="1709.8" r="5.2"/><circle cx="2150.4" cy="1723.7" r="5.2"/><circle cx="2149.1" cy="1741.8" r="5.2"/><circle cx="2145.7" cy="1719.7" r="5.2"/><circle cx="2142.5" cy="1750.7" r="5.2"/><circle cx="2163.4" cy="1732.3" r="5.2"/><circle cx="2151.5" cy="1712.0" r="5.2"/><circle cx="2151.7" cy="1714.1" r="5.2"/><circle cx="2155.2" cy="1692.4" r="5.2"/><circle cx="2162.9" cy="1715.5" r="5.2"/><circle cx="2120.7" cy="1721.9" r="5.2"/><circle cx="2151.1" cy="1699.1" r="5.2"/><circle cx="2147.8" cy="1725.6" r="5.2"/><circle cx="2132.6" cy="1718.8" r="5.2"/><circle cx="2137.2" cy="1732.1" r="5.2"/><circle cx="2125.7" cy="1715.0" r="5.2"/><circle cx="2136.2" cy="1742.6" r="5.2"/><circle cx="2134.0" cy="1700.7" r="5.2"/><circle cx="2130.2" cy="1724.1" r="5.2"/><circle cx="2128.4" cy="1692.4" r="5.2"/><circle cx="2153.7" cy="1697.8" r="5.2"/><circle cx="2146.2" cy="1727.8" r="5.2"/><circle cx="2142.7" cy="1702.5" r="5.2"/><circle cx="2161.1" cy="1772.0" r="5.2"/><circle cx="2142.6" cy="1713.0" r="5.2"/><circle cx="2166.3" cy="1704.0" r="5.2"/><circle cx="2142.3" cy="1669.6" r="5.2"/><circle cx="2163.4" cy="1731.8" r="5.2"/><circle cx="2117.9" cy="1737.8" r="5.2"/><circle cx="2151.7" cy="1673.8" r="5.2"/><circle cx="2150.6" cy="1771.7" r="5.2"/><circle cx="2121.4" cy="1668.8" r="5.2"/><circle cx="2159.6" cy="1763.2" r="5.2"/><circle cx="2120.6" cy="1700.7" r="5.2"/><circle cx="2145.8" cy="1736.0" r="5.2"/><circle cx="2129.6" cy="1717.4" r="5.2"/><circle cx="2141.4" cy="1736.5" r="5.2"/><circle cx="2144.8" cy="1738.6" r="5.2"/><circle cx="2132.0" cy="1709.9" r="5.2"/><circle cx="2164.9" cy="1683.3" r="5.2"/><circle cx="2129.7" cy="1721.0" r="5.2"/><circle cx="2148.6" cy="1730.2" r="5.2"/><circle cx="2144.2" cy="1713.6" r="5.2"/><circle cx="2135.6" cy="1742.2" r="5.2"/><circle cx="2133.6" cy="1719.1" r="5.2"/><circle cx="2149.1" cy="1702.4" r="5.2"/><circle cx="2145.6" cy="1735.9" r="5.2"/><circle cx="2148.9" cy="1730.6" r="5.2"/><circle cx="2150.2" cy="1728.9" r="5.2"/><circle cx="2132.2" cy="1759.6" r="5.2"/><circle cx="2125.5" cy="1681.5" r="5.2"/><circle cx="2125.1" cy="1737.0" r="5.2"/><circle cx="2127.7" cy="1735.8" r="5.2"/><circle cx="2132.5" cy="1721.4" r="5.2"/><circle cx="2147.8" cy="1730.0" r="5.2"/><circle cx="2136.6" cy="1707.7" r="5.2"/><circle cx="2146.7" cy="1713.9" r="5.2"/><circle cx="2158.8" cy="1724.0" r="5.2"/><circle cx="2127.1" cy="1732.0" r="5.2"/><circle cx="2163.4" cy="1732.8" r="5.2"/><circle cx="2154.3" cy="1756.2" r="5.2"/><circle cx="2116.2" cy="1704.6" r="5.2"/><circle cx="2159.5" cy="1700.6" r="5.2"/><circle cx="2141.7" cy="1705.4" r="5.2"/><circle cx="2136.2" cy="1768.0" r="5.2"/><circle cx="2158.6" cy="1736.0" r="5.2"/><circle cx="2135.0" cy="1724.2" r="5.2"/><circle cx="2143.3" cy="1722.2" r="5.2"/><circle cx="2161.0" cy="1723.4" r="5.2"/><circle cx="2153.1" cy="1738.7" r="5.2"/><circle cx="2141.5" cy="1759.7" r="5.2"/><circle cx="2156.3" cy="1733.9" r="5.2"/><circle cx="2157.2" cy="1746.3" r="5.2"/><circle cx="2140.7" cy="1698.5" r="5.2"/><circle cx="2162.8" cy="1772.1" r="5.2"/><circle cx="2181.6" cy="1764.1" r="5.2"/><circle cx="2168.6" cy="1740.3" r="5.2"/><circle cx="2177.8" cy="1751.9" r="5.2"/><circle cx="2160.5" cy="1699.6" r="5.2"/><circle cx="2182.8" cy="1737.5" r="5.2"/><circle cx="2173.3" cy="1761.5" r="5.2"/><circle cx="2178.9" cy="1720.9" r="5.2"/><circle cx="2188.7" cy="1766.7" r="5.2"/><circle cx="2175.4" cy="1688.0" r="5.2"/><circle cx="2171.8" cy="1738.2" r="5.2"/><circle cx="2189.4" cy="1782.5" r="5.2"/><circle cx="2178.0" cy="1777.5" r="5.2"/><circle cx="2198.4" cy="1766.1" r="5.2"/><circle cx="2183.0" cy="1758.1" r="5.2"/><circle cx="2201.0" cy="1734.3" r="5.2"/><circle cx="2198.7" cy="1749.3" r="5.2"/><circle cx="2191.4" cy="1744.4" r="5.2"/><circle cx="2169.1" cy="1714.9" r="5.2"/><circle cx="2170.5" cy="1765.0" r="5.2"/><circle cx="2191.7" cy="1757.9" r="5.2"/><circle cx="2193.6" cy="1774.4" r="5.2"/><circle cx="2193.3" cy="1738.0" r="5.2"/><circle cx="2176.7" cy="1711.0" r="5.2"/><circle cx="2169.2" cy="1721.4" r="5.2"/><circle cx="2190.3" cy="1705.6" r="5.2"/><circle cx="2179.0" cy="1698.9" r="5.2"/><circle cx="2187.6" cy="1730.5" r="5.2"/><circle cx="2191.3" cy="1744.5" r="5.2"/><circle cx="2190.2" cy="1716.9" r="5.2"/><circle cx="2167.9" cy="1703.2" r="5.2"/><circle cx="2178.1" cy="1727.8" r="5.2"/><circle cx="2200.5" cy="1758.2" r="5.2"/><circle cx="2193.1" cy="1702.9" r="5.2"/><circle cx="2191.1" cy="1736.0" r="5.2"/><circle cx="2165.2" cy="1751.8" r="5.2"/><circle cx="2161.5" cy="1745.9" r="5.2"/><circle cx="2182.4" cy="1725.2" r="5.2"/><circle cx="2184.9" cy="1684.7" r="5.2"/><circle cx="2190.7" cy="1704.9" r="5.2"/><circle cx="2164.2" cy="1746.3" r="5.2"/><circle cx="2189.6" cy="1700.8" r="5.2"/><circle cx="2160.4" cy="1699.3" r="5.2"/><circle cx="2167.0" cy="1709.8" r="5.2"/><circle cx="2192.6" cy="1691.0" r="5.2"/><circle cx="2180.5" cy="1733.5" r="5.2"/><circle cx="2192.2" cy="1744.7" r="5.2"/><circle cx="2179.1" cy="1735.0" r="5.2"/><circle cx="2172.9" cy="1745.1" r="5.2"/><circle cx="2174.4" cy="1745.4" r="5.2"/><circle cx="2168.5" cy="1742.5" r="5.2"/><circle cx="2191.3" cy="1725.5" r="5.2"/><circle cx="2195.9" cy="1726.5" r="5.2"/><circle cx="2160.4" cy="1742.6" r="5.2"/><circle cx="2163.4" cy="1739.4" r="5.2"/><circle cx="2195.3" cy="1706.0" r="5.2"/><circle cx="2185.1" cy="1708.6" r="5.2"/><circle cx="2196.8" cy="1768.5" r="5.2"/><circle cx="2166.8" cy="1725.5" r="5.2"/><circle cx="2172.3" cy="1684.2" r="5.2"/><circle cx="2163.7" cy="1759.1" r="5.2"/><circle cx="2196.9" cy="1758.5" r="5.2"/><circle cx="2179.7" cy="1757.7" r="5.2"/><circle cx="2192.2" cy="1752.5" r="5.2"/><circle cx="2203.5" cy="1717.5" r="5.2"/><circle cx="2168.0" cy="1751.7" r="5.2"/><circle cx="2175.4" cy="1759.4" r="5.2"/><circle cx="2195.1" cy="1739.8" r="5.2"/><circle cx="2201.5" cy="1706.1" r="5.2"/><circle cx="2183.5" cy="1716.2" r="5.2"/><circle cx="2174.6" cy="1741.1" r="5.2"/><circle cx="2167.6" cy="1707.7" r="5.2"/><circle cx="2200.8" cy="1733.8" r="5.2"/><circle cx="2164.1" cy="1730.3" r="5.2"/><circle cx="2173.2" cy="1723.9" r="5.2"/><circle cx="2193.1" cy="1755.9" r="5.2"/><circle cx="2185.0" cy="1729.3" r="5.2"/><circle cx="2192.1" cy="1756.4" r="5.2"/><circle cx="2175.4" cy="1733.1" r="5.2"/><circle cx="2190.8" cy="1766.9" r="5.2"/><circle cx="2158.9" cy="1735.0" r="5.2"/><circle cx="2173.1" cy="1724.3" r="5.2"/><circle cx="2188.9" cy="1728.2" r="5.2"/><circle cx="2159.4" cy="1700.3" r="5.2"/><circle cx="2212.6" cy="1764.7" r="5.2"/><circle cx="2225.8" cy="1726.7" r="5.2"/><circle cx="2228.0" cy="1793.7" r="5.2"/><circle cx="2221.1" cy="1786.3" r="5.2"/><circle cx="2213.9" cy="1725.3" r="5.2"/><circle cx="2209.7" cy="1713.7" r="5.2"/><circle cx="2234.1" cy="1728.7" r="5.2"/><circle cx="2217.6" cy="1739.8" r="5.2"/><circle cx="2206.1" cy="1756.5" r="5.2"/><circle cx="2229.0" cy="1720.7" r="5.2"/><circle cx="2221.9" cy="1700.6" r="5.2"/><circle cx="2228.7" cy="1751.6" r="5.2"/><circle cx="2229.8" cy="1796.6" r="5.2"/><circle cx="2236.7" cy="1763.8" r="5.2"/><circle cx="2214.9" cy="1773.1" r="5.2"/><circle cx="2230.3" cy="1793.4" r="5.2"/><circle cx="2211.4" cy="1758.5" r="5.2"/><circle cx="2207.1" cy="1733.3" r="5.2"/><circle cx="2207.4" cy="1733.0" r="5.2"/><circle cx="2237.6" cy="1742.9" r="5.2"/><circle cx="2235.5" cy="1735.4" r="5.2"/><circle cx="2209.0" cy="1771.3" r="5.2"/><circle cx="2216.2" cy="1766.9" r="5.2"/><circle cx="2213.0" cy="1743.0" r="5.2"/><circle cx="2210.3" cy="1720.4" r="5.2"/><circle cx="2208.8" cy="1713.7" r="5.2"/><circle cx="2215.3" cy="1704.6" r="5.2"/><circle cx="2213.2" cy="1729.2" r="5.2"/><circle cx="2223.5" cy="1747.4" r="5.2"/><circle cx="2224.8" cy="1764.7" r="5.2"/><circle cx="2217.0" cy="1765.4" r="5.2"/><circle cx="2232.0" cy="1773.5" r="5.2"/><circle cx="2222.8" cy="1756.4" r="5.2"/><circle cx="2205.3" cy="1733.1" r="5.2"/><circle cx="2231.8" cy="1787.0" r="5.2"/><circle cx="2232.9" cy="1753.8" r="5.2"/><circle cx="2213.5" cy="1768.2" r="5.2"/><circle cx="2206.0" cy="1704.8" r="5.2"/><circle cx="2223.0" cy="1753.4" r="5.2"/><circle cx="2221.6" cy="1796.7" r="5.2"/><circle cx="2225.1" cy="1758.5" r="5.2"/><circle cx="2239.4" cy="1747.5" r="5.2"/><circle cx="2226.5" cy="1699.2" r="5.2"/><circle cx="2235.6" cy="1771.4" r="5.2"/><circle cx="2205.9" cy="1727.3" r="5.2"/><circle cx="2221.7" cy="1714.4" r="5.2"/><circle cx="2229.1" cy="1796.1" r="5.2"/><circle cx="2199.0" cy="1730.6" r="5.2"/><circle cx="2199.3" cy="1736.6" r="5.2"/><circle cx="2221.9" cy="1740.1" r="5.2"/><circle cx="2233.8" cy="1777.1" r="5.2"/><circle cx="2201.4" cy="1747.9" r="5.2"/><circle cx="2229.1" cy="1746.6" r="5.2"/><circle cx="2205.2" cy="1738.8" r="5.2"/><circle cx="2233.2" cy="1742.6" r="5.2"/><circle cx="2233.4" cy="1772.3" r="5.2"/><circle cx="2213.8" cy="1743.2" r="5.2"/><circle cx="2206.2" cy="1728.3" r="5.2"/><circle cx="2233.7" cy="1730.1" r="5.2"/><circle cx="2222.8" cy="1771.8" r="5.2"/><circle cx="2230.7" cy="1743.7" r="5.2"/><circle cx="2261.5" cy="1763.7" r="5.2"/><circle cx="2252.5" cy="1723.3" r="5.2"/><circle cx="2276.1" cy="1787.4" r="5.2"/><circle cx="2265.8" cy="1750.4" r="5.2"/><circle cx="2258.4" cy="1806.4" r="5.2"/><circle cx="2257.6" cy="1739.3" r="5.2"/><circle cx="2263.0" cy="1746.4" r="5.2"/><circle cx="2266.7" cy="1789.9" r="5.2"/><circle cx="2277.4" cy="1830.4" r="5.2"/><circle cx="2245.0" cy="1797.6" r="5.2"/><circle cx="2272.8" cy="1780.9" r="5.2"/><circle cx="2267.2" cy="1772.4" r="5.2"/><circle cx="2272.1" cy="1786.6" r="5.2"/><circle cx="2267.8" cy="1746.3" r="5.2"/><circle cx="2274.2" cy="1808.0" r="5.2"/><circle cx="2275.4" cy="1725.6" r="5.2"/><circle cx="2278.9" cy="1801.4" r="5.2"/><circle cx="2266.7" cy="1764.7" r="5.2"/><circle cx="2257.4" cy="1740.0" r="5.2"/><circle cx="2271.6" cy="1786.2" r="5.2"/><circle cx="2270.1" cy="1782.0" r="5.2"/><circle cx="2255.0" cy="1723.6" r="5.2"/><circle cx="2253.0" cy="1748.2" r="5.2"/><circle cx="2245.6" cy="1757.2" r="5.2"/><circle cx="2262.1" cy="1751.7" r="5.2"/><circle cx="2271.7" cy="1755.4" r="5.2"/><circle cx="2252.8" cy="1758.8" r="5.2"/><circle cx="2243.2" cy="1779.5" r="5.2"/><circle cx="2242.0" cy="1757.6" r="5.2"/><circle cx="2254.7" cy="1756.0" r="5.2"/><circle cx="2248.7" cy="1741.5" r="5.2"/><circle cx="2276.6" cy="1773.5" r="5.2"/><circle cx="2240.0" cy="1757.5" r="5.2"/><circle cx="2253.6" cy="1779.9" r="5.2"/><circle cx="2237.8" cy="1746.6" r="5.2"/><circle cx="2265.5" cy="1768.6" r="5.2"/><circle cx="2269.6" cy="1804.1" r="5.2"/><circle cx="2241.3" cy="1757.6" r="5.2"/><circle cx="2241.1" cy="1788.1" r="5.2"/><circle cx="2258.5" cy="1811.7" r="5.2"/><circle cx="2266.8" cy="1796.1" r="5.2"/><circle cx="2271.1" cy="1798.7" r="5.2"/><circle cx="2234.2" cy="1762.5" r="5.2"/><circle cx="2234.5" cy="1763.1" r="5.2"/><circle cx="2246.7" cy="1767.1" r="5.2"/><circle cx="2247.1" cy="1795.6" r="5.2"/><circle cx="2239.5" cy="1789.5" r="5.2"/><circle cx="2271.0" cy="1765.2" r="5.2"/><circle cx="2253.5" cy="1720.6" r="5.2"/><circle cx="2250.2" cy="1734.6" r="5.2"/><circle cx="2250.5" cy="1729.3" r="5.2"/><circle cx="2242.0" cy="1756.1" r="5.2"/><circle cx="2241.9" cy="1710.3" r="5.2"/><circle cx="2270.9" cy="1773.1" r="5.2"/><circle cx="2249.6" cy="1813.1" r="5.2"/><circle cx="2260.2" cy="1786.7" r="5.2"/><circle cx="2276.2" cy="1758.1" r="5.2"/><circle cx="2256.8" cy="1773.7" r="5.2"/><circle cx="2253.8" cy="1775.9" r="5.2"/><circle cx="2277.7" cy="1772.3" r="5.2"/><circle cx="2272.5" cy="1764.9" r="5.2"/><circle cx="2259.8" cy="1805.2" r="5.2"/><circle cx="2263.1" cy="1749.7" r="5.2"/><circle cx="2312.4" cy="1763.9" r="5.2"/><circle cx="2298.5" cy="1777.5" r="5.2"/><circle cx="2280.9" cy="1765.3" r="5.2"/><circle cx="2273.1" cy="1762.0" r="5.2"/><circle cx="2322.9" cy="1829.0" r="5.2"/><circle cx="2314.7" cy="1828.2" r="5.2"/><circle cx="2292.0" cy="1769.0" r="5.2"/><circle cx="2290.6" cy="1777.7" r="5.2"/><circle cx="2293.2" cy="1802.8" r="5.2"/><circle cx="2291.3" cy="1788.3" r="5.2"/><circle cx="2316.7" cy="1802.3" r="5.2"/><circle cx="2303.8" cy="1756.1" r="5.2"/><circle cx="2286.7" cy="1790.3" r="5.2"/><circle cx="2277.6" cy="1759.6" r="5.2"/><circle cx="2297.1" cy="1843.0" r="5.2"/><circle cx="2290.9" cy="1775.3" r="5.2"/><circle cx="2319.2" cy="1819.1" r="5.2"/><circle cx="2303.0" cy="1822.5" r="5.2"/><circle cx="2299.8" cy="1835.4" r="5.2"/><circle cx="2279.2" cy="1780.5" r="5.2"/><circle cx="2276.2" cy="1783.1" r="5.2"/><circle cx="2286.2" cy="1751.9" r="5.2"/><circle cx="2294.1" cy="1784.7" r="5.2"/><circle cx="2313.2" cy="1816.5" r="5.2"/><circle cx="2304.4" cy="1817.4" r="5.2"/><circle cx="2306.1" cy="1834.6" r="5.2"/><circle cx="2313.1" cy="1805.4" r="5.2"/><circle cx="2286.0" cy="1831.0" r="5.2"/><circle cx="2298.0" cy="1797.9" r="5.2"/><circle cx="2289.5" cy="1770.7" r="5.2"/><circle cx="2296.6" cy="1786.6" r="5.2"/><circle cx="2281.9" cy="1782.6" r="5.2"/><circle cx="2305.2" cy="1829.2" r="5.2"/><circle cx="2307.7" cy="1820.3" r="5.2"/><circle cx="2307.2" cy="1804.7" r="5.2"/><circle cx="2286.0" cy="1807.2" r="5.2"/><circle cx="2288.8" cy="1811.9" r="5.2"/><circle cx="2305.6" cy="1770.1" r="5.2"/><circle cx="2278.1" cy="1807.2" r="5.2"/><circle cx="2295.5" cy="1788.5" r="5.2"/><circle cx="2292.0" cy="1776.4" r="5.2"/><circle cx="2313.8" cy="1784.3" r="5.2"/><circle cx="2293.2" cy="1768.9" r="5.2"/><circle cx="2315.5" cy="1822.4" r="5.2"/><circle cx="2297.6" cy="1784.7" r="5.2"/><circle cx="2301.2" cy="1819.3" r="5.2"/><circle cx="2289.5" cy="1801.3" r="5.2"/><circle cx="2310.9" cy="1791.8" r="5.2"/><circle cx="2279.6" cy="1786.6" r="5.2"/><circle cx="2304.2" cy="1845.5" r="5.2"/><circle cx="2281.7" cy="1810.6" r="5.2"/><circle cx="2301.8" cy="1853.2" r="5.2"/><circle cx="2302.3" cy="1798.4" r="5.2"/><circle cx="2321.3" cy="1833.5" r="5.2"/><circle cx="2342.5" cy="1799.8" r="5.2"/><circle cx="2322.2" cy="1808.8" r="5.2"/><circle cx="2327.3" cy="1793.5" r="5.2"/><circle cx="2312.3" cy="1767.4" r="5.2"/><circle cx="2326.2" cy="1783.9" r="5.2"/><circle cx="2326.6" cy="1782.3" r="5.2"/><circle cx="2342.1" cy="1801.8" r="5.2"/><circle cx="2326.0" cy="1787.6" r="5.2"/><circle cx="2341.6" cy="1867.9" r="5.2"/><circle cx="2330.6" cy="1828.5" r="5.2"/><circle cx="2332.4" cy="1818.0" r="5.2"/><circle cx="2330.7" cy="1821.4" r="5.2"/><circle cx="2356.3" cy="1810.2" r="5.2"/><circle cx="2351.1" cy="1869.6" r="5.2"/><circle cx="2343.9" cy="1860.1" r="5.2"/><circle cx="2326.2" cy="1799.5" r="5.2"/><circle cx="2334.8" cy="1814.9" r="5.2"/><circle cx="2342.9" cy="1839.6" r="5.2"/><circle cx="2333.3" cy="1822.0" r="5.2"/><circle cx="2341.7" cy="1841.0" r="5.2"/><circle cx="2332.0" cy="1822.6" r="5.2"/><circle cx="2315.1" cy="1814.6" r="5.2"/><circle cx="2356.0" cy="1816.8" r="5.2"/><circle cx="2338.4" cy="1828.9" r="5.2"/><circle cx="2317.1" cy="1776.4" r="5.2"/><circle cx="2333.0" cy="1801.8" r="5.2"/><circle cx="2365.1" cy="1842.5" r="5.2"/><circle cx="2358.8" cy="1793.3" r="5.2"/><circle cx="2373.3" cy="1831.3" r="5.2"/><circle cx="2369.6" cy="1870.0" r="5.2"/><circle cx="2361.7" cy="1795.3" r="5.2"/><circle cx="2377.2" cy="1872.1" r="5.2"/><circle cx="2378.5" cy="1829.0" r="5.2"/><circle cx="2362.5" cy="1805.9" r="5.2"/><circle cx="2363.8" cy="1841.8" r="5.2"/><circle cx="2384.4" cy="1869.7" r="5.2"/><circle cx="2371.7" cy="1863.3" r="5.2"/><circle cx="2395.4" cy="1904.5" r="5.2"/><circle cx="2374.6" cy="1822.1" r="5.2"/><circle cx="2384.1" cy="1848.2" r="5.2"/><circle cx="2366.9" cy="1831.0" r="5.2"/><circle cx="2384.1" cy="1864.6" r="5.2"/><circle cx="2389.5" cy="1862.7" r="5.2"/><circle cx="2405.7" cy="1857.6" r="5.2"/><circle cx="2397.3" cy="1896.4" r="5.2"/><circle cx="2416.3" cy="1885.5" r="5.2"/><circle cx="2418.1" cy="1896.2" r="5.2"/><circle cx="2388.0" cy="1871.0" r="5.2"/><circle cx="2405.8" cy="1888.4" r="5.2"/><circle cx="2422.1" cy="1906.1" r="5.2"/><circle cx="2410.4" cy="1884.4" r="5.2"/><circle cx="2392.6" cy="1890.9" r="5.2"/><circle cx="2406.4" cy="1888.6" r="5.2"/><circle cx="2399.6" cy="1871.3" r="5.2"/><circle cx="2396.3" cy="1876.5" r="5.2"/><circle cx="2406.1" cy="1873.3" r="5.2"/><circle cx="2395.4" cy="1894.8" r="5.2"/><circle cx="2422.4" cy="1900.0" r="5.2"/><circle cx="2408.1" cy="1861.5" r="5.2"/><circle cx="2438.0" cy="1906.3" r="5.2"/><circle cx="2438.0" cy="1904.7" r="5.2"/><circle cx="1635.5" cy="1855.3" r="5.2"/><circle cx="1644.9" cy="1859.3" r="5.2"/><circle cx="1655.1" cy="1849.9" r="5.2"/><circle cx="1677.5" cy="1881.8" r="5.2"/><circle cx="1696.4" cy="1894.3" r="5.2"/><circle cx="1633.1" cy="1923.9" r="5.2"/><circle cx="1784.4" cy="1857.7" r="5.2"/><circle cx="1756.0" cy="1839.3" r="5.2"/><circle cx="1767.8" cy="1829.3" r="5.2"/><circle cx="1850.1" cy="1813.7" r="5.2"/><circle cx="1820.5" cy="1808.5" r="5.2"/><circle cx="1871.1" cy="1801.9" r="5.2"/><circle cx="1887.2" cy="1792.7" r="5.2"/><circle cx="1894.3" cy="1793.2" r="5.2"/><circle cx="1902.5" cy="1793.9" r="5.2"/><circle cx="1950.7" cy="1643.8" r="5.2"/><circle cx="1999.4" cy="1640.0" r="5.2"/><circle cx="2030.9" cy="1645.9" r="5.2"/><circle cx="1907.3" cy="1660.1" r="5.2"/><circle cx="1900.6" cy="1665.5" r="5.2"/><circle cx="1838.2" cy="1684.7" r="5.2"/><circle cx="1761.9" cy="1717.5" r="5.2"/><circle cx="1799.0" cy="1714.5" r="5.2"/><circle cx="1782.2" cy="1735.3" r="5.2"/><circle cx="1950.8" cy="1643.7" r="5.2"/><circle cx="1999.2" cy="1639.3" r="5.2"/><circle cx="2030.7" cy="1646.1" r="5.2"/><circle cx="2140.6" cy="1652.9" r="5.2"/><circle cx="2460.2" cy="1872.1" r="5.2"/><circle cx="2431.9" cy="1912.8" r="5.2"/><circle cx="2429.0" cy="1902.4" r="5.2"/><circle cx="2409.0" cy="1903.3" r="5.2"/><circle cx="2420.6" cy="1894.0" r="5.2"/><circle cx="2424.1" cy="1886.0" r="5.2"/><circle cx="2345.2" cy="1906.2" r="5.2"/><circle cx="2309.4" cy="1860.5" r="5.2"/><circle cx="2411.1" cy="1852.2" r="5.2"/><circle cx="2387.1" cy="1813.7" r="5.2"/><circle cx="2379.9" cy="1823.0" r="5.2"/><circle cx="2392.3" cy="1829.6" r="5.2"/><circle cx="2353.9" cy="1810.0" r="5.2"/><circle cx="2362.0" cy="1806.5" r="5.2"/><circle cx="2363.4" cy="1812.9" r="5.2"/><circle cx="2241.2" cy="1696.8" r="5.2"/><circle cx="2234.9" cy="1702.5" r="5.2"/><circle cx="2228.2" cy="1706.0" r="5.2"/><circle cx="2267.2" cy="1723.3" r="5.2"/><circle cx="2284.5" cy="1730.0" r="5.2"/><circle cx="2289.7" cy="1730.0" r="5.2"/><circle cx="2300.7" cy="1733.4" r="5.2"/></g>
<circle cx="2274.2" cy="1394.6" r="8.2" fill="#8f908b"/>
<circle cx="2272.2" cy="1467.9" r="5.3" fill="#2e2e2c"/>
<text font-size="46" font-family='"Liberation Sans", Arial, Helvetica, sans-serif' fill="#111" transform="translate(2300 1413.2) scale(1 1.045)" textLength="94" lengthAdjust="spacingAndGlyphs">Data</text>
<text font-size="46" font-family='"Liberation Sans", Arial, Helvetica, sans-serif' fill="#111" transform="translate(2298 1487.2) scale(1 1.045)" textLength="131" lengthAdjust="spacingAndGlyphs">Model</text>
</g>
</svg></body></html>
